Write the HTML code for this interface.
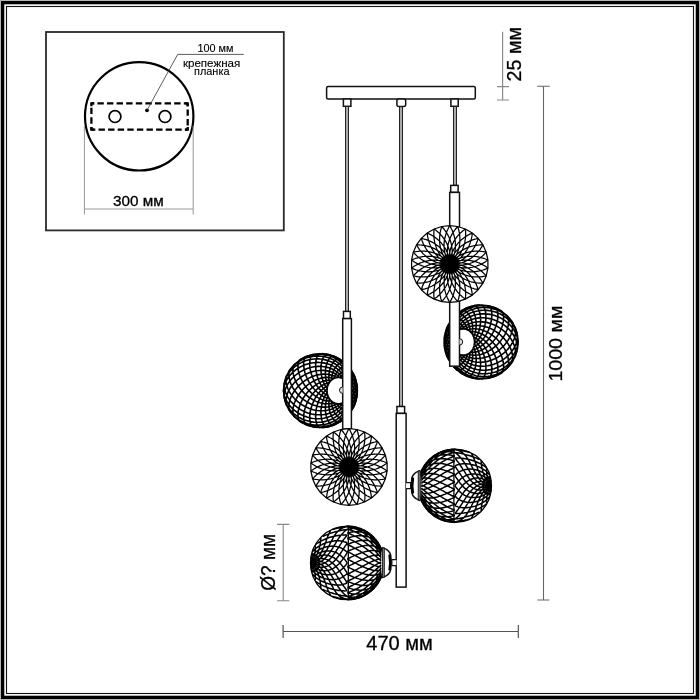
<!DOCTYPE html><html><head><meta charset="utf-8"><title>chandelier</title><style>html,body{margin:0;padding:0;background:#fff;width:700px;height:700px;overflow:hidden}svg{display:block;filter:grayscale(1)}</style></head><body><svg width="700" height="700" viewBox="0 0 700 700"><rect x="0" y="0" width="700" height="700" fill="#b4b4b4"/><rect x="1" y="1" width="698" height="698" fill="#000"/><rect x="4.3" y="4.3" width="691.4" height="691.4" fill="#fff"/><rect x="6.5" y="6.5" width="687" height="687" fill="none" stroke="#111" stroke-width="1.1"/><rect x="46" y="32" width="237.8" height="198.4" fill="none" stroke="#2a2a2a" stroke-width="1.8"/><circle cx="139.2" cy="116.3" r="54.2" fill="none" stroke="#000" stroke-width="2.2"/><path d="M84.4 126V214.5M193.2 126V214.5M84.4 209H193.2" fill="none" stroke="#999" stroke-width="1"/><path d="M91.4 103.4H187.7M187.7 103.4V129.7M187.7 129.7H91.4M91.4 129.7V103.4" fill="none" stroke="#000" stroke-width="2.3" stroke-dasharray="6.4 3.2" stroke-dashoffset="3.6" stroke-linecap="butt"/><path d="M90.4 103.4H94.2M91.4 102.4V106.2M188.7 103.4H184.9M187.7 102.4V106.2M188.7 129.7H184.9M187.7 130.7V126.9M90.4 129.7H94.2M91.4 130.7V126.9" fill="none" stroke="#000" stroke-width="2.3"/><circle cx="115" cy="116.6" r="5.9" fill="none" stroke="#000" stroke-width="1.7"/><circle cx="165" cy="116.6" r="5.9" fill="none" stroke="#000" stroke-width="1.7"/><circle cx="147" cy="110.3" r="1.9" fill="#000"/><path d="M147 110.3L177.7 54.4H243.7" fill="none" stroke="#333" stroke-width="0.8"/><text x="197.4" y="51.8" font-size="10" font-family="Liberation Sans, sans-serif" fill="#000" stroke="#000" stroke-width="0.12" textLength="36" lengthAdjust="spacingAndGlyphs">100 мм</text><text x="182.9" y="66.7" font-size="11" font-family="Liberation Sans, sans-serif" fill="#000" stroke="#000" stroke-width="0.12" textLength="57.4" lengthAdjust="spacingAndGlyphs">крепежная</text><text x="194" y="74.8" font-size="11" font-family="Liberation Sans, sans-serif" fill="#000" stroke="#000" stroke-width="0.12" textLength="35.5" lengthAdjust="spacingAndGlyphs">планка</text><text x="113.1" y="206.2" font-size="14.5" font-family="Liberation Sans, sans-serif" fill="#000" stroke="#000" stroke-width="0.3" textLength="50.7" lengthAdjust="spacingAndGlyphs">300 мм</text><path d="M502.6 31.7V100M497 86.7H509M497 100H509" fill="none" stroke="#8a8a8a" stroke-width="1.2"/><path d="M543.5 86.3V600M537.2 86.3H549.8M537.4 600H549.3" fill="none" stroke="#666" stroke-width="1.1"/><path d="M283.1 631.5H518.3M283.1 625V638M518.3 625V638" fill="none" stroke="#555" stroke-width="1.2"/><path d="M283.2 524.4V600.7M277.1 524.4H289.3M277.1 600.7H289.3" fill="none" stroke="#888" stroke-width="1.1"/><text x="366.3" y="650.1" font-size="20" font-family="Liberation Sans, sans-serif" fill="#000" stroke="#000" stroke-width="0.3" textLength="66.5" lengthAdjust="spacingAndGlyphs">470 мм</text><text transform="translate(521.1 81.4) rotate(-90)" font-size="20" font-family="Liberation Sans, sans-serif" fill="#000" stroke="#000" stroke-width="0.3" textLength="54.3" lengthAdjust="spacingAndGlyphs">25 мм</text><text transform="translate(562 381.6) rotate(-90)" font-size="19" font-family="Liberation Sans, sans-serif" fill="#000" stroke="#000" stroke-width="0.3" textLength="76" lengthAdjust="spacingAndGlyphs">1000 мм</text><text transform="translate(275.3 590.8) rotate(-90)" font-size="20" font-family="Liberation Sans, sans-serif" fill="#000" stroke="#000" stroke-width="0.3" textLength="57" lengthAdjust="spacingAndGlyphs">Ø? мм</text><rect x="326.6" y="86.6" width="148.7" height="12.3" rx="1.5" fill="#fff" stroke="#111" stroke-width="1.5"/><rect x="343.4" y="99" width="7.5" height="7.3" fill="#fff" stroke="#111" stroke-width="1.5"/><rect x="396.9" y="99" width="8.8" height="7.6" rx="2" fill="#fff" stroke="#111" stroke-width="1.5"/><rect x="450.9" y="99" width="7.3" height="7.3" fill="#fff" stroke="#111" stroke-width="1.5"/><rect x="345.5" y="106.5" width="3" height="204.7" fill="#aaa" stroke="#222" stroke-width="1"/><rect x="399.5" y="106.8" width="3" height="299.5" fill="#aaa" stroke="#222" stroke-width="1"/><rect x="453.5" y="106.5" width="3" height="78.7" fill="#aaa" stroke="#222" stroke-width="1"/><circle cx="481.1" cy="342" r="37" fill="#fff"/><path d="M447.8 325.8L448.3 325L448.9 324.2L449.6 323.5L450.4 322.9L451.2 322.4L452.1 322.1L453.1 321.9L454.1 321.8L455.1 321.8L456.2 322L457.3 322.3L458.5 322.8L459.6 323.4L460.7 324.2L461.8 325.2L462.8 326.3L463.8 327.6L464.7 329.1M447.8 358.2L448.3 359L448.9 359.8L449.6 360.5L450.4 361.1L451.2 361.6L452.1 361.9L453.1 362.1L454.1 362.2L455.1 362.2L456.2 362L457.3 361.7L458.5 361.2L459.6 360.6L460.7 359.8L461.8 358.8L462.8 357.7L463.8 356.4L464.7 354.9M451.6 319.7L452.2 319.1L452.9 318.6L453.6 318.2L454.4 318L455.2 317.8L456.1 317.8L457.1 317.9L458 318.1L459 318.5L460 319L461 319.6L462 320.4L463 321.4L463.9 322.4L464.8 323.7L465.6 325L466.4 326.6L467 328.2L467.5 330M445.3 351.5L445.7 352.6L446.2 353.7L446.8 354.7L447.5 355.6L448.2 356.4L449.1 357L450 357.6L451 358L452.1 358.3L453.2 358.5L454.4 358.5L455.6 358.4L456.9 358L458.1 357.5L459.4 356.9L460.6 356L461.8 354.9M456 314.8L456.6 314.4L457.2 314.1L457.9 313.9L458.7 313.8L459.5 313.9L460.3 314.1L461.1 314.3L461.9 314.8L462.8 315.3L463.7 316L464.5 316.8L465.3 317.8L466.1 318.8L466.9 320L467.6 321.4L468.3 322.8L468.8 324.4L469.3 326.1L469.7 327.9L469.9 329.7L470 331.7M444.2 344.8L444.4 346.1L444.7 347.4L445.2 348.7L445.7 349.8L446.4 350.9L447.1 351.9L448 352.8L449 353.5L450 354.2L451.1 354.7L452.3 355L453.6 355.2L454.9 355.2L456.2 355L457.6 354.7L459 354.1M461.4 310.7L462 310.4L462.6 310.3L463.3 310.3L463.9 310.4L464.6 310.6L465.4 311L466.1 311.5L466.8 312.1L467.5 312.8L468.2 313.6L468.9 314.6L469.6 315.7L470.2 316.9L470.8 318.2L471.3 319.6L471.7 321.1L472.1 322.8L472.4 324.5L472.6 326.3L472.7 328.2L472.6 330.1L472.4 332.1L472.1 334.1M444.7 335.1L444.5 336.7L444.4 338.2L444.4 339.8L444.5 341.3L444.8 342.8L445.1 344.2L445.6 345.5L446.3 346.8L447 347.9L447.8 349L448.8 350L449.9 350.8L451 351.5L452.3 352L453.6 352.3L455 352.4L456.4 352.4M467.7 307.5L468.3 307.5L468.8 307.5L469.4 307.7L470 307.9L470.6 308.3L471.2 308.9L471.8 309.5L472.4 310.3L473 311.1L473.5 312.1L474.1 313.2L474.5 314.4L475 315.7L475.3 317.1L475.7 318.6L475.9 320.2L476.1 321.9L476.2 323.7L476.2 325.5L476 327.4L475.8 329.3L475.5 331.2L475 333.2L474.3 335.1L473.5 337M447.9 325.7L447.1 327.3L446.5 328.9L446.1 330.6L445.7 332.3L445.5 334L445.4 335.6L445.4 337.3L445.6 338.9L445.9 340.4L446.3 341.9L446.9 343.4L447.6 344.7L448.4 345.9L449.4 347.1L450.5 348.1L451.7 348.9L453 349.5L454.4 350M474.1 305.7L474.6 305.6L475.1 305.7L475.7 305.9L476.2 306.3L476.7 306.7L477.2 307.2L477.7 307.9L478.2 308.7L478.6 309.6L479.1 310.6L479.4 311.7L479.8 312.9L480.1 314.2L480.3 315.6L480.5 317.1L480.6 318.6L480.6 320.3L480.6 322L480.4 323.8L480.2 325.6L479.9 327.4L479.4 329.3L478.9 331.2L478.2 333.1L477.5 335L476.5 336.9L475.5 338.6L474.3 340.3M457.6 313.4L456.1 314.7L454.8 316L453.5 317.4L452.3 318.9L451.2 320.5L450.3 322.1L449.4 323.8L448.7 325.5L448.1 327.2L447.6 328.9L447.2 330.7L447 332.5L447 334.2L447 335.9L447.2 337.6L447.6 339.3L448.1 340.8L448.8 342.3L449.6 343.7L450.6 345L451.7 346.1L452.9 347M481.3 305L481.8 305.1L482.3 305.4L482.8 305.7L483.3 306.2L483.7 306.8L484.1 307.5L484.5 308.3L484.9 309.2L485.2 310.2L485.4 311.3L485.6 312.5L485.8 313.8L485.9 315.2L485.9 316.6L485.9 318.2L485.8 319.8L485.6 321.4L485.3 323.1L485 324.9L484.5 326.7L484 328.5L483.4 330.4L482.6 332.2L481.8 334L480.8 335.8L479.7 337.6L478.6 339.3L477.3 340.9L475.8 342.4L474.3 343.7M479.9 305L477.9 305.1L475.9 305.4L473.9 305.7L471.9 306.2L470 306.8L468.2 307.5L466.3 308.3L464.5 309.2L462.8 310.2L461.2 311.3L459.6 312.5L458.1 313.8L456.7 315.2L455.4 316.6L454.2 318.2L453.1 319.8L452.1 321.4L451.2 323.1L450.4 324.9L449.8 326.7L449.4 328.5L449 330.4L448.8 332.2L448.8 334L448.9 335.8L449.2 337.6L449.7 339.3L450.4 340.9L451.2 342.4L452.1 343.7M488.1 305.7L488.6 305.8L489.1 306.1L489.5 306.5L489.9 307L490.3 307.6L490.7 308.3L491 309.1L491.3 310.1L491.5 311.1L491.7 312.2L491.8 313.4L491.8 314.7L491.8 316L491.7 317.4L491.6 318.9L491.3 320.5L491 322.1L490.6 323.8L490.2 325.5L489.6 327.2L488.9 328.9L488.2 330.7L487.3 332.5L486.4 334.2L485.4 335.9L484.2 337.6L483 339.3L481.6 340.8L480.2 342.3L478.7 343.7L477 345L475.3 346.1L473.5 347M502.7 312L501.1 310.9L499.4 309.9L497.6 309L495.8 308.2L493.9 307.5L492 306.9L490.1 306.4L488.1 306.1L486.1 305.8L484.1 305.7L482.1 305.6L480.1 305.7L478.1 305.9L476.1 306.3L474.1 306.7L472.2 307.2L470.3 307.9L468.4 308.7L466.6 309.6L464.8 310.6L463.1 311.7L461.5 312.9L460 314.2L458.5 315.6L457.2 317.1L456 318.6L454.8 320.3L453.8 322L452.9 323.8L452.2 325.6L451.6 327.4L451.1 329.3L450.9 331.2L450.7 333.1L450.8 335L451.1 336.9L451.5 338.6L452.1 340.3M495 307.7L495.5 308.1L496 308.5L496.4 309L496.8 309.7L497.1 310.4L497.4 311.2L497.6 312.2L497.8 313.2L497.9 314.3L497.9 315.5L497.8 316.8L497.7 318.1L497.6 319.5L497.3 321L497 322.5L496.5 324.1L496 325.7L495.4 327.3L494.8 328.9L494 330.6L493.1 332.3L492.2 334L491.1 335.6L490 337.3L488.8 338.9L487.5 340.4L486.1 341.9L484.6 343.4L483 344.7L481.3 345.9L479.6 347.1L477.8 348.1L475.9 348.9L474 349.5L472.1 350M513.3 323.8L512.3 322.2L511.2 320.7L510.1 319.3L508.8 317.9L507.4 316.5L506 315.3L504.5 314.1L502.9 313L501.2 312L499.5 311.1L497.7 310.3L495.8 309.5L493.9 308.9L492 308.4L490 308L488 307.7L486 307.5L484 307.5L482 307.5L480 307.7L477.9 307.9L476 308.3L474 308.9L472 309.5L470.1 310.3L468.3 311.1L466.5 312.1L464.8 313.2L463.1 314.4L461.6 315.7L460.1 317.1L458.7 318.6L457.4 320.2L456.3 321.9L455.3 323.7L454.4 325.5L453.7 327.4L453.2 329.3L452.8 331.2L452.6 333.2L452.7 335.1L452.9 337M501.3 311.1L501.8 311.6L502.2 312.1L502.6 312.8L503 313.6L503.2 314.5L503.4 315.4L503.5 316.5L503.6 317.6L503.6 318.8L503.5 320L503.3 321.4L503 322.7L502.7 324.2L502.3 325.7L501.8 327.2L501.2 328.7L500.5 330.3L499.7 331.9L498.8 333.5L497.9 335.1L496.8 336.7L495.7 338.2L494.5 339.8L493.2 341.3L491.8 342.8L490.3 344.2L488.7 345.5L487.1 346.8L485.4 347.9L483.6 349L481.8 350L479.9 350.8L478 351.5L476 352L474 352.3L472 352.4L470 352.4M517 333.2L516.5 331.6L515.9 330L515.2 328.5L514.3 326.9L513.4 325.4L512.3 323.9L511.2 322.5L510 321.1L508.6 319.8L507.2 318.6L505.7 317.4L504.2 316.3L502.5 315.2L500.8 314.3L499 313.4L497.2 312.7L495.3 312L493.4 311.5L491.4 311L489.4 310.7L487.4 310.4L485.4 310.3L483.3 310.3L481.3 310.4L479.2 310.6L477.2 311L475.2 311.5L473.3 312.1L471.3 312.8L469.4 313.6L467.6 314.6L465.9 315.7L464.2 316.9L462.6 318.2L461.1 319.6L459.7 321.1L458.5 322.8L457.4 324.5L456.4 326.3L455.6 328.2L455 330.1L454.5 332.1L454.3 334.1M506.8 315.4L507.2 316.1L507.7 316.8L508 317.6L508.3 318.5L508.5 319.5L508.6 320.6L508.6 321.8L508.6 323L508.4 324.3L508.2 325.6L507.9 327L507.5 328.4L507 329.8L506.4 331.3L505.8 332.8L505 334.3L504.1 335.9L503.2 337.4L502.1 338.9L501 340.4L499.8 341.9L498.5 343.3L497.1 344.8L495.7 346.1L494.1 347.4L492.5 348.7L490.8 349.8L489 350.9L487.2 351.9L485.3 352.8L483.4 353.5L481.5 354.2L479.5 354.7L477.4 355L475.4 355.2L473.4 355.2L471.4 355L469.4 354.7L467.5 354.1M518 343.1L518 341.6L517.9 340.2L517.6 338.6L517.2 337.1L516.7 335.6L516.2 334.1L515.4 332.6L514.6 331.1L513.7 329.6L512.7 328.1L511.6 326.7L510.4 325.4L509.1 324L507.7 322.8L506.2 321.6L504.7 320.4L503 319.4L501.3 318.4L499.6 317.5L497.8 316.7L495.9 316L494 315.3L492 314.8L490 314.4L488 314.1L486 313.9L483.9 313.8L481.8 313.9L479.8 314.1L477.7 314.3L475.7 314.8L473.7 315.3L471.8 316L469.9 316.8L468 317.8L466.2 318.8L464.6 320L463 321.4L461.5 322.8L460.1 324.4L458.9 326.1L457.9 327.9L457 329.7L456.4 331.7M511.2 320.5L511.6 321.3L512 322.2L512.3 323.2L512.5 324.3L512.6 325.4L512.7 326.6L512.6 327.8L512.4 329.1L512.2 330.5L511.9 331.8L511.4 333.3L510.9 334.7L510.3 336.2L509.5 337.6L508.7 339.1L507.8 340.6L506.8 342.1L505.7 343.5L504.5 345L503.2 346.4L501.8 347.7L500.4 349L498.9 350.3L497.3 351.5L495.6 352.6L493.9 353.7L492.1 354.7L490.2 355.6L488.3 356.4L486.3 357L484.3 357.6L482.3 358L480.3 358.3L478.2 358.5L476.2 358.5L474.1 358.4L472.1 358L470.1 357.5L468.2 356.9L466.4 356L464.6 354.9M517.1 350.1L517.3 348.8L517.4 347.5L517.3 346.1L517.2 344.7L516.9 343.3L516.5 341.8L516.1 340.3L515.5 338.9L514.8 337.4L514 335.9L513.1 334.5L512.1 333L511 331.6L509.9 330.2L508.6 328.9L507.2 327.6L505.8 326.4L504.2 325.2L502.6 324.1L501 323L499.2 322.1L497.4 321.2L495.6 320.4L493.7 319.7L491.7 319.1L489.7 318.6L487.7 318.2L485.7 318L483.6 317.8L481.5 317.8L479.5 317.9L477.4 318.1L475.4 318.5L473.4 319L471.4 319.6L469.5 320.4L467.6 321.4L465.9 322.4L464.2 323.7L462.7 325L461.2 326.6L460 328.2L458.9 330M514.8 327L515.2 328L515.4 329.2L515.5 330.4L515.6 331.6L515.5 332.9L515.4 334.2L515.1 335.6L514.8 337L514.3 338.5L513.7 339.9L513.1 341.4L512.3 342.9L511.4 344.3L510.5 345.8L509.4 347.2L508.3 348.6L507 350L505.7 351.3L504.3 352.6L502.8 353.8L501.3 355L499.6 356.1L497.9 357.2L496.1 358.2L494.3 359L492.4 359.8L490.5 360.5L488.5 361.1L486.5 361.6L484.4 361.9L482.4 362.1L480.3 362.2L478.2 362.2L476.2 362L474.1 361.7L472.1 361.2L470.2 360.6L468.3 359.8L466.5 358.8L464.8 357.7L463.2 356.4L461.7 354.9M514.8 357L515.2 356L515.4 354.8L515.5 353.6L515.6 352.4L515.5 351.1L515.4 349.8L515.1 348.4L514.8 347L514.3 345.5L513.7 344.1L513.1 342.6L512.3 341.1L511.4 339.7L510.5 338.2L509.4 336.8L508.3 335.4L507 334L505.7 332.7L504.3 331.4L502.8 330.2L501.3 329L499.6 327.9L497.9 326.8L496.1 325.8L494.3 325L492.4 324.2L490.5 323.5L488.5 322.9L486.5 322.4L484.4 322.1L482.4 321.9L480.3 321.8L478.2 321.8L476.2 322L474.1 322.3L472.1 322.8L470.2 323.4L468.3 324.2L466.5 325.2L464.8 326.3L463.2 327.6L461.7 329.1M517.1 333.9L517.3 335.2L517.4 336.5L517.3 337.9L517.2 339.3L516.9 340.7L516.5 342.2L516.1 343.7L515.5 345.1L514.8 346.6L514 348.1L513.1 349.5L512.1 351L511 352.4L509.9 353.8L508.6 355.1L507.2 356.4L505.8 357.6L504.2 358.8L502.6 359.9L501 361L499.2 361.9L497.4 362.8L495.6 363.6L493.7 364.3L491.7 364.9L489.7 365.4L487.7 365.8L485.7 366L483.6 366.2L481.5 366.2L479.5 366.1L477.4 365.9L475.4 365.5L473.4 365L471.4 364.4L469.5 363.6L467.6 362.6L465.9 361.6L464.2 360.3L462.7 359L461.2 357.4L460 355.8L458.9 354M511.2 363.5L511.6 362.7L512 361.8L512.3 360.8L512.5 359.7L512.6 358.6L512.7 357.4L512.6 356.2L512.4 354.9L512.2 353.5L511.9 352.2L511.4 350.7L510.9 349.3L510.3 347.8L509.5 346.4L508.7 344.9L507.8 343.4L506.8 341.9L505.7 340.5L504.5 339L503.2 337.6L501.8 336.3L500.4 335L498.9 333.7L497.3 332.5L495.6 331.4L493.9 330.3L492.1 329.3L490.2 328.4L488.3 327.6L486.3 327L484.3 326.4L482.3 326L480.3 325.7L478.2 325.5L476.2 325.5L474.1 325.6L472.1 326L470.1 326.5L468.2 327.1L466.4 328L464.6 329.1M518 340.9L518 342.4L517.9 343.8L517.6 345.4L517.2 346.9L516.7 348.4L516.2 349.9L515.4 351.4L514.6 352.9L513.7 354.4L512.7 355.9L511.6 357.3L510.4 358.6L509.1 360L507.7 361.2L506.2 362.4L504.7 363.6L503 364.6L501.3 365.6L499.6 366.5L497.8 367.3L495.9 368L494 368.7L492 369.2L490 369.6L488 369.9L486 370.1L483.9 370.2L481.8 370.1L479.8 369.9L477.7 369.7L475.7 369.2L473.7 368.7L471.8 368L469.9 367.2L468 366.2L466.2 365.2L464.6 364L463 362.6L461.5 361.2L460.1 359.6L458.9 357.9L457.9 356.1L457 354.3L456.4 352.3M506.8 368.6L507.2 367.9L507.7 367.2L508 366.4L508.3 365.5L508.5 364.5L508.6 363.4L508.6 362.2L508.6 361L508.4 359.7L508.2 358.4L507.9 357L507.5 355.6L507 354.2L506.4 352.7L505.8 351.2L505 349.7L504.1 348.1L503.2 346.6L502.1 345.1L501 343.6L499.8 342.1L498.5 340.7L497.1 339.2L495.7 337.9L494.1 336.6L492.5 335.3L490.8 334.2L489 333.1L487.2 332.1L485.3 331.2L483.4 330.5L481.5 329.8L479.5 329.3L477.4 329L475.4 328.8L473.4 328.8L471.4 329L469.4 329.3L467.5 329.9M517 350.8L516.5 352.4L515.9 354L515.2 355.5L514.3 357.1L513.4 358.6L512.3 360.1L511.2 361.5L510 362.9L508.6 364.2L507.2 365.4L505.7 366.6L504.2 367.7L502.5 368.8L500.8 369.7L499 370.6L497.2 371.3L495.3 372L493.4 372.5L491.4 373L489.4 373.3L487.4 373.6L485.4 373.7L483.3 373.7L481.3 373.6L479.2 373.4L477.2 373L475.2 372.5L473.3 371.9L471.3 371.2L469.4 370.4L467.6 369.4L465.9 368.3L464.2 367.1L462.6 365.8L461.1 364.4L459.7 362.9L458.5 361.2L457.4 359.5L456.4 357.7L455.6 355.8L455 353.9L454.5 351.9L454.3 349.9M501.3 372.9L501.8 372.4L502.2 371.9L502.6 371.2L503 370.4L503.2 369.5L503.4 368.6L503.5 367.5L503.6 366.4L503.6 365.2L503.5 364L503.3 362.6L503 361.3L502.7 359.8L502.3 358.3L501.8 356.8L501.2 355.3L500.5 353.7L499.7 352.1L498.8 350.5L497.9 348.9L496.8 347.3L495.7 345.8L494.5 344.2L493.2 342.7L491.8 341.2L490.3 339.8L488.7 338.5L487.1 337.2L485.4 336.1L483.6 335L481.8 334L479.9 333.2L478 332.5L476 332L474 331.7L472 331.6L470 331.6M513.3 360.2L512.3 361.8L511.2 363.3L510.1 364.7L508.8 366.1L507.4 367.5L506 368.7L504.5 369.9L502.9 371L501.2 372L499.5 372.9L497.7 373.7L495.8 374.5L493.9 375.1L492 375.6L490 376L488 376.3L486 376.5L484 376.5L482 376.5L480 376.3L477.9 376.1L476 375.7L474 375.1L472 374.5L470.1 373.7L468.3 372.9L466.5 371.9L464.8 370.8L463.1 369.6L461.6 368.3L460.1 366.9L458.7 365.4L457.4 363.8L456.3 362.1L455.3 360.3L454.4 358.5L453.7 356.6L453.2 354.7L452.8 352.8L452.6 350.8L452.7 348.9L452.9 347M495 376.3L495.5 375.9L496 375.5L496.4 375L496.8 374.3L497.1 373.6L497.4 372.8L497.6 371.8L497.8 370.8L497.9 369.7L497.9 368.5L497.8 367.2L497.7 365.9L497.6 364.5L497.3 363L497 361.5L496.5 359.9L496 358.3L495.4 356.7L494.8 355.1L494 353.4L493.1 351.7L492.2 350L491.1 348.4L490 346.7L488.8 345.1L487.5 343.6L486.1 342.1L484.6 340.6L483 339.3L481.3 338.1L479.6 336.9L477.8 335.9L475.9 335.1L474 334.5L472.1 334M502.7 372L501.1 373.1L499.4 374.1L497.6 375L495.8 375.8L493.9 376.5L492 377.1L490.1 377.6L488.1 377.9L486.1 378.2L484.1 378.3L482.1 378.4L480.1 378.3L478.1 378.1L476.1 377.7L474.1 377.3L472.2 376.8L470.3 376.1L468.4 375.3L466.6 374.4L464.8 373.4L463.1 372.3L461.5 371.1L460 369.8L458.5 368.4L457.2 366.9L456 365.4L454.8 363.7L453.8 362L452.9 360.2L452.2 358.4L451.6 356.6L451.1 354.7L450.9 352.8L450.7 350.9L450.8 349L451.1 347.1L451.5 345.4L452.1 343.7M488.1 378.3L488.6 378.2L489.1 377.9L489.5 377.5L489.9 377L490.3 376.4L490.7 375.7L491 374.9L491.3 373.9L491.5 372.9L491.7 371.8L491.8 370.6L491.8 369.3L491.8 368L491.7 366.6L491.6 365.1L491.3 363.5L491 361.9L490.6 360.2L490.2 358.5L489.6 356.8L488.9 355.1L488.2 353.3L487.3 351.5L486.4 349.8L485.4 348.1L484.2 346.4L483 344.7L481.6 343.2L480.2 341.7L478.7 340.3L477 339L475.3 337.9L473.5 337M479.9 379L477.9 378.9L475.9 378.6L473.9 378.3L471.9 377.8L470 377.2L468.2 376.5L466.3 375.7L464.5 374.8L462.8 373.8L461.2 372.7L459.6 371.5L458.1 370.2L456.7 368.8L455.4 367.4L454.2 365.8L453.1 364.2L452.1 362.6L451.2 360.9L450.4 359.1L449.8 357.3L449.4 355.5L449 353.6L448.8 351.8L448.8 350L448.9 348.2L449.2 346.4L449.7 344.7L450.4 343.1L451.2 341.6L452.1 340.3M481.3 379L481.8 378.9L482.3 378.6L482.8 378.3L483.3 377.8L483.7 377.2L484.1 376.5L484.5 375.7L484.9 374.8L485.2 373.8L485.4 372.7L485.6 371.5L485.8 370.2L485.9 368.8L485.9 367.4L485.9 365.8L485.8 364.2L485.6 362.6L485.3 360.9L485 359.1L484.5 357.3L484 355.5L483.4 353.6L482.6 351.8L481.8 350L480.8 348.2L479.7 346.4L478.6 344.7L477.3 343.1L475.8 341.6L474.3 340.3M457.6 370.6L456.1 369.3L454.8 368L453.5 366.6L452.3 365.1L451.2 363.5L450.3 361.9L449.4 360.2L448.7 358.5L448.1 356.8L447.6 355.1L447.2 353.3L447 351.5L447 349.8L447 348.1L447.2 346.4L447.6 344.7L448.1 343.2L448.8 341.7L449.6 340.3L450.6 339L451.7 337.9L452.9 337M474.1 378.3L474.6 378.4L475.1 378.3L475.7 378.1L476.2 377.7L476.7 377.3L477.2 376.8L477.7 376.1L478.2 375.3L478.6 374.4L479.1 373.4L479.4 372.3L479.8 371.1L480.1 369.8L480.3 368.4L480.5 366.9L480.6 365.4L480.6 363.7L480.6 362L480.4 360.2L480.2 358.4L479.9 356.6L479.4 354.7L478.9 352.8L478.2 350.9L477.5 349L476.5 347.1L475.5 345.4L474.3 343.7M447.9 358.3L447.1 356.7L446.5 355.1L446.1 353.4L445.7 351.7L445.5 350L445.4 348.4L445.4 346.7L445.6 345.1L445.9 343.6L446.3 342.1L446.9 340.6L447.6 339.3L448.4 338.1L449.4 336.9L450.5 335.9L451.7 335.1L453 334.5L454.4 334M467.7 376.5L468.3 376.5L468.8 376.5L469.4 376.3L470 376.1L470.6 375.7L471.2 375.1L471.8 374.5L472.4 373.7L473 372.9L473.5 371.9L474.1 370.8L474.5 369.6L475 368.3L475.3 366.9L475.7 365.4L475.9 363.8L476.1 362.1L476.2 360.3L476.2 358.5L476 356.6L475.8 354.7L475.5 352.8L475 350.8L474.3 348.9L473.5 347M444.7 348.9L444.5 347.3L444.4 345.8L444.4 344.2L444.5 342.7L444.8 341.2L445.1 339.8L445.6 338.5L446.3 337.2L447 336.1L447.8 335L448.8 334L449.9 333.2L451 332.5L452.3 332L453.6 331.7L455 331.6L456.4 331.6M461.4 373.3L462 373.6L462.6 373.7L463.3 373.7L463.9 373.6L464.6 373.4L465.4 373L466.1 372.5L466.8 371.9L467.5 371.2L468.2 370.4L468.9 369.4L469.6 368.3L470.2 367.1L470.8 365.8L471.3 364.4L471.7 362.9L472.1 361.2L472.4 359.5L472.6 357.7L472.7 355.8L472.6 353.9L472.4 351.9L472.1 349.9M444.2 339.2L444.4 337.9L444.7 336.6L445.2 335.3L445.7 334.2L446.4 333.1L447.1 332.1L448 331.2L449 330.5L450 329.8L451.1 329.3L452.3 329L453.6 328.8L454.9 328.8L456.2 329L457.6 329.3L459 329.9M456 369.2L456.6 369.6L457.2 369.9L457.9 370.1L458.7 370.2L459.5 370.1L460.3 369.9L461.1 369.7L461.9 369.2L462.8 368.7L463.7 368L464.5 367.2L465.3 366.2L466.1 365.2L466.9 364L467.6 362.6L468.3 361.2L468.8 359.6L469.3 357.9L469.7 356.1L469.9 354.3L470 352.3M445.3 332.5L445.7 331.4L446.2 330.3L446.8 329.3L447.5 328.4L448.2 327.6L449.1 327L450 326.4L451 326L452.1 325.7L453.2 325.5L454.4 325.5L455.6 325.6L456.9 326L458.1 326.5L459.4 327.1L460.6 328L461.8 329.1M451.6 364.3L452.2 364.9L452.9 365.4L453.6 365.8L454.4 366L455.2 366.2L456.1 366.2L457.1 366.1L458 365.9L459 365.5L460 365L461 364.4L462 363.6L463 362.6L463.9 361.6L464.8 360.3L465.6 359L466.4 357.4L467 355.8L467.5 354" fill="none" stroke="#000" stroke-width="1.6" stroke-linejoin="round"/><path d="M452 342L452.1 340.9L452.2 339.7L452.4 338.6L452.7 337.5L453.1 336.5L453.5 335.5L454.1 334.5L454.7 333.6L455.3 332.8L456 332L456.8 331.3L457.6 330.7L458.5 330.2L459.4 329.8L460.3 329.4L461.3 329.2L462.2 329L463.2 329L464.2 329L465.2 329.2L466.1 329.4L467 329.8L467.9 330.2L468.8 330.7L469.6 331.3L470.4 332L471.1 332.8L471.8 333.6L472.4 334.5L472.9 335.5L473.3 336.5L473.7 337.5L474 338.6L474.2 339.7L474.3 340.9L474.4 342L474.3 343.1L474.2 344.3L474 345.4L473.7 346.5L473.3 347.5L472.9 348.5L472.4 349.5L471.8 350.4L471.1 351.2L470.4 352L469.6 352.7L468.8 353.3L467.9 353.8L467 354.2L466.1 354.6L465.2 354.8L464.2 355L463.2 355L462.2 355L461.3 354.8L460.3 354.6L459.4 354.2L458.5 353.8L457.6 353.3L456.8 352.7L456 352L455.3 351.2L454.7 350.4L454.1 349.5L453.5 348.5L453.1 347.5L452.7 346.5L452.4 345.4L452.2 344.3L452.1 343.1L452 342" fill="none" stroke="#000" stroke-width="1.3"/><circle cx="481.1" cy="342" r="37" fill="none" stroke="#000" stroke-width="1.4"/><rect x="450.7" y="185.4" width="7.4" height="7.0" fill="#fff" stroke="#111" stroke-width="1.5"/><rect x="449.7" y="192.4" width="9.8" height="173.8" fill="#fff" stroke="#111" stroke-width="1.5"/><path d="M459.5 338.7A3.2 3.2 0 0 1 459.5 345.1" fill="#ddd" stroke="#111" stroke-width="1"/><circle cx="449.8" cy="264.1" r="38.4" fill="#fff"/><path d="M449.8 225.7L450.4 226.8L451 228L451.6 229.2L452.2 230.3L452.7 231.5L453.1 232.7L453.5 233.9L453.9 235.1L454.2 236.3L454.5 237.5L454.8 238.7L455 239.9L455.2 241.1L455.3 242.3L455.4 243.5L455.4 244.7L455.4 245.9L455.4 247.1L455.3 248.3L455.2 249.4L455 250.6L454.8 251.7L454.6 252.9L454.3 254L454 255.1L453.7 256.2L453.3 257.3L452.9 258.3L452.4 259.4M449.8 225.7L449.1 226.8L448.5 228L447.9 229.2L447.3 230.3L446.8 231.5L446.4 232.7L446 233.9L445.6 235.1L445.3 236.3L445 237.5L444.7 238.7L444.5 239.9L444.3 241.1L444.2 242.3L444.1 243.5L444.1 244.7L444.1 245.9L444.1 247.1L444.2 248.3L444.3 249.4L444.5 250.6L444.7 251.7L444.9 252.9L445.2 254L445.5 255.1L445.8 256.2L446.2 257.3L446.6 258.3L447.1 259.4M457.7 226.5L458.1 227.8L458.5 229.1L458.8 230.3L459.1 231.6L459.4 232.8L459.6 234.1L459.7 235.3L459.8 236.6L459.9 237.8L459.9 239.1L459.9 240.3L459.9 241.5L459.8 242.7L459.7 243.9L459.5 245.1L459.3 246.3L459.1 247.5L458.8 248.6L458.5 249.8L458.1 250.9L457.7 252L457.3 253.1L456.8 254.1L456.3 255.2L455.8 256.2L455.2 257.2L454.6 258.2L454 259.1L453.3 260M457.7 226.5L456.8 227.5L456 228.5L455.2 229.5L454.4 230.6L453.7 231.6L453 232.7L452.3 233.8L451.7 234.9L451.1 236L450.6 237.1L450.1 238.2L449.6 239.3L449.2 240.5L448.9 241.6L448.5 242.8L448.2 244L448 245.1L447.8 246.3L447.6 247.4L447.5 248.6L447.4 249.8L447.3 250.9L447.3 252.1L447.4 253.3L447.4 254.4L447.6 255.5L447.7 256.7L447.9 257.8L448.1 258.9M465.3 229L465.5 230.3L465.6 231.6L465.6 232.9L465.7 234.2L465.6 235.5L465.6 236.8L465.5 238L465.3 239.3L465.1 240.5L464.9 241.7L464.7 242.9L464.4 244.1L464 245.3L463.6 246.4L463.2 247.6L462.8 248.7L462.3 249.8L461.8 250.8L461.2 251.9L460.7 252.9L460.1 253.9L459.4 254.9L458.7 255.8L458 256.7L457.3 257.6L456.5 258.5L455.7 259.3L454.9 260.1L454.1 260.9M465.3 229L464.3 229.8L463.2 230.6L462.2 231.4L461.3 232.3L460.3 233.1L459.4 234L458.6 235L457.7 235.9L456.9 236.9L456.2 237.9L455.5 238.9L454.8 239.9L454.1 240.9L453.5 241.9L453 243L452.4 244.1L452 245.2L451.5 246.3L451.1 247.4L450.7 248.5L450.4 249.6L450.1 250.7L449.9 251.9L449.7 253L449.5 254.1L449.4 255.3L449.3 256.4L449.2 257.6L449.2 258.7M472.3 233L472.2 234.3L472 235.6L471.8 236.9L471.5 238.2L471.2 239.4L470.9 240.7L470.5 241.9L470.1 243.1L469.7 244.2L469.2 245.4L468.7 246.5L468.2 247.6L467.6 248.7L467 249.7L466.4 250.7L465.7 251.7L465 252.7L464.3 253.6L463.5 254.5L462.7 255.4L461.9 256.3L461.1 257.1L460.2 257.9L459.4 258.6L458.5 259.3L457.5 260L456.6 260.6L455.6 261.3L454.6 261.8M472.3 233L471.1 233.6L469.9 234.1L468.7 234.7L467.6 235.4L466.5 236L465.5 236.7L464.4 237.4L463.4 238.2L462.4 239L461.5 239.8L460.6 240.6L459.7 241.4L458.9 242.3L458.1 243.2L457.3 244.1L456.5 245.1L455.8 246L455.2 247L454.5 248L453.9 249L453.4 250L452.9 251.1L452.4 252.1L452 253.2L451.6 254.3L451.2 255.4L450.9 256.5L450.6 257.6L450.4 258.7M478.2 238.4L477.8 239.6L477.4 240.9L476.9 242.1L476.4 243.3L475.9 244.4L475.3 245.6L474.7 246.7L474 247.8L473.4 248.8L472.7 249.8L471.9 250.8L471.2 251.8L470.4 252.7L469.6 253.6L468.8 254.5L467.9 255.3L467 256.1L466.1 256.9L465.2 257.6L464.3 258.3L463.3 259L462.3 259.6L461.3 260.2L460.3 260.7L459.3 261.2L458.2 261.7L457.2 262.1L456.1 262.5L455 262.9M478.2 238.4L477 238.7L475.7 239L474.4 239.3L473.2 239.7L472 240.1L470.8 240.6L469.6 241.1L468.5 241.6L467.4 242.1L466.3 242.7L465.2 243.4L464.2 244L463.2 244.7L462.2 245.4L461.3 246.1L460.3 246.9L459.4 247.7L458.6 248.5L457.8 249.4L457 250.2L456.2 251.1L455.5 252L454.8 253L454.2 253.9L453.5 254.9L453 255.9L452.4 256.9L451.9 257.9L451.4 259M483 244.9L482.3 246L481.6 247.1L480.9 248.2L480.2 249.3L479.4 250.3L478.6 251.3L477.8 252.2L476.9 253.2L476 254.1L475.1 254.9L474.2 255.7L473.3 256.5L472.3 257.3L471.3 258L470.3 258.6L469.3 259.3L468.3 259.9L467.3 260.4L466.2 261L465.1 261.4L464.1 261.9L463 262.3L461.9 262.7L460.8 263L459.6 263.3L458.5 263.5L457.4 263.7L456.3 263.9L455.1 264M483 244.9L481.6 244.9L480.3 244.9L479 245L477.7 245.1L476.5 245.3L475.2 245.5L474 245.7L472.8 246L471.5 246.3L470.4 246.6L469.2 247L468 247.4L466.9 247.9L465.8 248.4L464.7 248.9L463.7 249.5L462.6 250.1L461.6 250.7L460.7 251.3L459.7 252L458.8 252.7L457.9 253.5L457 254.3L456.2 255.1L455.4 255.9L454.6 256.7L453.9 257.6L453.1 258.5L452.5 259.4M486.2 252.2L485.3 253.2L484.4 254.1L483.5 255L482.6 255.9L481.6 256.8L480.6 257.6L479.6 258.3L478.6 259L477.5 259.7L476.5 260.4L475.4 261L474.3 261.6L473.2 262.1L472.1 262.6L471 263L469.9 263.5L468.8 263.8L467.6 264.2L466.5 264.5L465.3 264.7L464.2 264.9L463 265.1L461.9 265.2L460.7 265.3L459.6 265.3L458.4 265.3L457.3 265.3L456.1 265.2L455 265.1M486.2 252.2L484.9 251.9L483.6 251.7L482.4 251.5L481.1 251.3L479.8 251.2L478.5 251.2L477.3 251.1L476 251.2L474.8 251.2L473.5 251.3L472.3 251.4L471.1 251.6L469.9 251.8L468.7 252.1L467.5 252.4L466.4 252.7L465.3 253.1L464.1 253.5L463.1 253.9L462 254.4L460.9 254.9L459.9 255.4L458.9 256L457.9 256.6L456.9 257.2L456 257.9L455.1 258.6L454.2 259.3L453.4 260.1M487.9 260L486.8 260.8L485.7 261.6L484.6 262.3L483.5 262.9L482.4 263.5L481.3 264.1L480.1 264.7L479 265.2L477.8 265.6L476.7 266L475.5 266.4L474.3 266.7L473.1 267L471.9 267.3L470.8 267.5L469.6 267.7L468.4 267.8L467.2 267.9L466 267.9L464.9 267.9L463.7 267.9L462.5 267.8L461.4 267.7L460.2 267.6L459.1 267.4L458 267.1L456.9 266.9L455.8 266.5L454.7 266.2M487.9 260L486.7 259.5L485.5 259L484.3 258.5L483 258.1L481.8 257.8L480.6 257.4L479.3 257.1L478.1 256.9L476.9 256.7L475.7 256.5L474.4 256.4L473.2 256.3L472 256.3L470.8 256.3L469.6 256.3L468.4 256.4L467.2 256.5L466 256.7L464.9 256.9L463.7 257.1L462.6 257.4L461.5 257.7L460.4 258.1L459.3 258.4L458.2 258.9L457.2 259.3L456.1 259.8L455.1 260.4L454.1 260.9M487.9 268.1L486.7 268.6L485.5 269.1L484.3 269.6L483 270L481.8 270.3L480.6 270.7L479.3 271L478.1 271.2L476.9 271.4L475.7 271.6L474.4 271.7L473.2 271.8L472 271.8L470.8 271.8L469.6 271.8L468.4 271.7L467.2 271.6L466 271.4L464.9 271.2L463.7 271L462.6 270.7L461.5 270.4L460.4 270L459.3 269.7L458.2 269.2L457.2 268.8L456.1 268.3L455.1 267.7L454.1 267.2M487.9 268.1L486.8 267.3L485.7 266.5L484.6 265.8L483.5 265.2L482.4 264.6L481.3 264L480.1 263.4L479 262.9L477.8 262.5L476.7 262.1L475.5 261.7L474.3 261.4L473.1 261.1L471.9 260.8L470.8 260.6L469.6 260.4L468.4 260.3L467.2 260.2L466 260.2L464.9 260.2L463.7 260.2L462.5 260.3L461.4 260.4L460.2 260.5L459.1 260.7L458 261L456.9 261.2L455.8 261.6L454.7 261.9M486.2 275.9L484.9 276.2L483.6 276.4L482.4 276.6L481.1 276.8L479.8 276.9L478.5 276.9L477.3 277L476 276.9L474.8 276.9L473.5 276.8L472.3 276.7L471.1 276.5L469.9 276.3L468.7 276L467.5 275.7L466.4 275.4L465.3 275L464.1 274.6L463.1 274.2L462 273.7L460.9 273.2L459.9 272.7L458.9 272.1L457.9 271.5L456.9 270.9L456 270.2L455.1 269.5L454.2 268.8L453.4 268M486.2 275.9L485.3 274.9L484.4 274L483.5 273.1L482.6 272.2L481.6 271.3L480.6 270.5L479.6 269.8L478.6 269.1L477.5 268.4L476.5 267.7L475.4 267.1L474.3 266.5L473.2 266L472.1 265.5L471 265.1L469.9 264.6L468.8 264.3L467.6 263.9L466.5 263.6L465.3 263.4L464.2 263.2L463 263L461.9 262.9L460.7 262.8L459.6 262.8L458.4 262.8L457.3 262.8L456.1 262.9L455 263M483 283.2L481.6 283.2L480.3 283.2L479 283.1L477.7 283L476.5 282.8L475.2 282.6L474 282.4L472.8 282.1L471.5 281.8L470.4 281.5L469.2 281.1L468 280.7L466.9 280.2L465.8 279.7L464.7 279.2L463.7 278.6L462.6 278L461.6 277.4L460.7 276.8L459.7 276.1L458.8 275.4L457.9 274.6L457 273.8L456.2 273L455.4 272.2L454.6 271.4L453.9 270.5L453.1 269.6L452.5 268.7M483 283.2L482.3 282.1L481.6 281L480.9 279.9L480.2 278.8L479.4 277.8L478.6 276.8L477.8 275.9L476.9 274.9L476 274L475.1 273.2L474.2 272.4L473.3 271.6L472.3 270.8L471.3 270.1L470.3 269.5L469.3 268.8L468.3 268.2L467.3 267.7L466.2 267.1L465.1 266.7L464.1 266.2L463 265.8L461.9 265.4L460.8 265.1L459.6 264.8L458.5 264.6L457.4 264.4L456.3 264.2L455.1 264.1M478.2 289.7L477 289.4L475.7 289.1L474.4 288.8L473.2 288.4L472 288L470.8 287.5L469.6 287L468.5 286.5L467.4 286L466.3 285.4L465.2 284.7L464.2 284.1L463.2 283.4L462.2 282.7L461.3 282L460.3 281.2L459.4 280.4L458.6 279.6L457.8 278.7L457 277.9L456.2 277L455.5 276.1L454.8 275.1L454.2 274.2L453.5 273.2L453 272.2L452.4 271.2L451.9 270.2L451.4 269.1M478.2 289.7L477.8 288.5L477.4 287.2L476.9 286L476.4 284.8L475.9 283.7L475.3 282.5L474.7 281.4L474 280.3L473.4 279.3L472.7 278.3L471.9 277.3L471.2 276.3L470.4 275.4L469.6 274.5L468.8 273.6L467.9 272.8L467 272L466.1 271.2L465.2 270.5L464.3 269.8L463.3 269.1L462.3 268.5L461.3 267.9L460.3 267.4L459.3 266.9L458.2 266.4L457.2 266L456.1 265.6L455 265.2M472.3 295.1L471.1 294.5L469.9 294L468.7 293.4L467.6 292.7L466.5 292.1L465.5 291.4L464.4 290.7L463.4 289.9L462.4 289.1L461.5 288.3L460.6 287.5L459.7 286.7L458.9 285.8L458.1 284.9L457.3 284L456.5 283L455.8 282.1L455.2 281.1L454.5 280.1L453.9 279.1L453.4 278.1L452.9 277L452.4 276L452 274.9L451.6 273.8L451.2 272.7L450.9 271.6L450.6 270.5L450.4 269.4M472.3 295.1L472.2 293.8L472 292.5L471.8 291.2L471.5 289.9L471.2 288.7L470.9 287.4L470.5 286.2L470.1 285L469.7 283.9L469.2 282.7L468.7 281.6L468.2 280.5L467.6 279.4L467 278.4L466.4 277.4L465.7 276.4L465 275.4L464.3 274.5L463.5 273.6L462.7 272.7L461.9 271.8L461.1 271L460.2 270.2L459.4 269.5L458.5 268.8L457.5 268.1L456.6 267.5L455.6 266.8L454.6 266.3M465.3 299.1L464.3 298.3L463.2 297.5L462.2 296.7L461.3 295.8L460.3 295L459.4 294.1L458.6 293.1L457.7 292.2L456.9 291.2L456.2 290.2L455.5 289.2L454.8 288.2L454.1 287.2L453.5 286.2L453 285.1L452.4 284L452 282.9L451.5 281.8L451.1 280.7L450.7 279.6L450.4 278.5L450.1 277.4L449.9 276.2L449.7 275.1L449.5 274L449.4 272.8L449.3 271.7L449.2 270.5L449.2 269.4M465.3 299.1L465.5 297.8L465.6 296.5L465.6 295.2L465.7 293.9L465.6 292.6L465.6 291.3L465.5 290.1L465.3 288.8L465.1 287.6L464.9 286.4L464.7 285.2L464.4 284L464 282.8L463.6 281.7L463.2 280.5L462.8 279.4L462.3 278.3L461.8 277.3L461.2 276.2L460.7 275.2L460.1 274.2L459.4 273.2L458.7 272.3L458 271.4L457.3 270.5L456.5 269.6L455.7 268.8L454.9 268L454.1 267.2M457.7 301.6L456.8 300.6L456 299.6L455.2 298.6L454.4 297.5L453.7 296.5L453 295.4L452.3 294.3L451.7 293.2L451.1 292.1L450.6 291L450.1 289.9L449.6 288.8L449.2 287.6L448.9 286.5L448.5 285.3L448.2 284.1L448 283L447.8 281.8L447.6 280.7L447.5 279.5L447.4 278.3L447.3 277.2L447.3 276L447.4 274.8L447.4 273.7L447.6 272.6L447.7 271.4L447.9 270.3L448.1 269.2M457.7 301.6L458.1 300.3L458.5 299L458.8 297.8L459.1 296.5L459.4 295.3L459.6 294L459.7 292.8L459.8 291.5L459.9 290.3L459.9 289L459.9 287.8L459.9 286.6L459.8 285.4L459.7 284.2L459.5 283L459.3 281.8L459.1 280.6L458.8 279.5L458.5 278.3L458.1 277.2L457.7 276.1L457.3 275L456.8 274L456.3 272.9L455.8 271.9L455.2 270.9L454.6 269.9L454 269L453.3 268.1M449.8 302.4L449.1 301.3L448.5 300.1L447.9 298.9L447.3 297.8L446.8 296.6L446.4 295.4L446 294.2L445.6 293L445.3 291.8L445 290.6L444.7 289.4L444.5 288.2L444.3 287L444.2 285.8L444.1 284.6L444.1 283.4L444.1 282.2L444.1 281L444.2 279.8L444.3 278.7L444.5 277.5L444.7 276.4L444.9 275.2L445.2 274.1L445.5 273L445.8 271.9L446.2 270.8L446.6 269.8L447.1 268.7M449.8 302.4L450.4 301.3L451 300.1L451.6 298.9L452.2 297.8L452.7 296.6L453.1 295.4L453.5 294.2L453.9 293L454.2 291.8L454.5 290.6L454.8 289.4L455 288.2L455.2 287L455.3 285.8L455.4 284.6L455.4 283.4L455.4 282.2L455.4 281L455.3 279.8L455.2 278.7L455 277.5L454.8 276.4L454.6 275.2L454.3 274.1L454 273L453.7 271.9L453.3 270.8L452.9 269.8L452.4 268.7M441.8 301.6L441.4 300.3L441 299L440.7 297.8L440.4 296.5L440.1 295.3L439.9 294L439.8 292.8L439.7 291.5L439.6 290.3L439.6 289L439.6 287.8L439.6 286.6L439.7 285.4L439.8 284.2L440 283L440.2 281.8L440.4 280.6L440.7 279.5L441 278.3L441.4 277.2L441.8 276.1L442.2 275L442.7 274L443.2 272.9L443.7 271.9L444.3 270.9L444.9 269.9L445.5 269L446.2 268.1M441.8 301.6L442.7 300.6L443.5 299.6L444.3 298.6L445.1 297.5L445.8 296.5L446.5 295.4L447.2 294.3L447.8 293.2L448.4 292.1L448.9 291L449.4 289.9L449.9 288.8L450.3 287.6L450.6 286.5L451 285.3L451.3 284.1L451.5 283L451.7 281.8L451.9 280.7L452 279.5L452.1 278.3L452.2 277.2L452.2 276L452.1 274.8L452.1 273.7L451.9 272.6L451.8 271.4L451.6 270.3L451.4 269.2M434.2 299.1L434 297.8L433.9 296.5L433.9 295.2L433.8 293.9L433.9 292.6L433.9 291.3L434 290.1L434.2 288.8L434.4 287.6L434.6 286.4L434.8 285.2L435.1 284L435.5 282.8L435.9 281.7L436.3 280.5L436.7 279.4L437.2 278.3L437.7 277.3L438.3 276.2L438.8 275.2L439.4 274.2L440.1 273.2L440.8 272.3L441.5 271.4L442.2 270.5L443 269.6L443.8 268.8L444.6 268L445.4 267.2M434.2 299.1L435.2 298.3L436.3 297.5L437.3 296.7L438.2 295.8L439.2 295L440.1 294.1L440.9 293.1L441.8 292.2L442.6 291.2L443.3 290.2L444 289.2L444.7 288.2L445.4 287.2L446 286.2L446.5 285.1L447.1 284L447.5 282.9L448 281.8L448.4 280.7L448.8 279.6L449.1 278.5L449.4 277.4L449.6 276.2L449.8 275.1L450 274L450.1 272.8L450.2 271.7L450.3 270.5L450.3 269.4M427.2 295.1L427.3 293.8L427.5 292.5L427.7 291.2L428 289.9L428.3 288.7L428.6 287.4L429 286.2L429.4 285L429.8 283.9L430.3 282.7L430.8 281.6L431.3 280.5L431.9 279.4L432.5 278.4L433.1 277.4L433.8 276.4L434.5 275.4L435.2 274.5L436 273.6L436.8 272.7L437.6 271.8L438.4 271L439.3 270.2L440.1 269.5L441 268.8L442 268.1L442.9 267.5L443.9 266.8L444.9 266.3M427.2 295.1L428.4 294.5L429.6 294L430.8 293.4L431.9 292.7L433 292.1L434 291.4L435.1 290.7L436.1 289.9L437.1 289.1L438 288.3L438.9 287.5L439.8 286.7L440.6 285.8L441.4 284.9L442.2 284L443 283L443.7 282.1L444.3 281.1L445 280.1L445.6 279.1L446.1 278.1L446.6 277L447.1 276L447.5 274.9L447.9 273.8L448.3 272.7L448.6 271.6L448.9 270.5L449.1 269.4M421.3 289.7L421.7 288.5L422.1 287.2L422.6 286L423.1 284.8L423.6 283.7L424.2 282.5L424.8 281.4L425.5 280.3L426.1 279.3L426.8 278.3L427.6 277.3L428.3 276.3L429.1 275.4L429.9 274.5L430.7 273.6L431.6 272.8L432.5 272L433.4 271.2L434.3 270.5L435.2 269.8L436.2 269.1L437.2 268.5L438.2 267.9L439.2 267.4L440.2 266.9L441.3 266.4L442.3 266L443.4 265.6L444.5 265.2M421.3 289.7L422.5 289.4L423.8 289.1L425.1 288.8L426.3 288.4L427.5 288L428.7 287.5L429.9 287L431 286.5L432.1 286L433.2 285.4L434.3 284.7L435.3 284.1L436.3 283.4L437.3 282.7L438.2 282L439.2 281.2L440.1 280.4L440.9 279.6L441.7 278.7L442.5 277.9L443.3 277L444 276.1L444.7 275.1L445.3 274.2L446 273.2L446.5 272.2L447.1 271.2L447.6 270.2L448.1 269.1M416.5 283.2L417.2 282.1L417.9 281L418.6 279.9L419.3 278.8L420.1 277.8L420.9 276.8L421.7 275.9L422.6 274.9L423.5 274L424.4 273.2L425.3 272.4L426.2 271.6L427.2 270.8L428.2 270.1L429.2 269.5L430.2 268.8L431.2 268.2L432.2 267.7L433.3 267.1L434.4 266.7L435.4 266.2L436.5 265.8L437.6 265.4L438.7 265.1L439.9 264.8L441 264.6L442.1 264.4L443.2 264.2L444.4 264.1M416.5 283.2L417.9 283.2L419.2 283.2L420.5 283.1L421.8 283L423 282.8L424.3 282.6L425.5 282.4L426.7 282.1L428 281.8L429.1 281.5L430.3 281.1L431.5 280.7L432.6 280.2L433.7 279.7L434.8 279.2L435.8 278.6L436.9 278L437.9 277.4L438.8 276.8L439.8 276.1L440.7 275.4L441.6 274.6L442.5 273.8L443.3 273L444.1 272.2L444.9 271.4L445.6 270.5L446.4 269.6L447 268.7M413.3 275.9L414.2 274.9L415.1 274L416 273.1L416.9 272.2L417.9 271.3L418.9 270.5L419.9 269.8L420.9 269.1L422 268.4L423 267.7L424.1 267.1L425.2 266.5L426.3 266L427.4 265.5L428.5 265.1L429.6 264.6L430.7 264.3L431.9 263.9L433 263.6L434.2 263.4L435.3 263.2L436.5 263L437.6 262.9L438.8 262.8L439.9 262.8L441.1 262.8L442.2 262.8L443.4 262.9L444.5 263M413.3 275.9L414.6 276.2L415.9 276.4L417.1 276.6L418.4 276.8L419.7 276.9L421 276.9L422.2 277L423.5 276.9L424.7 276.9L426 276.8L427.2 276.7L428.4 276.5L429.6 276.3L430.8 276L432 275.7L433.1 275.4L434.2 275L435.4 274.6L436.4 274.2L437.5 273.7L438.6 273.2L439.6 272.7L440.6 272.1L441.6 271.5L442.6 270.9L443.5 270.2L444.4 269.5L445.3 268.8L446.1 268M411.6 268.1L412.7 267.3L413.8 266.5L414.9 265.8L416 265.2L417.1 264.6L418.2 264L419.4 263.4L420.5 262.9L421.7 262.5L422.8 262.1L424 261.7L425.2 261.4L426.4 261.1L427.6 260.8L428.7 260.6L429.9 260.4L431.1 260.3L432.3 260.2L433.5 260.2L434.6 260.2L435.8 260.2L437 260.3L438.1 260.4L439.3 260.5L440.4 260.7L441.5 261L442.6 261.2L443.7 261.6L444.8 261.9M411.6 268.1L412.8 268.6L414 269.1L415.2 269.6L416.5 270L417.7 270.3L418.9 270.7L420.2 271L421.4 271.2L422.6 271.4L423.8 271.6L425.1 271.7L426.3 271.8L427.5 271.8L428.7 271.8L429.9 271.8L431.1 271.7L432.3 271.6L433.5 271.4L434.6 271.2L435.8 271L436.9 270.7L438 270.4L439.1 270L440.2 269.7L441.3 269.2L442.3 268.8L443.4 268.3L444.4 267.7L445.4 267.2M411.6 260L412.8 259.5L414 259L415.2 258.5L416.5 258.1L417.7 257.8L418.9 257.4L420.2 257.1L421.4 256.9L422.6 256.7L423.8 256.5L425.1 256.4L426.3 256.3L427.5 256.3L428.7 256.3L429.9 256.3L431.1 256.4L432.3 256.5L433.5 256.7L434.6 256.9L435.8 257.1L436.9 257.4L438 257.7L439.1 258.1L440.2 258.4L441.3 258.9L442.3 259.3L443.4 259.8L444.4 260.4L445.4 260.9M411.6 260L412.7 260.8L413.8 261.6L414.9 262.3L416 262.9L417.1 263.5L418.2 264.1L419.4 264.7L420.5 265.2L421.7 265.6L422.8 266L424 266.4L425.2 266.7L426.4 267L427.6 267.3L428.7 267.5L429.9 267.7L431.1 267.8L432.3 267.9L433.5 267.9L434.6 267.9L435.8 267.9L437 267.8L438.1 267.7L439.3 267.6L440.4 267.4L441.5 267.1L442.6 266.9L443.7 266.5L444.8 266.2M413.3 252.2L414.6 251.9L415.9 251.7L417.1 251.5L418.4 251.3L419.7 251.2L421 251.2L422.2 251.1L423.5 251.2L424.7 251.2L426 251.3L427.2 251.4L428.4 251.6L429.6 251.8L430.8 252.1L432 252.4L433.1 252.7L434.2 253.1L435.4 253.5L436.4 253.9L437.5 254.4L438.6 254.9L439.6 255.4L440.6 256L441.6 256.6L442.6 257.2L443.5 257.9L444.4 258.6L445.3 259.3L446.1 260.1M413.3 252.2L414.2 253.2L415.1 254.1L416 255L416.9 255.9L417.9 256.8L418.9 257.6L419.9 258.3L420.9 259L422 259.7L423 260.4L424.1 261L425.2 261.6L426.3 262.1L427.4 262.6L428.5 263L429.6 263.5L430.7 263.8L431.9 264.2L433 264.5L434.2 264.7L435.3 264.9L436.5 265.1L437.6 265.2L438.8 265.3L439.9 265.3L441.1 265.3L442.2 265.3L443.4 265.2L444.5 265.1M416.5 244.9L417.9 244.9L419.2 244.9L420.5 245L421.8 245.1L423 245.3L424.3 245.5L425.5 245.7L426.7 246L428 246.3L429.1 246.6L430.3 247L431.5 247.4L432.6 247.9L433.7 248.4L434.8 248.9L435.8 249.5L436.9 250.1L437.9 250.7L438.8 251.3L439.8 252L440.7 252.7L441.6 253.5L442.5 254.3L443.3 255.1L444.1 255.9L444.9 256.7L445.6 257.6L446.4 258.5L447 259.4M416.5 244.9L417.2 246L417.9 247.1L418.6 248.2L419.3 249.3L420.1 250.3L420.9 251.3L421.7 252.2L422.6 253.2L423.5 254.1L424.4 254.9L425.3 255.7L426.2 256.5L427.2 257.3L428.2 258L429.2 258.6L430.2 259.3L431.2 259.9L432.2 260.4L433.3 261L434.4 261.4L435.4 261.9L436.5 262.3L437.6 262.7L438.7 263L439.9 263.3L441 263.5L442.1 263.7L443.2 263.9L444.4 264M421.3 238.4L422.5 238.7L423.8 239L425.1 239.3L426.3 239.7L427.5 240.1L428.7 240.6L429.9 241.1L431 241.6L432.1 242.1L433.2 242.7L434.3 243.4L435.3 244L436.3 244.7L437.3 245.4L438.2 246.1L439.2 246.9L440.1 247.7L440.9 248.5L441.7 249.4L442.5 250.2L443.3 251.1L444 252L444.7 253L445.3 253.9L446 254.9L446.5 255.9L447.1 256.9L447.6 257.9L448.1 259M421.3 238.4L421.7 239.6L422.1 240.9L422.6 242.1L423.1 243.3L423.6 244.4L424.2 245.6L424.8 246.7L425.5 247.8L426.1 248.8L426.8 249.8L427.6 250.8L428.3 251.8L429.1 252.7L429.9 253.6L430.7 254.5L431.6 255.3L432.5 256.1L433.4 256.9L434.3 257.6L435.2 258.3L436.2 259L437.2 259.6L438.2 260.2L439.2 260.7L440.2 261.2L441.3 261.7L442.3 262.1L443.4 262.5L444.5 262.9M427.2 233L428.4 233.6L429.6 234.1L430.8 234.7L431.9 235.4L433 236L434 236.7L435.1 237.4L436.1 238.2L437.1 239L438 239.8L438.9 240.6L439.8 241.4L440.6 242.3L441.4 243.2L442.2 244.1L443 245.1L443.7 246L444.3 247L445 248L445.6 249L446.1 250L446.6 251.1L447.1 252.1L447.5 253.2L447.9 254.3L448.3 255.4L448.6 256.5L448.9 257.6L449.1 258.7M427.2 233L427.3 234.3L427.5 235.6L427.7 236.9L428 238.2L428.3 239.4L428.6 240.7L429 241.9L429.4 243.1L429.8 244.2L430.3 245.4L430.8 246.5L431.3 247.6L431.9 248.7L432.5 249.7L433.1 250.7L433.8 251.7L434.5 252.7L435.2 253.6L436 254.5L436.8 255.4L437.6 256.3L438.4 257.1L439.3 257.9L440.1 258.6L441 259.3L442 260L442.9 260.6L443.9 261.3L444.9 261.8M434.2 229L435.2 229.8L436.3 230.6L437.3 231.4L438.2 232.3L439.2 233.1L440.1 234L440.9 235L441.8 235.9L442.6 236.9L443.3 237.9L444 238.9L444.7 239.9L445.4 240.9L446 241.9L446.5 243L447.1 244.1L447.5 245.2L448 246.3L448.4 247.4L448.8 248.5L449.1 249.6L449.4 250.7L449.6 251.9L449.8 253L450 254.1L450.1 255.3L450.2 256.4L450.3 257.6L450.3 258.7M434.2 229L434 230.3L433.9 231.6L433.9 232.9L433.8 234.2L433.9 235.5L433.9 236.8L434 238L434.2 239.3L434.4 240.5L434.6 241.7L434.8 242.9L435.1 244.1L435.5 245.3L435.9 246.4L436.3 247.6L436.7 248.7L437.2 249.8L437.7 250.8L438.3 251.9L438.8 252.9L439.4 253.9L440.1 254.9L440.8 255.8L441.5 256.7L442.2 257.6L443 258.5L443.8 259.3L444.6 260.1L445.4 260.9M441.8 226.5L442.7 227.5L443.5 228.5L444.3 229.5L445.1 230.6L445.8 231.6L446.5 232.7L447.2 233.8L447.8 234.9L448.4 236L448.9 237.1L449.4 238.2L449.9 239.3L450.3 240.5L450.6 241.6L451 242.8L451.3 244L451.5 245.1L451.7 246.3L451.9 247.4L452 248.6L452.1 249.8L452.2 250.9L452.2 252.1L452.1 253.3L452.1 254.4L451.9 255.5L451.8 256.7L451.6 257.8L451.4 258.9M441.8 226.5L441.4 227.8L441 229.1L440.7 230.3L440.4 231.6L440.1 232.8L439.9 234.1L439.8 235.3L439.7 236.6L439.6 237.8L439.6 239.1L439.6 240.3L439.6 241.5L439.7 242.7L439.8 243.9L440 245.1L440.2 246.3L440.4 247.5L440.7 248.6L441 249.8L441.4 250.9L441.8 252L442.2 253.1L442.7 254.1L443.2 255.2L443.7 256.2L444.3 257.2L444.9 258.2L445.5 259.1L446.2 260" fill="none" stroke="#000" stroke-width="1.25" stroke-linejoin="round"/><path d="M449.8 225.7L457.7 226.5L465.3 229L472.3 233L478.2 238.4L483 244.9L486.2 252.2L487.9 260L487.9 268.1L486.2 275.9L483 283.2L478.2 289.7L472.3 295.1L465.3 299.1L457.7 301.6L449.8 302.4L441.8 301.6L434.2 299.1L427.2 295.1L421.3 289.7L416.5 283.2L413.3 275.9L411.6 268.1L411.6 260L413.3 252.2L416.5 244.9L421.3 238.4L427.2 233L434.2 229L441.8 226.5Z" fill="none" stroke="#000" stroke-width="1.25" stroke-linejoin="round"/><circle cx="449.8" cy="264.1" r="8.5" fill="#000"/><circle cx="320.5" cy="390.6" r="37" fill="#fff"/><path d="M286.7 405.6L286.4 404.6L286.1 403.4L286 402.2L286 401L286 399.7L286.2 398.4L286.4 397L286.8 395.6L287.3 394.1L287.8 392.7L288.5 391.2L289.2 389.7L290.1 388.3L291.1 386.8L292.1 385.4L293.3 384L294.5 382.6L295.8 381.3L297.2 380L298.7 378.8L300.3 377.6L301.9 376.5L303.7 375.4L305.4 374.4L307.3 373.6L309.2 372.8L311.1 372.1L313.1 371.5L315.1 371L317.1 370.7L319.2 370.5L321.3 370.4L323.3 370.4L325.4 370.6L327.4 370.9L329.4 371.4L331.4 372L333.3 372.8L335.1 373.8L336.8 374.9L338.4 376.2L339.8 377.7M286.7 375.6L286.4 376.6L286.1 377.8L286 379L286 380.2L286 381.5L286.2 382.8L286.4 384.2L286.8 385.6L287.3 387.1L287.8 388.5L288.5 390L289.2 391.5L290.1 392.9L291.1 394.4L292.1 395.8L293.3 397.2L294.5 398.6L295.8 399.9L297.2 401.2L298.7 402.4L300.3 403.6L301.9 404.7L303.7 405.8L305.4 406.8L307.3 407.6L309.2 408.4L311.1 409.1L313.1 409.7L315.1 410.2L317.1 410.5L319.2 410.7L321.3 410.8L323.3 410.8L325.4 410.6L327.4 410.3L329.4 409.8L331.4 409.2L333.3 408.4L335.1 407.4L336.8 406.3L338.4 405L339.8 403.5M284.4 398.7L284.3 397.4L284.2 396.1L284.2 394.7L284.4 393.3L284.6 391.9L285 390.4L285.5 388.9L286.1 387.5L286.8 386L287.5 384.5L288.4 383.1L289.4 381.6L290.5 380.2L291.7 378.8L293 377.5L294.3 376.2L295.8 375L297.3 373.8L298.9 372.7L300.6 371.6L302.3 370.7L304.1 369.8L306 369L307.9 368.3L309.8 367.7L311.8 367.2L313.9 366.8L315.9 366.6L318 366.4L320 366.4L322.1 366.5L324.2 366.7L326.2 367.1L328.2 367.6L330.2 368.2L332.1 369L333.9 370L335.7 371L337.3 372.3L338.9 373.6L340.3 375.2L341.6 376.8L342.6 378.6M290.4 369.1L289.9 369.9L289.6 370.8L289.3 371.8L289 372.9L288.9 374L288.9 375.2L289 376.4L289.1 377.7L289.4 379.1L289.7 380.4L290.1 381.9L290.7 383.3L291.3 384.8L292 386.2L292.8 387.7L293.8 389.2L294.8 390.7L295.9 392.1L297.1 393.6L298.3 395L299.7 396.3L301.1 397.6L302.7 398.9L304.3 400.1L305.9 401.2L307.7 402.3L309.5 403.3L311.3 404.2L313.3 405L315.2 405.6L317.2 406.2L319.2 406.6L321.3 406.9L323.3 407.1L325.4 407.1L327.4 407L329.4 406.6L331.4 406.1L333.3 405.5L335.2 404.6L336.9 403.5M283.5 391.7L283.5 390.2L283.7 388.8L283.9 387.2L284.3 385.7L284.8 384.2L285.4 382.7L286.1 381.2L286.9 379.7L287.8 378.2L288.8 376.7L290 375.3L291.2 374L292.5 372.6L293.9 371.4L295.3 370.2L296.9 369L298.5 368L300.2 367L302 366.1L303.8 365.3L305.7 364.6L307.6 363.9L309.5 363.4L311.5 363L313.6 362.7L315.6 362.5L317.6 362.4L319.7 362.5L321.8 362.7L323.8 362.9L325.8 363.4L327.8 363.9L329.8 364.6L331.7 365.4L333.5 366.4L335.3 367.4L337 368.6L338.6 370L340.1 371.4L341.4 373L342.6 374.7L343.6 376.5L344.5 378.3L345.2 380.3M294.8 364L294.3 364.7L293.9 365.4L293.6 366.2L293.3 367.1L293.1 368.1L293 369.2L292.9 370.4L293 371.6L293.1 372.9L293.3 374.2L293.7 375.6L294.1 377L294.5 378.4L295.1 379.9L295.8 381.4L296.6 382.9L297.4 384.5L298.4 386L299.4 387.5L300.5 389L301.7 390.5L303 391.9L304.4 393.4L305.9 394.7L307.4 396L309.1 397.3L310.8 398.4L312.5 399.5L314.3 400.5L316.2 401.4L318.1 402.1L320.1 402.8L322.1 403.3L324.1 403.6L326.1 403.8L328.2 403.8L330.2 403.6L332.2 403.3L334.1 402.7M284.6 381.8L285.1 380.2L285.7 378.6L286.4 377.1L287.2 375.5L288.2 374L289.2 372.5L290.3 371.1L291.6 369.7L292.9 368.4L294.3 367.2L295.8 366L297.4 364.9L299 363.8L300.8 362.9L302.5 362L304.4 361.3L306.3 360.6L308.2 360.1L310.1 359.6L312.1 359.3L314.1 359L316.2 358.9L318.2 358.9L320.3 359L322.3 359.2L324.3 359.6L326.3 360.1L328.3 360.7L330.2 361.4L332.1 362.2L333.9 363.2L335.7 364.3L337.4 365.5L339 366.8L340.4 368.2L341.8 369.7L343.1 371.4L344.2 373.1L345.2 374.9L346 376.8L346.6 378.7L347 380.7L347.2 382.7M300.2 359.7L299.7 360.2L299.3 360.7L298.9 361.4L298.6 362.2L298.3 363.1L298.1 364L298 365.1L298 366.2L298 367.4L298.1 368.6L298.2 370L298.5 371.3L298.8 372.8L299.3 374.3L299.8 375.8L300.4 377.3L301.1 378.9L301.9 380.5L302.7 382.1L303.7 383.7L304.7 385.3L305.9 386.8L307.1 388.4L308.4 389.9L309.8 391.4L311.3 392.8L312.8 394.1L314.5 395.4L316.2 396.5L317.9 397.6L319.8 398.6L321.7 399.4L323.6 400.1L325.6 400.6L327.6 400.9L329.6 401L331.6 401M288.3 372.4L289.3 370.8L290.3 369.3L291.5 367.9L292.8 366.5L294.1 365.1L295.6 363.9L297.1 362.7L298.7 361.6L300.4 360.6L302.1 359.7L303.9 358.9L305.7 358.1L307.6 357.5L309.6 357L311.5 356.6L313.5 356.3L315.5 356.1L317.5 356.1L319.6 356.1L321.6 356.3L323.6 356.5L325.6 356.9L327.6 357.5L329.5 358.1L331.4 358.9L333.3 359.7L335.1 360.7L336.8 361.8L338.4 363L340 364.3L341.5 365.7L342.8 367.2L344.1 368.8L345.2 370.5L346.2 372.3L347.1 374.1L347.8 376L348.4 377.9L348.7 379.8L348.9 381.8L348.9 383.7L348.7 385.6M306.5 356.3L306 356.7L305.6 357.1L305.2 357.6L304.8 358.3L304.5 359L304.2 359.8L304 360.8L303.8 361.8L303.7 362.9L303.7 364.1L303.7 365.4L303.8 366.7L304 368.1L304.3 369.6L304.6 371.1L305 372.7L305.5 374.3L306.1 375.9L306.8 377.5L307.6 379.2L308.4 380.9L309.4 382.6L310.4 384.2L311.6 385.9L312.8 387.5L314.1 389L315.5 390.5L317 392L318.6 393.3L320.2 394.5L322 395.7L323.8 396.7L325.6 397.5L327.5 398.1L329.5 398.6M298.9 360.6L300.5 359.5L302.2 358.5L304 357.6L305.8 356.8L307.6 356.1L309.5 355.5L311.5 355L313.4 354.7L315.4 354.4L317.4 354.3L319.5 354.2L321.5 354.3L323.5 354.5L325.5 354.9L327.4 355.3L329.4 355.8L331.3 356.5L333.2 357.3L335 358.2L336.7 359.2L338.4 360.3L340 361.5L341.6 362.8L343 364.2L344.4 365.7L345.6 367.2L346.7 368.9L347.7 370.6L348.6 372.4L349.4 374.2L350 376L350.4 377.9L350.7 379.8L350.8 381.7L350.7 383.6L350.5 385.5L350.1 387.2L349.4 388.9M313.5 354.3L313 354.4L312.5 354.7L312 355.1L311.6 355.6L311.2 356.2L310.8 356.9L310.5 357.7L310.3 358.7L310 359.7L309.9 360.8L309.8 362L309.7 363.3L309.7 364.6L309.8 366L310 367.5L310.2 369.1L310.5 370.7L310.9 372.4L311.4 374.1L312 375.8L312.6 377.5L313.4 379.3L314.2 381.1L315.1 382.8L316.2 384.5L317.3 386.2L318.6 387.9L319.9 389.4L321.3 390.9L322.9 392.3L324.5 393.6L326.2 394.7L328 395.6M321.7 353.6L323.7 353.7L325.7 354L327.7 354.3L329.6 354.8L331.5 355.4L333.4 356.1L335.2 356.9L337 357.8L338.7 358.8L340.4 359.9L342 361.1L343.5 362.4L344.9 363.8L346.2 365.2L347.4 366.8L348.5 368.4L349.5 370L350.4 371.7L351.1 373.5L351.7 375.3L352.2 377.1L352.5 379L352.7 380.8L352.7 382.6L352.6 384.4L352.3 386.2L351.8 387.9L351.2 389.5L350.4 391L349.4 392.3M320.2 353.6L319.7 353.7L319.2 354L318.7 354.3L318.3 354.8L317.8 355.4L317.4 356.1L317 356.9L316.7 357.8L316.4 358.8L316.1 359.9L315.9 361.1L315.8 362.4L315.7 363.8L315.6 365.2L315.7 366.8L315.8 368.4L315.9 370L316.2 371.7L316.6 373.5L317 375.3L317.5 377.1L318.2 379L318.9 380.8L319.8 382.6L320.7 384.4L321.8 386.2L323 387.9L324.3 389.5L325.7 391L327.3 392.3M343.9 362L345.4 363.3L346.8 364.6L348.1 366L349.2 367.5L350.3 369.1L351.3 370.7L352.1 372.4L352.9 374.1L353.5 375.8L354 377.5L354.3 379.3L354.5 381.1L354.6 382.8L354.5 384.5L354.3 386.2L353.9 387.9L353.4 389.4L352.8 390.9L351.9 392.3L351 393.6L349.9 394.7L348.6 395.6M327.5 354.3L326.9 354.2L326.4 354.3L325.9 354.5L325.4 354.9L324.8 355.3L324.3 355.8L323.8 356.5L323.4 357.3L322.9 358.2L322.5 359.2L322.1 360.3L321.8 361.5L321.5 362.8L321.3 364.2L321.1 365.7L321 367.2L320.9 368.9L321 370.6L321.1 372.4L321.4 374.2L321.7 376L322.1 377.9L322.6 379.8L323.3 381.7L324.1 383.6L325 385.5L326.1 387.2L327.3 388.9M353.7 374.3L354.4 375.9L355 377.5L355.5 379.2L355.8 380.9L356.1 382.6L356.2 384.2L356.1 385.9L356 387.5L355.7 389L355.2 390.5L354.6 392L353.9 393.3L353.1 394.5L352.2 395.7L351.1 396.7L349.9 397.5L348.6 398.1L347.2 398.6M333.8 356.1L333.3 356.1L332.7 356.1L332.1 356.3L331.5 356.5L330.9 356.9L330.3 357.5L329.7 358.1L329.1 358.9L328.5 359.7L328 360.7L327.5 361.8L327 363L326.6 364.3L326.2 365.7L325.9 367.2L325.6 368.8L325.5 370.5L325.4 372.3L325.4 374.1L325.5 376L325.7 377.9L326.1 379.8L326.6 381.8L327.2 383.7L328 385.6M356.8 383.7L357.1 385.3L357.2 386.8L357.2 388.4L357 389.9L356.8 391.4L356.4 392.8L355.9 394.1L355.3 395.4L354.6 396.5L353.7 397.6L352.7 398.6L351.7 399.4L350.5 400.1L349.3 400.6L347.9 400.9L346.5 401L345.1 401M340.1 359.3L339.6 359L338.9 358.9L338.3 358.9L337.6 359L336.9 359.2L336.2 359.6L335.5 360.1L334.8 360.7L334 361.4L333.3 362.2L332.6 363.2L332 364.3L331.4 365.5L330.8 366.8L330.3 368.2L329.8 369.7L329.4 371.4L329.1 373.1L328.9 374.9L328.9 376.8L328.9 378.7L329.1 380.7L329.5 382.7M357.4 393.4L357.2 394.7L356.8 396L356.4 397.3L355.8 398.4L355.2 399.5L354.4 400.5L353.5 401.4L352.6 402.1L351.5 402.8L350.4 403.3L349.2 403.6L348 403.8L346.6 403.8L345.3 403.6L343.9 403.3L342.6 402.7M345.6 363.4L345 363L344.3 362.7L343.6 362.5L342.9 362.4L342.1 362.5L341.3 362.7L340.5 362.9L339.6 363.4L338.8 363.9L337.9 364.6L337 365.4L336.2 366.4L335.4 367.4L334.6 368.6L333.9 370L333.3 371.4L332.7 373L332.2 374.7L331.9 376.5L331.6 378.3L331.5 380.3M356.3 400.1L355.9 401.2L355.4 402.3L354.8 403.3L354.1 404.2L353.3 405L352.5 405.6L351.5 406.2L350.5 406.6L349.4 406.9L348.3 407.1L347.1 407.1L345.9 407L344.7 406.6L343.4 406.1L342.2 405.5L340.9 404.6L339.8 403.5M350 368.3L349.4 367.7L348.7 367.2L348 366.8L347.2 366.6L346.3 366.4L345.4 366.4L344.5 366.5L343.5 366.7L342.5 367.1L341.5 367.6L340.6 368.2L339.6 369L338.6 370L337.7 371L336.8 372.3L335.9 373.6L335.2 375.2L334.6 376.8L334 378.6M353.8 406.8L353.3 407.6L352.6 408.4L352 409.1L351.2 409.7L350.4 410.2L349.5 410.5L348.5 410.7L347.5 410.8L346.4 410.8L345.3 410.6L344.2 410.3L343.1 409.8L342 409.2L340.8 408.4L339.7 407.4L338.7 406.3L337.7 405L336.9 403.5M353.8 374.4L353.3 373.6L352.6 372.8L352 372.1L351.2 371.5L350.4 371L349.5 370.7L348.5 370.5L347.5 370.4L346.4 370.4L345.3 370.6L344.2 370.9L343.1 371.4L342 372L340.8 372.8L339.7 373.8L338.7 374.9L337.7 376.2L336.9 377.7M350 412.9L349.4 413.5L348.7 414L348 414.4L347.2 414.6L346.3 414.8L345.4 414.8L344.5 414.7L343.5 414.5L342.5 414.1L341.5 413.6L340.6 413L339.6 412.2L338.6 411.2L337.7 410.2L336.8 408.9L335.9 407.6L335.2 406L334.6 404.4L334 402.6M356.3 381.1L355.9 380L355.4 378.9L354.8 377.9L354.1 377L353.3 376.2L352.5 375.6L351.5 375L350.5 374.6L349.4 374.3L348.3 374.1L347.1 374.1L345.9 374.2L344.7 374.6L343.4 375.1L342.2 375.7L340.9 376.6L339.8 377.7M345.6 417.8L345 418.2L344.3 418.5L343.6 418.7L342.9 418.8L342.1 418.7L341.3 418.5L340.5 418.3L339.6 417.8L338.8 417.3L337.9 416.6L337 415.8L336.2 414.8L335.4 413.8L334.6 412.6L333.9 411.2L333.3 409.8L332.7 408.2L332.2 406.5L331.9 404.7L331.6 402.9L331.5 400.9M357.4 387.8L357.2 386.5L356.8 385.2L356.4 383.9L355.8 382.8L355.2 381.7L354.4 380.7L353.5 379.8L352.6 379.1L351.5 378.4L350.4 377.9L349.2 377.6L348 377.4L346.6 377.4L345.3 377.6L343.9 377.9L342.6 378.5M340.1 421.9L339.6 422.2L338.9 422.3L338.3 422.3L337.6 422.2L336.9 422L336.2 421.6L335.5 421.1L334.8 420.5L334 419.8L333.3 419L332.6 418L332 416.9L331.4 415.7L330.8 414.4L330.3 413L329.8 411.5L329.4 409.8L329.1 408.1L328.9 406.3L328.9 404.4L328.9 402.5L329.1 400.5L329.5 398.5M356.8 397.5L357.1 395.9L357.2 394.4L357.2 392.8L357 391.3L356.8 389.8L356.4 388.4L355.9 387.1L355.3 385.8L354.6 384.7L353.7 383.6L352.7 382.6L351.7 381.8L350.5 381.1L349.3 380.6L347.9 380.3L346.5 380.2L345.1 380.2M333.8 425.1L333.3 425.1L332.7 425.1L332.1 424.9L331.5 424.7L330.9 424.3L330.3 423.7L329.7 423.1L329.1 422.3L328.5 421.5L328 420.5L327.5 419.4L327 418.2L326.6 416.9L326.2 415.5L325.9 414L325.6 412.4L325.5 410.7L325.4 408.9L325.4 407.1L325.5 405.2L325.7 403.3L326.1 401.4L326.6 399.4L327.2 397.5L328 395.6M353.7 406.9L354.4 405.3L355 403.7L355.5 402L355.8 400.3L356.1 398.6L356.2 397L356.1 395.3L356 393.7L355.7 392.2L355.2 390.7L354.6 389.2L353.9 387.9L353.1 386.7L352.2 385.5L351.1 384.5L349.9 383.7L348.6 383.1L347.2 382.6M327.5 426.9L326.9 427L326.4 426.9L325.9 426.7L325.4 426.3L324.8 425.9L324.3 425.4L323.8 424.7L323.4 423.9L322.9 423L322.5 422L322.1 420.9L321.8 419.7L321.5 418.4L321.3 417L321.1 415.5L321 414L320.9 412.3L321 410.6L321.1 408.8L321.4 407L321.7 405.2L322.1 403.3L322.6 401.4L323.3 399.5L324.1 397.6L325 395.7L326.1 394L327.3 392.3M343.9 419.2L345.4 417.9L346.8 416.6L348.1 415.2L349.2 413.7L350.3 412.1L351.3 410.5L352.1 408.8L352.9 407.1L353.5 405.4L354 403.7L354.3 401.9L354.5 400.1L354.6 398.4L354.5 396.7L354.3 395L353.9 393.3L353.4 391.8L352.8 390.3L351.9 388.9L351 387.6L349.9 386.5L348.6 385.6M320.2 427.6L319.7 427.5L319.2 427.2L318.7 426.9L318.3 426.4L317.8 425.8L317.4 425.1L317 424.3L316.7 423.4L316.4 422.4L316.1 421.3L315.9 420.1L315.8 418.8L315.7 417.4L315.6 416L315.7 414.4L315.8 412.8L315.9 411.2L316.2 409.5L316.6 407.7L317 405.9L317.5 404.1L318.2 402.2L318.9 400.4L319.8 398.6L320.7 396.8L321.8 395L323 393.3L324.3 391.7L325.7 390.2L327.3 388.9M321.7 427.6L323.7 427.5L325.7 427.2L327.7 426.9L329.6 426.4L331.5 425.8L333.4 425.1L335.2 424.3L337 423.4L338.7 422.4L340.4 421.3L342 420.1L343.5 418.8L344.9 417.4L346.2 416L347.4 414.4L348.5 412.8L349.5 411.2L350.4 409.5L351.1 407.7L351.7 405.9L352.2 404.1L352.5 402.2L352.7 400.4L352.7 398.6L352.6 396.8L352.3 395L351.8 393.3L351.2 391.7L350.4 390.2L349.4 388.9M313.5 426.9L313 426.8L312.5 426.5L312 426.1L311.6 425.6L311.2 425L310.8 424.3L310.5 423.5L310.3 422.5L310 421.5L309.9 420.4L309.8 419.2L309.7 417.9L309.7 416.6L309.8 415.2L310 413.7L310.2 412.1L310.5 410.5L310.9 408.8L311.4 407.1L312 405.4L312.6 403.7L313.4 401.9L314.2 400.1L315.1 398.4L316.2 396.7L317.3 395L318.6 393.3L319.9 391.8L321.3 390.3L322.9 388.9L324.5 387.6L326.2 386.5L328 385.6M298.9 420.6L300.5 421.7L302.2 422.7L304 423.6L305.8 424.4L307.6 425.1L309.5 425.7L311.5 426.2L313.4 426.5L315.4 426.8L317.4 426.9L319.5 427L321.5 426.9L323.5 426.7L325.5 426.3L327.4 425.9L329.4 425.4L331.3 424.7L333.2 423.9L335 423L336.7 422L338.4 420.9L340 419.7L341.6 418.4L343 417L344.4 415.5L345.6 414L346.7 412.3L347.7 410.6L348.6 408.8L349.4 407L350 405.2L350.4 403.3L350.7 401.4L350.8 399.5L350.7 397.6L350.5 395.7L350.1 394L349.4 392.3M306.5 424.9L306 424.5L305.6 424.1L305.2 423.6L304.8 422.9L304.5 422.2L304.2 421.4L304 420.4L303.8 419.4L303.7 418.3L303.7 417.1L303.7 415.8L303.8 414.5L304 413.1L304.3 411.6L304.6 410.1L305 408.5L305.5 406.9L306.1 405.3L306.8 403.7L307.6 402L308.4 400.3L309.4 398.6L310.4 397L311.6 395.3L312.8 393.7L314.1 392.2L315.5 390.7L317 389.2L318.6 387.9L320.2 386.7L322 385.5L323.8 384.5L325.6 383.7L327.5 383.1L329.5 382.6M288.3 408.8L289.3 410.4L290.3 411.9L291.5 413.3L292.8 414.7L294.1 416.1L295.6 417.3L297.1 418.5L298.7 419.6L300.4 420.6L302.1 421.5L303.9 422.3L305.7 423.1L307.6 423.7L309.6 424.2L311.5 424.6L313.5 424.9L315.5 425.1L317.5 425.1L319.6 425.1L321.6 424.9L323.6 424.7L325.6 424.3L327.6 423.7L329.5 423.1L331.4 422.3L333.3 421.5L335.1 420.5L336.8 419.4L338.4 418.2L340 416.9L341.5 415.5L342.8 414L344.1 412.4L345.2 410.7L346.2 408.9L347.1 407.1L347.8 405.2L348.4 403.3L348.7 401.4L348.9 399.4L348.9 397.5L348.7 395.6M300.2 421.5L299.7 421L299.3 420.5L298.9 419.8L298.6 419L298.3 418.1L298.1 417.2L298 416.1L298 415L298 413.8L298.1 412.6L298.2 411.2L298.5 409.9L298.8 408.4L299.3 406.9L299.8 405.4L300.4 403.9L301.1 402.3L301.9 400.7L302.7 399.1L303.7 397.5L304.7 395.9L305.9 394.4L307.1 392.8L308.4 391.3L309.8 389.8L311.3 388.4L312.8 387.1L314.5 385.8L316.2 384.7L317.9 383.6L319.8 382.6L321.7 381.8L323.6 381.1L325.6 380.6L327.6 380.3L329.6 380.2L331.6 380.2M284.6 399.4L285.1 401L285.7 402.6L286.4 404.1L287.2 405.7L288.2 407.2L289.2 408.7L290.3 410.1L291.6 411.5L292.9 412.8L294.3 414L295.8 415.2L297.4 416.3L299 417.4L300.8 418.3L302.5 419.2L304.4 419.9L306.3 420.6L308.2 421.1L310.1 421.6L312.1 421.9L314.1 422.2L316.2 422.3L318.2 422.3L320.3 422.2L322.3 422L324.3 421.6L326.3 421.1L328.3 420.5L330.2 419.8L332.1 419L333.9 418L335.7 416.9L337.4 415.7L339 414.4L340.4 413L341.8 411.5L343.1 409.8L344.2 408.1L345.2 406.3L346 404.4L346.6 402.5L347 400.5L347.2 398.5M294.8 417.2L294.3 416.5L293.9 415.8L293.6 415L293.3 414.1L293.1 413.1L293 412L292.9 410.8L293 409.6L293.1 408.3L293.3 407L293.7 405.6L294.1 404.2L294.5 402.8L295.1 401.3L295.8 399.8L296.6 398.3L297.4 396.7L298.4 395.2L299.4 393.7L300.5 392.2L301.7 390.7L303 389.3L304.4 387.8L305.9 386.5L307.4 385.2L309.1 383.9L310.8 382.8L312.5 381.7L314.3 380.7L316.2 379.8L318.1 379.1L320.1 378.4L322.1 377.9L324.1 377.6L326.1 377.4L328.2 377.4L330.2 377.6L332.2 377.9L334.1 378.5M283.5 389.5L283.5 391L283.7 392.4L283.9 394L284.3 395.5L284.8 397L285.4 398.5L286.1 400L286.9 401.5L287.8 403L288.8 404.5L290 405.9L291.2 407.2L292.5 408.6L293.9 409.8L295.3 411L296.9 412.2L298.5 413.2L300.2 414.2L302 415.1L303.8 415.9L305.7 416.6L307.6 417.3L309.5 417.8L311.5 418.2L313.6 418.5L315.6 418.7L317.6 418.8L319.7 418.7L321.8 418.5L323.8 418.3L325.8 417.8L327.8 417.3L329.8 416.6L331.7 415.8L333.5 414.8L335.3 413.8L337 412.6L338.6 411.2L340.1 409.8L341.4 408.2L342.6 406.5L343.6 404.7L344.5 402.9L345.2 400.9M290.4 412.1L289.9 411.3L289.6 410.4L289.3 409.4L289 408.3L288.9 407.2L288.9 406L289 404.8L289.1 403.5L289.4 402.1L289.7 400.8L290.1 399.3L290.7 397.9L291.3 396.4L292 395L292.8 393.5L293.8 392L294.8 390.5L295.9 389.1L297.1 387.6L298.3 386.2L299.7 384.9L301.1 383.6L302.7 382.3L304.3 381.1L305.9 380L307.7 378.9L309.5 377.9L311.3 377L313.3 376.2L315.2 375.6L317.2 375L319.2 374.6L321.3 374.3L323.3 374.1L325.4 374.1L327.4 374.2L329.4 374.6L331.4 375.1L333.3 375.7L335.2 376.6L336.9 377.7M284.4 382.5L284.3 383.8L284.2 385.1L284.2 386.5L284.4 387.9L284.6 389.3L285 390.8L285.5 392.3L286.1 393.7L286.8 395.2L287.5 396.7L288.4 398.1L289.4 399.6L290.5 401L291.7 402.4L293 403.7L294.3 405L295.8 406.2L297.3 407.4L298.9 408.5L300.6 409.6L302.3 410.5L304.1 411.4L306 412.2L307.9 412.9L309.8 413.5L311.8 414L313.9 414.4L315.9 414.6L318 414.8L320 414.8L322.1 414.7L324.2 414.5L326.2 414.1L328.2 413.6L330.2 413L332.1 412.2L333.9 411.2L335.7 410.2L337.3 408.9L338.9 407.6L340.3 406L341.6 404.4L342.6 402.6" fill="none" stroke="#000" stroke-width="1.6" stroke-linejoin="round"/><path d="M327.2 390.6L327.2 389.5L327.3 388.3L327.5 387.2L327.8 386.1L328.2 385.1L328.7 384.1L329.2 383.1L329.8 382.2L330.4 381.4L331.2 380.6L331.9 379.9L332.7 379.3L333.6 378.8L334.5 378.4L335.4 378L336.4 377.8L337.4 377.6L338.3 377.6L339.3 377.6L340.3 377.8L341.2 378L342.2 378.4L343.1 378.8L343.9 379.3L344.7 379.9L345.5 380.6L346.2 381.4L346.9 382.2L347.5 383.1L348 384.1L348.5 385.1L348.8 386.1L349.1 387.2L349.3 388.3L349.5 389.5L349.5 390.6L349.5 391.7L349.3 392.9L349.1 394L348.8 395.1L348.5 396.1L348 397.1L347.5 398.1L346.9 399L346.2 399.8L345.5 400.6L344.7 401.3L343.9 401.9L343.1 402.4L342.2 402.8L341.2 403.2L340.3 403.4L339.3 403.6L338.3 403.6L337.4 403.6L336.4 403.4L335.4 403.2L334.5 402.8L333.6 402.4L332.7 401.9L331.9 401.3L331.2 400.6L330.4 399.8L329.8 399L329.2 398.1L328.7 397.1L328.2 396.1L327.8 395.1L327.5 394L327.3 392.9L327.2 391.7L327.2 390.6" fill="none" stroke="#000" stroke-width="1.3"/><circle cx="320.5" cy="390.6" r="37" fill="none" stroke="#000" stroke-width="1.4"/><rect x="343.5" y="311.4" width="6.8" height="7.2" fill="#fff" stroke="#111" stroke-width="1.5"/><rect x="342.7" y="318.6" width="8.7" height="110.4" fill="#fff" stroke="#111" stroke-width="1.5"/><path d="M342.7 387A3.2 3.2 0 0 0 342.7 393.4" fill="#ddd" stroke="#111" stroke-width="1"/><circle cx="349" cy="467" r="38.3" fill="#fff"/><path d="M349 428.7L349.7 429.8L350.3 431L350.9 432.2L351.4 433.3L351.9 434.5L352.4 435.7L352.8 436.9L353.1 438.1L353.5 439.3L353.8 440.5L354 441.7L354.2 442.9L354.4 444.1L354.5 445.3L354.6 446.5L354.7 447.7L354.7 448.9L354.6 450.1L354.5 451.2L354.4 452.4L354.3 453.5L354.1 454.7L353.8 455.8L353.6 457L353.3 458.1L352.9 459.2L352.5 460.2L352.1 461.3L351.6 462.3M349 428.7L348.3 429.8L347.7 431L347.1 432.2L346.6 433.3L346.1 434.5L345.6 435.7L345.2 436.9L344.9 438.1L344.5 439.3L344.2 440.5L344 441.7L343.8 442.9L343.6 444.1L343.5 445.3L343.4 446.5L343.3 447.7L343.3 448.9L343.4 450.1L343.5 451.2L343.6 452.4L343.7 453.5L343.9 454.7L344.2 455.8L344.4 457L344.7 458.1L345.1 459.2L345.5 460.2L345.9 461.3L346.4 462.3M357 429.5L357.4 430.8L357.7 432L358.1 433.3L358.3 434.6L358.6 435.8L358.8 437.1L358.9 438.3L359.1 439.6L359.1 440.8L359.2 442.1L359.2 443.3L359.1 444.5L359 445.7L358.9 446.9L358.7 448.1L358.5 449.3L358.3 450.4L358 451.6L357.7 452.7L357.3 453.8L357 454.9L356.5 456L356.1 457.1L355.6 458.1L355 459.1L354.5 460.1L353.9 461.1L353.2 462.1L352.6 463M357 429.5L356.1 430.5L355.2 431.5L354.4 432.5L353.7 433.6L352.9 434.6L352.2 435.7L351.6 436.8L351 437.9L350.4 439L349.8 440.1L349.4 441.2L348.9 442.3L348.5 443.5L348.1 444.6L347.8 445.8L347.5 446.9L347.2 448.1L347 449.3L346.9 450.4L346.7 451.6L346.6 452.7L346.6 453.9L346.6 455.1L346.6 456.2L346.7 457.4L346.8 458.5L347 459.6L347.1 460.8L347.4 461.9M364.6 432L364.7 433.3L364.8 434.6L364.9 435.9L364.9 437.2L364.9 438.5L364.8 439.8L364.7 441L364.5 442.3L364.4 443.5L364.1 444.7L363.9 445.9L363.6 447.1L363.2 448.3L362.9 449.4L362.5 450.5L362 451.7L361.5 452.7L361 453.8L360.5 454.8L359.9 455.9L359.3 456.9L358.6 457.8L358 458.8L357.3 459.7L356.5 460.6L355.8 461.4L355 462.3L354.2 463L353.3 463.8M364.6 432L363.5 432.8L362.5 433.6L361.5 434.4L360.5 435.3L359.6 436.1L358.7 437L357.8 438L357 438.9L356.2 439.9L355.4 440.8L354.7 441.8L354 442.8L353.4 443.9L352.8 444.9L352.2 446L351.7 447.1L351.2 448.1L350.8 449.2L350.3 450.3L350 451.4L349.7 452.6L349.4 453.7L349.1 454.8L348.9 456L348.7 457.1L348.6 458.2L348.5 459.4L348.5 460.5L348.5 461.7M371.5 436L371.4 437.3L371.2 438.6L371 439.9L370.7 441.2L370.4 442.4L370.1 443.6L369.8 444.9L369.4 446L368.9 447.2L368.4 448.4L367.9 449.5L367.4 450.6L366.8 451.6L366.2 452.7L365.6 453.7L364.9 454.7L364.2 455.7L363.5 456.6L362.8 457.5L362 458.4L361.2 459.2L360.3 460L359.5 460.8L358.6 461.6L357.7 462.3L356.8 463L355.8 463.6L354.9 464.2L353.9 464.8M371.5 436L370.3 436.5L369.1 437.1L368 437.7L366.8 438.3L365.8 439L364.7 439.7L363.7 440.4L362.6 441.2L361.7 441.9L360.7 442.7L359.8 443.6L358.9 444.4L358.1 445.3L357.3 446.2L356.5 447.1L355.8 448L355.1 449L354.4 450L353.8 451L353.2 452L352.6 453L352.1 454.1L351.6 455.1L351.2 456.2L350.8 457.3L350.4 458.4L350.1 459.4L349.8 460.6L349.6 461.7M377.5 441.4L377.1 442.6L376.6 443.9L376.1 445.1L375.6 446.3L375.1 447.4L374.5 448.5L373.9 449.7L373.3 450.7L372.6 451.8L371.9 452.8L371.2 453.8L370.4 454.8L369.6 455.7L368.8 456.6L368 457.4L367.1 458.3L366.3 459.1L365.4 459.8L364.4 460.6L363.5 461.3L362.5 461.9L361.5 462.5L360.5 463.1L359.5 463.7L358.5 464.2L357.5 464.7L356.4 465.1L355.3 465.5L354.2 465.8M377.5 441.4L376.2 441.6L374.9 442L373.6 442.3L372.4 442.7L371.2 443.1L370 443.6L368.9 444L367.7 444.6L366.6 445.1L365.5 445.7L364.5 446.3L363.4 447L362.4 447.7L361.4 448.4L360.5 449.1L359.6 449.9L358.7 450.7L357.8 451.5L357 452.3L356.2 453.2L355.5 454.1L354.7 455L354.1 455.9L353.4 456.9L352.8 457.8L352.2 458.8L351.7 459.8L351.2 460.9L350.7 461.9M382.2 447.9L381.5 449L380.8 450.1L380.1 451.2L379.4 452.2L378.6 453.3L377.8 454.3L377 455.2L376.1 456.1L375.2 457L374.3 457.9L373.4 458.7L372.5 459.5L371.5 460.2L370.6 460.9L369.6 461.6L368.6 462.2L367.5 462.8L366.5 463.4L365.4 463.9L364.4 464.4L363.3 464.8L362.2 465.2L361.1 465.6L360 465.9L358.9 466.2L357.8 466.5L356.6 466.7L355.5 466.8L354.4 467M382.2 447.9L380.8 447.8L379.5 447.9L378.2 448L377 448.1L375.7 448.2L374.4 448.4L373.2 448.7L372 449L370.8 449.3L369.6 449.6L368.4 450L367.3 450.4L366.1 450.9L365 451.4L364 451.9L362.9 452.4L361.9 453L360.9 453.7L359.9 454.3L358.9 455L358 455.7L357.1 456.4L356.3 457.2L355.4 458L354.6 458.8L353.8 459.7L353.1 460.6L352.4 461.5L351.7 462.4M385.4 455.2L384.5 456.1L383.6 457.1L382.7 458L381.8 458.9L380.8 459.7L379.8 460.5L378.8 461.3L377.8 462L376.7 462.7L375.7 463.3L374.6 464L373.5 464.5L372.5 465.1L371.4 465.5L370.2 466L369.1 466.4L368 466.8L366.9 467.1L365.7 467.4L364.6 467.6L363.4 467.9L362.3 468L361.1 468.2L360 468.2L358.8 468.3L357.7 468.3L356.5 468.3L355.4 468.2L354.3 468.1M385.4 455.2L384.1 454.9L382.8 454.7L381.6 454.5L380.3 454.3L379 454.2L377.7 454.1L376.5 454.1L375.2 454.1L374 454.2L372.7 454.3L371.5 454.4L370.3 454.6L369.1 454.8L367.9 455L366.8 455.3L365.6 455.7L364.5 456L363.4 456.4L362.3 456.9L361.2 457.3L360.2 457.8L359.1 458.4L358.1 458.9L357.1 459.5L356.2 460.2L355.3 460.9L354.3 461.6L353.5 462.3L352.6 463M387.1 463L386 463.8L384.9 464.5L383.8 465.2L382.7 465.9L381.6 466.5L380.5 467.1L379.3 467.6L378.2 468.1L377 468.6L375.9 469L374.7 469.3L373.5 469.7L372.3 470L371.2 470.2L370 470.4L368.8 470.6L367.6 470.7L366.4 470.8L365.3 470.9L364.1 470.9L362.9 470.8L361.8 470.8L360.6 470.7L359.5 470.5L358.3 470.3L357.2 470.1L356.1 469.8L355 469.5L353.9 469.1M387.1 463L385.9 462.5L384.7 462L383.5 461.5L382.2 461.1L381 460.7L379.8 460.4L378.6 460.1L377.3 459.9L376.1 459.7L374.9 459.5L373.7 459.4L372.4 459.3L371.2 459.2L370 459.2L368.8 459.3L367.6 459.4L366.4 459.5L365.3 459.6L364.1 459.8L363 460.1L361.8 460.3L360.7 460.7L359.6 461L358.5 461.4L357.4 461.8L356.4 462.3L355.4 462.8L354.4 463.3L353.4 463.9M387.1 471L385.9 471.5L384.7 472L383.5 472.5L382.2 472.9L381 473.3L379.8 473.6L378.6 473.9L377.3 474.1L376.1 474.3L374.9 474.5L373.7 474.6L372.4 474.7L371.2 474.8L370 474.8L368.8 474.7L367.6 474.6L366.4 474.5L365.3 474.4L364.1 474.2L363 473.9L361.8 473.7L360.7 473.3L359.6 473L358.5 472.6L357.4 472.2L356.4 471.7L355.4 471.2L354.4 470.7L353.4 470.1M387.1 471L386 470.2L384.9 469.5L383.8 468.8L382.7 468.1L381.6 467.5L380.5 466.9L379.3 466.4L378.2 465.9L377 465.4L375.9 465L374.7 464.7L373.5 464.3L372.3 464L371.2 463.8L370 463.6L368.8 463.4L367.6 463.3L366.4 463.2L365.3 463.1L364.1 463.1L362.9 463.2L361.8 463.2L360.6 463.3L359.5 463.5L358.3 463.7L357.2 463.9L356.1 464.2L355 464.5L353.9 464.9M385.4 478.8L384.1 479.1L382.8 479.3L381.6 479.5L380.3 479.7L379 479.8L377.7 479.9L376.5 479.9L375.2 479.9L374 479.8L372.7 479.7L371.5 479.6L370.3 479.4L369.1 479.2L367.9 479L366.8 478.7L365.6 478.3L364.5 478L363.4 477.6L362.3 477.1L361.2 476.7L360.2 476.2L359.1 475.6L358.1 475.1L357.1 474.5L356.2 473.8L355.3 473.1L354.3 472.4L353.5 471.7L352.6 471M385.4 478.8L384.5 477.9L383.6 476.9L382.7 476L381.8 475.1L380.8 474.3L379.8 473.5L378.8 472.7L377.8 472L376.7 471.3L375.7 470.7L374.6 470L373.5 469.5L372.5 468.9L371.4 468.5L370.2 468L369.1 467.6L368 467.2L366.9 466.9L365.7 466.6L364.6 466.4L363.4 466.1L362.3 466L361.1 465.8L360 465.8L358.8 465.7L357.7 465.7L356.5 465.7L355.4 465.8L354.3 465.9M382.2 486.1L380.8 486.2L379.5 486.1L378.2 486L377 485.9L375.7 485.8L374.4 485.6L373.2 485.3L372 485L370.8 484.7L369.6 484.4L368.4 484L367.3 483.6L366.1 483.1L365 482.6L364 482.1L362.9 481.6L361.9 481L360.9 480.3L359.9 479.7L358.9 479L358 478.3L357.1 477.6L356.3 476.8L355.4 476L354.6 475.2L353.8 474.3L353.1 473.4L352.4 472.5L351.7 471.6M382.2 486.1L381.5 485L380.8 483.9L380.1 482.8L379.4 481.8L378.6 480.7L377.8 479.7L377 478.8L376.1 477.9L375.2 477L374.3 476.1L373.4 475.3L372.5 474.5L371.5 473.8L370.6 473.1L369.6 472.4L368.6 471.8L367.5 471.2L366.5 470.6L365.4 470.1L364.4 469.6L363.3 469.2L362.2 468.8L361.1 468.4L360 468.1L358.9 467.8L357.8 467.5L356.6 467.3L355.5 467.2L354.4 467M377.5 492.6L376.2 492.4L374.9 492L373.6 491.7L372.4 491.3L371.2 490.9L370 490.4L368.9 490L367.7 489.4L366.6 488.9L365.5 488.3L364.5 487.7L363.4 487L362.4 486.3L361.4 485.6L360.5 484.9L359.6 484.1L358.7 483.3L357.8 482.5L357 481.7L356.2 480.8L355.5 479.9L354.7 479L354.1 478.1L353.4 477.1L352.8 476.2L352.2 475.2L351.7 474.2L351.2 473.1L350.7 472.1M377.5 492.6L377.1 491.4L376.6 490.1L376.1 488.9L375.6 487.7L375.1 486.6L374.5 485.5L373.9 484.3L373.3 483.3L372.6 482.2L371.9 481.2L371.2 480.2L370.4 479.2L369.6 478.3L368.8 477.4L368 476.6L367.1 475.7L366.3 474.9L365.4 474.2L364.4 473.4L363.5 472.7L362.5 472.1L361.5 471.5L360.5 470.9L359.5 470.3L358.5 469.8L357.5 469.3L356.4 468.9L355.3 468.5L354.2 468.2M371.5 498L370.3 497.5L369.1 496.9L368 496.3L366.8 495.7L365.8 495L364.7 494.3L363.7 493.6L362.6 492.8L361.7 492.1L360.7 491.3L359.8 490.4L358.9 489.6L358.1 488.7L357.3 487.8L356.5 486.9L355.8 486L355.1 485L354.4 484L353.8 483L353.2 482L352.6 481L352.1 479.9L351.6 478.9L351.2 477.8L350.8 476.7L350.4 475.6L350.1 474.6L349.8 473.4L349.6 472.3M371.5 498L371.4 496.7L371.2 495.4L371 494.1L370.7 492.8L370.4 491.6L370.1 490.4L369.8 489.1L369.4 488L368.9 486.8L368.4 485.6L367.9 484.5L367.4 483.4L366.8 482.4L366.2 481.3L365.6 480.3L364.9 479.3L364.2 478.3L363.5 477.4L362.8 476.5L362 475.6L361.2 474.8L360.3 474L359.5 473.2L358.6 472.4L357.7 471.7L356.8 471L355.8 470.4L354.9 469.8L353.9 469.2M364.6 502L363.5 501.2L362.5 500.4L361.5 499.6L360.5 498.7L359.6 497.9L358.7 497L357.8 496L357 495.1L356.2 494.1L355.4 493.2L354.7 492.2L354 491.2L353.4 490.1L352.8 489.1L352.2 488L351.7 486.9L351.2 485.9L350.8 484.8L350.3 483.7L350 482.6L349.7 481.4L349.4 480.3L349.1 479.2L348.9 478L348.7 476.9L348.6 475.8L348.5 474.6L348.5 473.5L348.5 472.3M364.6 502L364.7 500.7L364.8 499.4L364.9 498.1L364.9 496.8L364.9 495.5L364.8 494.2L364.7 493L364.5 491.7L364.4 490.5L364.1 489.3L363.9 488.1L363.6 486.9L363.2 485.7L362.9 484.6L362.5 483.5L362 482.3L361.5 481.3L361 480.2L360.5 479.2L359.9 478.1L359.3 477.1L358.6 476.2L358 475.2L357.3 474.3L356.5 473.4L355.8 472.6L355 471.7L354.2 471L353.3 470.2M357 504.5L356.1 503.5L355.2 502.5L354.4 501.5L353.7 500.4L352.9 499.4L352.2 498.3L351.6 497.2L351 496.1L350.4 495L349.8 493.9L349.4 492.8L348.9 491.7L348.5 490.5L348.1 489.4L347.8 488.2L347.5 487.1L347.2 485.9L347 484.7L346.9 483.6L346.7 482.4L346.6 481.3L346.6 480.1L346.6 478.9L346.6 477.8L346.7 476.6L346.8 475.5L347 474.4L347.1 473.2L347.4 472.1M357 504.5L357.4 503.2L357.7 502L358.1 500.7L358.3 499.4L358.6 498.2L358.8 496.9L358.9 495.7L359.1 494.4L359.1 493.2L359.2 491.9L359.2 490.7L359.1 489.5L359 488.3L358.9 487.1L358.7 485.9L358.5 484.7L358.3 483.6L358 482.4L357.7 481.3L357.3 480.2L357 479.1L356.5 478L356.1 476.9L355.6 475.9L355 474.9L354.5 473.9L353.9 472.9L353.2 471.9L352.6 471M349 505.3L348.3 504.2L347.7 503L347.1 501.8L346.6 500.7L346.1 499.5L345.6 498.3L345.2 497.1L344.9 495.9L344.5 494.7L344.2 493.5L344 492.3L343.8 491.1L343.6 489.9L343.5 488.7L343.4 487.5L343.3 486.3L343.3 485.1L343.4 483.9L343.5 482.8L343.6 481.6L343.7 480.5L343.9 479.3L344.2 478.2L344.4 477L344.7 475.9L345.1 474.8L345.5 473.8L345.9 472.7L346.4 471.7M349 505.3L349.7 504.2L350.3 503L350.9 501.8L351.4 500.7L351.9 499.5L352.4 498.3L352.8 497.1L353.1 495.9L353.5 494.7L353.8 493.5L354 492.3L354.2 491.1L354.4 489.9L354.5 488.7L354.6 487.5L354.7 486.3L354.7 485.1L354.6 483.9L354.5 482.8L354.4 481.6L354.3 480.5L354.1 479.3L353.8 478.2L353.6 477L353.3 475.9L352.9 474.8L352.5 473.8L352.1 472.7L351.6 471.7M341 504.5L340.6 503.2L340.3 502L339.9 500.7L339.7 499.4L339.4 498.2L339.2 496.9L339.1 495.7L338.9 494.4L338.9 493.2L338.8 491.9L338.8 490.7L338.9 489.5L339 488.3L339.1 487.1L339.3 485.9L339.5 484.7L339.7 483.6L340 482.4L340.3 481.3L340.7 480.2L341 479.1L341.5 478L341.9 476.9L342.4 475.9L343 474.9L343.5 473.9L344.1 472.9L344.8 471.9L345.4 471M341 504.5L341.9 503.5L342.8 502.5L343.6 501.5L344.3 500.4L345.1 499.4L345.8 498.3L346.4 497.2L347 496.1L347.6 495L348.2 493.9L348.6 492.8L349.1 491.7L349.5 490.5L349.9 489.4L350.2 488.2L350.5 487.1L350.8 485.9L351 484.7L351.1 483.6L351.3 482.4L351.4 481.3L351.4 480.1L351.4 478.9L351.4 477.8L351.3 476.6L351.2 475.5L351 474.4L350.9 473.2L350.6 472.1M333.4 502L333.3 500.7L333.2 499.4L333.1 498.1L333.1 496.8L333.1 495.5L333.2 494.2L333.3 493L333.5 491.7L333.6 490.5L333.9 489.3L334.1 488.1L334.4 486.9L334.8 485.7L335.1 484.6L335.5 483.5L336 482.3L336.5 481.3L337 480.2L337.5 479.2L338.1 478.1L338.7 477.1L339.4 476.2L340 475.2L340.7 474.3L341.5 473.4L342.2 472.6L343 471.7L343.8 471L344.7 470.2M333.4 502L334.5 501.2L335.5 500.4L336.5 499.6L337.5 498.7L338.4 497.9L339.3 497L340.2 496L341 495.1L341.8 494.1L342.6 493.2L343.3 492.2L344 491.2L344.6 490.1L345.2 489.1L345.8 488L346.3 486.9L346.8 485.9L347.2 484.8L347.7 483.7L348 482.6L348.3 481.4L348.6 480.3L348.9 479.2L349.1 478L349.3 476.9L349.4 475.8L349.5 474.6L349.5 473.5L349.5 472.3M326.5 498L326.6 496.7L326.8 495.4L327 494.1L327.3 492.8L327.6 491.6L327.9 490.4L328.2 489.1L328.6 488L329.1 486.8L329.6 485.6L330.1 484.5L330.6 483.4L331.2 482.4L331.8 481.3L332.4 480.3L333.1 479.3L333.8 478.3L334.5 477.4L335.2 476.5L336 475.6L336.8 474.8L337.7 474L338.5 473.2L339.4 472.4L340.3 471.7L341.2 471L342.2 470.4L343.1 469.8L344.1 469.2M326.5 498L327.7 497.5L328.9 496.9L330 496.3L331.2 495.7L332.2 495L333.3 494.3L334.3 493.6L335.4 492.8L336.3 492.1L337.3 491.3L338.2 490.4L339.1 489.6L339.9 488.7L340.7 487.8L341.5 486.9L342.2 486L342.9 485L343.6 484L344.2 483L344.8 482L345.4 481L345.9 479.9L346.4 478.9L346.8 477.8L347.2 476.7L347.6 475.6L347.9 474.6L348.2 473.4L348.4 472.3M320.5 492.6L320.9 491.4L321.4 490.1L321.9 488.9L322.4 487.7L322.9 486.6L323.5 485.5L324.1 484.3L324.7 483.3L325.4 482.2L326.1 481.2L326.8 480.2L327.6 479.2L328.4 478.3L329.2 477.4L330 476.6L330.9 475.7L331.7 474.9L332.6 474.2L333.6 473.4L334.5 472.7L335.5 472.1L336.5 471.5L337.5 470.9L338.5 470.3L339.5 469.8L340.5 469.3L341.6 468.9L342.7 468.5L343.8 468.2M320.5 492.6L321.8 492.4L323.1 492L324.4 491.7L325.6 491.3L326.8 490.9L328 490.4L329.1 490L330.3 489.4L331.4 488.9L332.5 488.3L333.5 487.7L334.6 487L335.6 486.3L336.6 485.6L337.5 484.9L338.4 484.1L339.3 483.3L340.2 482.5L341 481.7L341.8 480.8L342.5 479.9L343.3 479L343.9 478.1L344.6 477.1L345.2 476.2L345.8 475.2L346.3 474.2L346.8 473.1L347.3 472.1M315.8 486.2L316.5 485L317.2 483.9L317.9 482.8L318.6 481.8L319.4 480.7L320.2 479.7L321 478.8L321.9 477.9L322.8 477L323.7 476.1L324.6 475.3L325.5 474.5L326.5 473.8L327.4 473.1L328.4 472.4L329.4 471.8L330.5 471.2L331.5 470.6L332.6 470.1L333.6 469.6L334.7 469.2L335.8 468.8L336.9 468.4L338 468.1L339.1 467.8L340.2 467.5L341.4 467.3L342.5 467.2L343.6 467M315.8 486.2L317.2 486.2L318.5 486.1L319.8 486L321 485.9L322.3 485.8L323.6 485.6L324.8 485.3L326 485L327.2 484.7L328.4 484.4L329.6 484L330.7 483.6L331.9 483.1L333 482.6L334 482.1L335.1 481.6L336.1 481L337.1 480.3L338.1 479.7L339.1 479L340 478.3L340.9 477.6L341.7 476.8L342.6 476L343.4 475.2L344.2 474.3L344.9 473.4L345.6 472.5L346.3 471.6M312.6 478.8L313.5 477.9L314.4 476.9L315.3 476L316.2 475.1L317.2 474.3L318.2 473.5L319.2 472.7L320.2 472L321.3 471.3L322.3 470.7L323.4 470L324.5 469.5L325.5 468.9L326.6 468.5L327.8 468L328.9 467.6L330 467.2L331.1 466.9L332.3 466.6L333.4 466.4L334.6 466.1L335.7 466L336.9 465.8L338 465.8L339.2 465.7L340.3 465.7L341.5 465.7L342.6 465.8L343.7 465.9M312.6 478.8L313.9 479.1L315.2 479.3L316.4 479.5L317.7 479.7L319 479.8L320.3 479.9L321.5 479.9L322.8 479.9L324 479.8L325.3 479.7L326.5 479.6L327.7 479.4L328.9 479.2L330.1 479L331.2 478.7L332.4 478.3L333.5 478L334.6 477.6L335.7 477.1L336.8 476.7L337.8 476.2L338.9 475.6L339.9 475.1L340.9 474.5L341.8 473.8L342.7 473.1L343.7 472.4L344.5 471.7L345.4 471M310.9 471L312 470.2L313.1 469.5L314.2 468.8L315.3 468.1L316.4 467.5L317.5 466.9L318.7 466.4L319.8 465.9L321 465.4L322.1 465L323.3 464.7L324.5 464.3L325.7 464L326.8 463.8L328 463.6L329.2 463.4L330.4 463.3L331.6 463.2L332.7 463.1L333.9 463.1L335.1 463.2L336.2 463.2L337.4 463.3L338.5 463.5L339.7 463.7L340.8 463.9L341.9 464.2L343 464.5L344.1 464.9M310.9 471L312.1 471.5L313.3 472L314.5 472.5L315.8 472.9L317 473.3L318.2 473.6L319.4 473.9L320.7 474.1L321.9 474.3L323.1 474.5L324.3 474.6L325.6 474.7L326.8 474.8L328 474.8L329.2 474.7L330.4 474.6L331.6 474.5L332.7 474.4L333.9 474.2L335 473.9L336.2 473.7L337.3 473.3L338.4 473L339.5 472.6L340.6 472.2L341.6 471.7L342.6 471.2L343.6 470.7L344.6 470.1M310.9 463L312.1 462.5L313.3 462L314.5 461.5L315.8 461.1L317 460.7L318.2 460.4L319.4 460.1L320.7 459.9L321.9 459.7L323.1 459.5L324.3 459.4L325.6 459.3L326.8 459.2L328 459.2L329.2 459.3L330.4 459.4L331.6 459.5L332.7 459.6L333.9 459.8L335 460.1L336.2 460.3L337.3 460.7L338.4 461L339.5 461.4L340.6 461.8L341.6 462.3L342.6 462.8L343.6 463.3L344.6 463.9M310.9 463L312 463.8L313.1 464.5L314.2 465.2L315.3 465.9L316.4 466.5L317.5 467.1L318.7 467.6L319.8 468.1L321 468.6L322.1 469L323.3 469.3L324.5 469.7L325.7 470L326.8 470.2L328 470.4L329.2 470.6L330.4 470.7L331.6 470.8L332.7 470.9L333.9 470.9L335.1 470.8L336.2 470.8L337.4 470.7L338.5 470.5L339.7 470.3L340.8 470.1L341.9 469.8L343 469.5L344.1 469.1M312.6 455.2L313.9 454.9L315.2 454.7L316.4 454.5L317.7 454.3L319 454.2L320.3 454.1L321.5 454.1L322.8 454.1L324 454.2L325.3 454.3L326.5 454.4L327.7 454.6L328.9 454.8L330.1 455L331.2 455.3L332.4 455.7L333.5 456L334.6 456.4L335.7 456.9L336.8 457.3L337.8 457.8L338.9 458.4L339.9 458.9L340.9 459.5L341.8 460.2L342.7 460.9L343.7 461.6L344.5 462.3L345.4 463M312.6 455.2L313.5 456.1L314.4 457.1L315.3 458L316.2 458.9L317.2 459.7L318.2 460.5L319.2 461.3L320.2 462L321.3 462.7L322.3 463.3L323.4 464L324.5 464.5L325.5 465.1L326.6 465.5L327.8 466L328.9 466.4L330 466.8L331.1 467.1L332.3 467.4L333.4 467.6L334.6 467.9L335.7 468L336.9 468.2L338 468.2L339.2 468.3L340.3 468.3L341.5 468.3L342.6 468.2L343.7 468.1M315.8 447.9L317.2 447.8L318.5 447.9L319.8 448L321 448.1L322.3 448.2L323.6 448.4L324.8 448.7L326 449L327.2 449.3L328.4 449.6L329.6 450L330.7 450.4L331.9 450.9L333 451.4L334 451.9L335.1 452.4L336.1 453L337.1 453.7L338.1 454.3L339.1 455L340 455.7L340.9 456.4L341.7 457.2L342.6 458L343.4 458.8L344.2 459.7L344.9 460.6L345.6 461.5L346.3 462.4M315.8 447.9L316.5 449L317.2 450.1L317.9 451.2L318.6 452.2L319.4 453.3L320.2 454.3L321 455.2L321.9 456.1L322.8 457L323.7 457.9L324.6 458.7L325.5 459.5L326.5 460.2L327.4 460.9L328.4 461.6L329.4 462.2L330.5 462.8L331.5 463.4L332.6 463.9L333.6 464.4L334.7 464.8L335.8 465.2L336.9 465.6L338 465.9L339.1 466.2L340.2 466.5L341.4 466.7L342.5 466.8L343.6 467M320.5 441.4L321.8 441.6L323.1 442L324.4 442.3L325.6 442.7L326.8 443.1L328 443.6L329.1 444L330.3 444.6L331.4 445.1L332.5 445.7L333.5 446.3L334.6 447L335.6 447.7L336.6 448.4L337.5 449.1L338.4 449.9L339.3 450.7L340.2 451.5L341 452.3L341.8 453.2L342.5 454.1L343.3 455L343.9 455.9L344.6 456.9L345.2 457.8L345.8 458.8L346.3 459.8L346.8 460.9L347.3 461.9M320.5 441.4L320.9 442.6L321.4 443.9L321.9 445.1L322.4 446.3L322.9 447.4L323.5 448.5L324.1 449.7L324.7 450.7L325.4 451.8L326.1 452.8L326.8 453.8L327.6 454.8L328.4 455.7L329.2 456.6L330 457.4L330.9 458.3L331.7 459.1L332.6 459.8L333.6 460.6L334.5 461.3L335.5 461.9L336.5 462.5L337.5 463.1L338.5 463.7L339.5 464.2L340.5 464.7L341.6 465.1L342.7 465.5L343.8 465.8M326.5 436L327.7 436.5L328.9 437.1L330 437.7L331.2 438.3L332.2 439L333.3 439.7L334.3 440.4L335.4 441.2L336.3 441.9L337.3 442.7L338.2 443.6L339.1 444.4L339.9 445.3L340.7 446.2L341.5 447.1L342.2 448L342.9 449L343.6 450L344.2 451L344.8 452L345.4 453L345.9 454.1L346.4 455.1L346.8 456.2L347.2 457.3L347.6 458.4L347.9 459.4L348.2 460.6L348.4 461.7M326.5 436L326.6 437.3L326.8 438.6L327 439.9L327.3 441.2L327.6 442.4L327.9 443.6L328.2 444.9L328.6 446L329.1 447.2L329.6 448.4L330.1 449.5L330.6 450.6L331.2 451.6L331.8 452.7L332.4 453.7L333.1 454.7L333.8 455.7L334.5 456.6L335.2 457.5L336 458.4L336.8 459.2L337.7 460L338.5 460.8L339.4 461.6L340.3 462.3L341.2 463L342.2 463.6L343.1 464.2L344.1 464.8M333.4 432L334.5 432.8L335.5 433.6L336.5 434.4L337.5 435.3L338.4 436.1L339.3 437L340.2 438L341 438.9L341.8 439.9L342.6 440.8L343.3 441.8L344 442.8L344.6 443.9L345.2 444.9L345.8 446L346.3 447.1L346.8 448.1L347.2 449.2L347.7 450.3L348 451.4L348.3 452.6L348.6 453.7L348.9 454.8L349.1 456L349.3 457.1L349.4 458.2L349.5 459.4L349.5 460.5L349.5 461.7M333.4 432L333.3 433.3L333.2 434.6L333.1 435.9L333.1 437.2L333.1 438.5L333.2 439.8L333.3 441L333.5 442.3L333.6 443.5L333.9 444.7L334.1 445.9L334.4 447.1L334.8 448.3L335.1 449.4L335.5 450.5L336 451.7L336.5 452.7L337 453.8L337.5 454.8L338.1 455.9L338.7 456.9L339.4 457.8L340 458.8L340.7 459.7L341.5 460.6L342.2 461.4L343 462.3L343.8 463L344.7 463.8M341 429.5L341.9 430.5L342.8 431.5L343.6 432.5L344.3 433.6L345.1 434.6L345.8 435.7L346.4 436.8L347 437.9L347.6 439L348.2 440.1L348.6 441.2L349.1 442.3L349.5 443.5L349.9 444.6L350.2 445.8L350.5 446.9L350.8 448.1L351 449.3L351.1 450.4L351.3 451.6L351.4 452.7L351.4 453.9L351.4 455.1L351.4 456.2L351.3 457.4L351.2 458.5L351 459.6L350.9 460.8L350.6 461.9M341 429.5L340.6 430.8L340.3 432L339.9 433.3L339.7 434.6L339.4 435.8L339.2 437.1L339.1 438.3L338.9 439.6L338.9 440.8L338.8 442.1L338.8 443.3L338.9 444.5L339 445.7L339.1 446.9L339.3 448.1L339.5 449.3L339.7 450.4L340 451.6L340.3 452.7L340.7 453.8L341 454.9L341.5 456L341.9 457.1L342.4 458.1L343 459.1L343.5 460.1L344.1 461.1L344.8 462.1L345.4 463" fill="none" stroke="#000" stroke-width="1.25" stroke-linejoin="round"/><path d="M349 428.7L357 429.5L364.6 432L371.5 436L377.5 441.4L382.2 447.9L385.4 455.2L387.1 463L387.1 471L385.4 478.8L382.2 486.1L377.5 492.6L371.5 498L364.6 502L357 504.5L349 505.3L341 504.5L333.4 502L326.5 498L320.5 492.6L315.8 486.2L312.6 478.8L310.9 471L310.9 463L312.6 455.2L315.8 447.9L320.5 441.4L326.5 436L333.4 432L341 429.5Z" fill="none" stroke="#000" stroke-width="1.25" stroke-linejoin="round"/><circle cx="349" cy="467" r="8.5" fill="#000"/><rect x="396.9" y="406.5" width="7.7" height="6.9" fill="#fff" stroke="#111" stroke-width="1.5"/><rect x="396.2" y="413.4" width="9.9" height="173.7" fill="#fff" stroke="#111" stroke-width="1.5"/><circle cx="454.9" cy="485.8" r="36.6" fill="#fff"/><path d="M421.3 498L421.7 498.9L422.2 499.9L422.7 500.8L423.3 501.8L423.8 502.7L424.4 503.7L425 504.6L425.7 505.5L426.3 506.5L427 507.4L427.8 508.3L428.5 509.1L429.3 510L430.1 510.8L430.9 511.7L431.7 512.5L432.6 513.2L433.4 514L434.3 514.7L435.2 515.4L436.2 516.1L437.1 516.7L438.1 517.4L439 517.9L440 518.5L441 519L442.1 519.5L443.1 519.9L444.1 520.4L445.2 520.7L446.2 521.1L447.3 521.4L448.3 521.6L449.4 521.8L450.5 522L451.6 522.2L452.7 522.3L453.8 522.3L454.9 522.4M421.3 496L421.7 496.9L422.2 497.8L422.7 498.6L423.3 499.5L423.8 500.4L424.4 501.3L425 502.2L425.7 503.1L426.3 503.9L427 504.8L427.8 505.7L428.5 506.6L429.3 507.4L430.1 508.3L430.9 509.1L431.7 509.9L432.6 510.7L433.4 511.5L434.3 512.2L435.2 513L436.2 513.7L437.1 514.4L438.1 515.1L439 515.7L440 516.3L441 516.9L442.1 517.5L443.1 518L444.1 518.5L445.2 519L446.2 519.4L447.3 519.8L448.3 520.2L449.4 520.5L450.5 520.8L451.6 521L452.7 521.2L453.8 521.4L454.9 521.6M440 519.2L441 519.6L442.1 520L443.1 520.4L444.1 520.7L445.2 520.9L446.2 521.2L447.3 521.4L448.3 521.5L449.4 521.6L450.5 521.7L451.6 521.7L452.7 521.7L453.8 521.6L454.9 521.6M421.3 493.6L421.7 494.4L422.2 495.1L422.7 495.9L423.3 496.6L423.8 497.4L424.4 498.2L425 499L425.7 499.8L426.3 500.6L427 501.4L427.8 502.3L428.5 503.1L429.3 503.9L430.1 504.7L430.9 505.5L431.7 506.3L432.6 507.1L433.4 507.8L434.3 508.6L435.2 509.4L436.2 510.1L437.1 510.8L438.1 511.5L439 512.2L440 512.8L441 513.5L442.1 514.1L443.1 514.7L444.1 515.3L445.2 515.8L446.2 516.3L447.3 516.8L448.3 517.2L449.4 517.6L450.5 518L451.6 518.4L452.7 518.7L453.8 518.9L454.9 519.2M427.8 510.4L428.5 511.2L429.3 511.9L430.1 512.6L430.9 513.3L431.7 514L432.6 514.7L433.4 515.3L434.3 515.8L435.2 516.4L436.2 516.9L437.1 517.3L438.1 517.7L439 518.1L440 518.5L441 518.8L442.1 519.1L443.1 519.3L444.1 519.5L445.2 519.6L446.2 519.7L447.3 519.8L448.3 519.8L449.4 519.8L450.5 519.8L451.6 519.7L452.7 519.6L453.8 519.4L454.9 519.2M421.3 490.9L421.7 491.5L422.2 492.1L422.7 492.7L423.3 493.3L423.8 494L424.4 494.6L425 495.3L425.7 496L426.3 496.7L427 497.4L427.8 498.1L428.5 498.8L429.3 499.6L430.1 500.3L430.9 501L431.7 501.8L432.6 502.5L433.4 503.2L434.3 504L435.2 504.7L436.2 505.4L437.1 506.1L438.1 506.8L439 507.5L440 508.2L441 508.8L442.1 509.5L443.1 510.1L444.1 510.7L445.2 511.3L446.2 511.8L447.3 512.4L448.3 512.9L449.4 513.4L450.5 513.8L451.6 514.3L452.7 514.7L453.8 515L454.9 515.4M421.3 500.3L421.7 501.3L422.2 502.3L422.7 503.2L423.3 504.1L423.8 505L424.4 505.9L425 506.7L425.7 507.5L426.3 508.3L427 509.1L427.8 509.8L428.5 510.5L429.3 511.2L430.1 511.8L430.9 512.4L431.7 513L432.6 513.5L433.4 514L434.3 514.4L435.2 514.8L436.2 515.2L437.1 515.5L438.1 515.8L439 516.1L440 516.3L441 516.5L442.1 516.6L443.1 516.7L444.1 516.8L445.2 516.8L446.2 516.8L447.3 516.8L448.3 516.7L449.4 516.5L450.5 516.4L451.6 516.2L452.7 515.9L453.8 515.7L454.9 515.4M421.3 488L421.7 488.3L422.2 488.8L422.7 489.2L423.3 489.6L423.8 490.1L424.4 490.6L425 491.1L425.7 491.7L426.3 492.2L427 492.8L427.8 493.4L428.5 494L429.3 494.6L430.1 495.3L430.9 495.9L431.7 496.5L432.6 497.2L433.4 497.9L434.3 498.5L435.2 499.2L436.2 499.9L437.1 500.5L438.1 501.2L439 501.9L440 502.5L441 503.2L442.1 503.8L443.1 504.4L444.1 505L445.2 505.7L446.2 506.2L447.3 506.8L448.3 507.4L449.4 507.9L450.5 508.4L451.6 508.9L452.7 509.4L453.8 509.8L454.9 510.2M421.3 499.9L421.7 500.8L422.2 501.6L422.7 502.5L423.3 503.3L423.8 504.1L424.4 504.9L425 505.6L425.7 506.3L426.3 507L427 507.6L427.8 508.2L428.5 508.8L429.3 509.3L430.1 509.8L430.9 510.3L431.7 510.7L432.6 511.1L433.4 511.4L434.3 511.7L435.2 512L436.2 512.2L437.1 512.4L438.1 512.6L439 512.7L440 512.8L441 512.8L442.1 512.9L443.1 512.8L444.1 512.8L445.2 512.7L446.2 512.5L447.3 512.3L448.3 512.1L449.4 511.9L450.5 511.6L451.6 511.3L452.7 511L453.8 510.6L454.9 510.2M421.3 484.9L421.7 485.1L422.2 485.3L422.7 485.5L423.3 485.8L423.8 486.1L424.4 486.4L425 486.8L425.7 487.1L426.3 487.5L427 487.9L427.8 488.4L428.5 488.8L429.3 489.3L430.1 489.8L430.9 490.3L431.7 490.9L432.6 491.4L433.4 492L434.3 492.5L435.2 493.1L436.2 493.7L437.1 494.3L438.1 494.9L439 495.5L440 496.1L441 496.7L442.1 497.3L443.1 498L444.1 498.6L445.2 499.2L446.2 499.7L447.3 500.3L448.3 500.9L449.4 501.5L450.5 502L451.6 502.5L452.7 503.1L453.8 503.6L454.9 504.1M421.3 498.8L421.7 499.6L422.2 500.3L422.7 501L423.3 501.7L423.8 502.4L424.4 503L425 503.6L425.7 504.2L426.3 504.7L427 505.2L427.8 505.6L428.5 506L429.3 506.4L430.1 506.8L430.9 507.1L431.7 507.3L432.6 507.6L433.4 507.8L434.3 507.9L435.2 508.1L436.2 508.1L437.1 508.2L438.1 508.2L439 508.2L440 508.1L441 508L442.1 507.9L443.1 507.7L444.1 507.5L445.2 507.3L446.2 507.1L447.3 506.8L448.3 506.5L449.4 506.1L450.5 505.8L451.6 505.4L452.7 505L453.8 504.5L454.9 504.1M421.3 481.9L421.7 481.9L422.2 481.9L422.7 481.9L423.3 482L423.8 482.1L424.4 482.2L425 482.3L425.7 482.5L426.3 482.7L427 483L427.8 483.2L428.5 483.5L429.3 483.8L430.1 484.2L430.9 484.6L431.7 485L432.6 485.4L433.4 485.8L434.3 486.3L435.2 486.7L436.2 487.2L437.1 487.7L438.1 488.2L439 488.7L440 489.3L441 489.8L442.1 490.4L443.1 490.9L444.1 491.5L445.2 492.1L446.2 492.6L447.3 493.2L448.3 493.8L449.4 494.3L450.5 494.9L451.6 495.5L452.7 496L453.8 496.5L454.9 497.1M421.3 497.1L421.7 497.8L422.2 498.4L422.7 498.9L423.3 499.4L423.8 499.9L424.4 500.4L425 500.8L425.7 501.2L426.3 501.6L427 501.9L427.8 502.2L428.5 502.4L429.3 502.6L430.1 502.8L430.9 503L431.7 503.1L432.6 503.1L433.4 503.2L434.3 503.2L435.2 503.1L436.2 503.1L437.1 502.9L438.1 502.8L439 502.6L440 502.5L441 502.2L442.1 502L443.1 501.7L444.1 501.4L445.2 501L446.2 500.7L447.3 500.3L448.3 499.9L449.4 499.5L450.5 499L451.6 498.6L452.7 498.1L453.8 497.6L454.9 497.1M421.3 479.1L421.7 478.8L422.2 478.6L422.7 478.4L423.3 478.3L423.8 478.2L424.4 478.1L425 478L425.7 478L426.3 478.1L427 478.1L427.8 478.2L428.5 478.3L429.3 478.5L430.1 478.6L430.9 478.8L431.7 479.1L432.6 479.3L433.4 479.6L434.3 479.9L435.2 480.3L436.2 480.6L437.1 481L438.1 481.4L439 481.8L440 482.3L441 482.7L442.1 483.2L443.1 483.7L444.1 484.2L445.2 484.7L446.2 485.2L447.3 485.8L448.3 486.3L449.4 486.8L450.5 487.4L451.6 487.9L452.7 488.5L453.8 489L454.9 489.6M421.3 495L421.7 495.4L422.2 495.8L422.7 496.2L423.3 496.6L423.8 496.9L424.4 497.2L425 497.4L425.7 497.6L426.3 497.8L427 497.9L427.8 498L428.5 498.1L429.3 498.1L430.1 498.1L430.9 498.1L431.7 498L432.6 497.9L433.4 497.8L434.3 497.6L435.2 497.4L436.2 497.2L437.1 497L438.1 496.7L439 496.4L440 496.1L441 495.7L442.1 495.3L443.1 494.9L444.1 494.5L445.2 494.1L446.2 493.6L447.3 493.2L448.3 492.7L449.4 492.2L450.5 491.7L451.6 491.2L452.7 490.6L453.8 490.1L454.9 489.6M421.3 476.5L421.7 476.1L422.2 475.7L422.7 475.3L423.3 474.9L423.8 474.6L424.4 474.3L425 474.1L425.7 473.9L426.3 473.7L427 473.6L427.8 473.5L428.5 473.4L429.3 473.4L430.1 473.4L430.9 473.4L431.7 473.5L432.6 473.6L433.4 473.7L434.3 473.9L435.2 474.1L436.2 474.3L437.1 474.5L438.1 474.8L439 475.1L440 475.4L441 475.8L442.1 476.2L443.1 476.6L444.1 477L445.2 477.4L446.2 477.9L447.3 478.3L448.3 478.8L449.4 479.3L450.5 479.8L451.6 480.3L452.7 480.9L453.8 481.4L454.9 481.9M421.3 492.4L421.7 492.7L422.2 492.9L422.7 493.1L423.3 493.2L423.8 493.3L424.4 493.4L425 493.5L425.7 493.5L426.3 493.4L427 493.4L427.8 493.3L428.5 493.2L429.3 493L430.1 492.9L430.9 492.7L431.7 492.4L432.6 492.2L433.4 491.9L434.3 491.6L435.2 491.2L436.2 490.9L437.1 490.5L438.1 490.1L439 489.7L440 489.2L441 488.8L442.1 488.3L443.1 487.8L444.1 487.3L445.2 486.8L446.2 486.3L447.3 485.7L448.3 485.2L449.4 484.7L450.5 484.1L451.6 483.6L452.7 483L453.8 482.5L454.9 481.9M421.3 474.4L421.7 473.7L422.2 473.1L422.7 472.6L423.3 472.1L423.8 471.6L424.4 471.1L425 470.7L425.7 470.3L426.3 469.9L427 469.6L427.8 469.3L428.5 469.1L429.3 468.9L430.1 468.7L430.9 468.5L431.7 468.4L432.6 468.4L433.4 468.3L434.3 468.3L435.2 468.4L436.2 468.4L437.1 468.6L438.1 468.7L439 468.9L440 469L441 469.3L442.1 469.5L443.1 469.8L444.1 470.1L445.2 470.5L446.2 470.8L447.3 471.2L448.3 471.6L449.4 472L450.5 472.5L451.6 472.9L452.7 473.4L453.8 473.9L454.9 474.4M421.3 489.6L421.7 489.6L422.2 489.6L422.7 489.6L423.3 489.5L423.8 489.4L424.4 489.3L425 489.2L425.7 489L426.3 488.8L427 488.5L427.8 488.3L428.5 488L429.3 487.7L430.1 487.3L430.9 486.9L431.7 486.5L432.6 486.1L433.4 485.7L434.3 485.2L435.2 484.8L436.2 484.3L437.1 483.8L438.1 483.3L439 482.8L440 482.2L441 481.7L442.1 481.1L443.1 480.6L444.1 480L445.2 479.4L446.2 478.9L447.3 478.3L448.3 477.7L449.4 477.2L450.5 476.6L451.6 476L452.7 475.5L453.8 475L454.9 474.4M421.3 472.7L421.7 471.9L422.2 471.2L422.7 470.5L423.3 469.8L423.8 469.1L424.4 468.5L425 467.9L425.7 467.3L426.3 466.8L427 466.3L427.8 465.9L428.5 465.5L429.3 465.1L430.1 464.7L430.9 464.4L431.7 464.2L432.6 463.9L433.4 463.7L434.3 463.6L435.2 463.4L436.2 463.4L437.1 463.3L438.1 463.3L439 463.3L440 463.4L441 463.5L442.1 463.6L443.1 463.8L444.1 464L445.2 464.2L446.2 464.4L447.3 464.7L448.3 465L449.4 465.4L450.5 465.7L451.6 466.1L452.7 466.5L453.8 467L454.9 467.4M421.3 486.6L421.7 486.4L422.2 486.2L422.7 486L423.3 485.7L423.8 485.4L424.4 485.1L425 484.7L425.7 484.4L426.3 484L427 483.6L427.8 483.1L428.5 482.7L429.3 482.2L430.1 481.7L430.9 481.2L431.7 480.6L432.6 480.1L433.4 479.5L434.3 479L435.2 478.4L436.2 477.8L437.1 477.2L438.1 476.6L439 476L440 475.4L441 474.8L442.1 474.2L443.1 473.5L444.1 472.9L445.2 472.3L446.2 471.8L447.3 471.2L448.3 470.6L449.4 470L450.5 469.5L451.6 469L452.7 468.4L453.8 467.9L454.9 467.4M421.3 471.6L421.7 470.7L422.2 469.9L422.7 469L423.3 468.2L423.8 467.4L424.4 466.6L425 465.9L425.7 465.2L426.3 464.5L427 463.9L427.8 463.3L428.5 462.7L429.3 462.2L430.1 461.7L430.9 461.2L431.7 460.8L432.6 460.4L433.4 460.1L434.3 459.8L435.2 459.5L436.2 459.3L437.1 459.1L438.1 458.9L439 458.8L440 458.7L441 458.7L442.1 458.6L443.1 458.7L444.1 458.7L445.2 458.8L446.2 459L447.3 459.2L448.3 459.4L449.4 459.6L450.5 459.9L451.6 460.2L452.7 460.5L453.8 460.9L454.9 461.3M421.3 483.5L421.7 483.2L422.2 482.7L422.7 482.3L423.3 481.9L423.8 481.4L424.4 480.9L425 480.4L425.7 479.8L426.3 479.3L427 478.7L427.8 478.1L428.5 477.5L429.3 476.9L430.1 476.2L430.9 475.6L431.7 475L432.6 474.3L433.4 473.6L434.3 473L435.2 472.3L436.2 471.6L437.1 471L438.1 470.3L439 469.6L440 469L441 468.3L442.1 467.7L443.1 467.1L444.1 466.5L445.2 465.8L446.2 465.3L447.3 464.7L448.3 464.1L449.4 463.6L450.5 463.1L451.6 462.6L452.7 462.1L453.8 461.7L454.9 461.3M421.3 471.2L421.7 470.2L422.2 469.2L422.7 468.3L423.3 467.4L423.8 466.5L424.4 465.6L425 464.8L425.7 464L426.3 463.2L427 462.4L427.8 461.7L428.5 461L429.3 460.3L430.1 459.7L430.9 459.1L431.7 458.5L432.6 458L433.4 457.5L434.3 457.1L435.2 456.7L436.2 456.3L437.1 456L438.1 455.7L439 455.4L440 455.2L441 455L442.1 454.9L443.1 454.8L444.1 454.7L445.2 454.7L446.2 454.7L447.3 454.7L448.3 454.8L449.4 455L450.5 455.1L451.6 455.3L452.7 455.6L453.8 455.8L454.9 456.1M421.3 480.6L421.7 480L422.2 479.4L422.7 478.8L423.3 478.2L423.8 477.5L424.4 476.9L425 476.2L425.7 475.5L426.3 474.8L427 474.1L427.8 473.4L428.5 472.7L429.3 471.9L430.1 471.2L430.9 470.5L431.7 469.7L432.6 469L433.4 468.3L434.3 467.5L435.2 466.8L436.2 466.1L437.1 465.4L438.1 464.7L439 464L440 463.3L441 462.7L442.1 462L443.1 461.4L444.1 460.8L445.2 460.2L446.2 459.7L447.3 459.1L448.3 458.6L449.4 458.1L450.5 457.7L451.6 457.2L452.7 456.8L453.8 456.5L454.9 456.1M427.8 461.1L428.5 460.3L429.3 459.6L430.1 458.9L430.9 458.2L431.7 457.5L432.6 456.8L433.4 456.2L434.3 455.7L435.2 455.1L436.2 454.6L437.1 454.2L438.1 453.8L439 453.4L440 453L441 452.7L442.1 452.4L443.1 452.2L444.1 452L445.2 451.9L446.2 451.8L447.3 451.7L448.3 451.7L449.4 451.7L450.5 451.7L451.6 451.8L452.7 451.9L453.8 452.1L454.9 452.3M421.3 477.9L421.7 477.1L422.2 476.4L422.7 475.6L423.3 474.9L423.8 474.1L424.4 473.3L425 472.5L425.7 471.7L426.3 470.9L427 470.1L427.8 469.2L428.5 468.4L429.3 467.6L430.1 466.8L430.9 466L431.7 465.2L432.6 464.4L433.4 463.7L434.3 462.9L435.2 462.1L436.2 461.4L437.1 460.7L438.1 460L439 459.3L440 458.7L441 458L442.1 457.4L443.1 456.8L444.1 456.2L445.2 455.7L446.2 455.2L447.3 454.7L448.3 454.3L449.4 453.9L450.5 453.5L451.6 453.1L452.7 452.8L453.8 452.6L454.9 452.3M440 452.3L441 451.9L442.1 451.5L443.1 451.1L444.1 450.8L445.2 450.6L446.2 450.3L447.3 450.1L448.3 450L449.4 449.9L450.5 449.8L451.6 449.8L452.7 449.8L453.8 449.9L454.9 449.9M421.3 475.5L421.7 474.6L422.2 473.7L422.7 472.9L423.3 472L423.8 471.1L424.4 470.2L425 469.3L425.7 468.4L426.3 467.6L427 466.7L427.8 465.8L428.5 464.9L429.3 464.1L430.1 463.2L430.9 462.4L431.7 461.6L432.6 460.8L433.4 460L434.3 459.3L435.2 458.5L436.2 457.8L437.1 457.1L438.1 456.4L439 455.8L440 455.2L441 454.6L442.1 454L443.1 453.5L444.1 453L445.2 452.5L446.2 452.1L447.3 451.7L448.3 451.3L449.4 451L450.5 450.7L451.6 450.5L452.7 450.3L453.8 450.1L454.9 449.9M421.3 473.5L421.7 472.6L422.2 471.6L422.7 470.7L423.3 469.7L423.8 468.8L424.4 467.8L425 466.9L425.7 466L426.3 465L427 464.1L427.8 463.2L428.5 462.4L429.3 461.5L430.1 460.7L430.9 459.8L431.7 459L432.6 458.3L433.4 457.5L434.3 456.8L435.2 456.1L436.2 455.4L437.1 454.8L438.1 454.1L439 453.6L440 453L441 452.5L442.1 452L443.1 451.6L444.1 451.1L445.2 450.8L446.2 450.4L447.3 450.1L448.3 449.9L449.4 449.7L450.5 449.5L451.6 449.3L452.7 449.2L453.8 449.2L454.9 449.1M421.3 472.2L421.7 471.1L422.2 470.1L422.7 469.2L423.3 468.2L423.8 467.2L424.4 466.2L425 465.3L425.7 464.4L426.3 463.4L427 462.5L427.8 461.7L428.5 460.8L429.3 460L430.1 459.2L430.9 458.4L431.7 457.6L432.6 456.9L433.4 456.2L434.3 455.6L435.2 454.9L436.2 454.3L437.1 453.8L438.1 453.2L439 452.7M421.3 471.4L421.7 470.3L422.2 469.3L422.7 468.3L423.3 467.4L423.8 466.4L424.4 465.5L425 464.6L425.7 463.7L426.3 462.8L427 462M421.3 500.1L421.7 501.2L422.2 502.2L422.7 503.2L423.3 504.1L423.8 505.1L424.4 506L425 506.9L425.7 507.8L426.3 508.7L427 509.5M421.3 499.3L421.7 500.4L422.2 501.4L422.7 502.3L423.3 503.3L423.8 504.3L424.4 505.3L425 506.2L425.7 507.1L426.3 508.1L427 509L427.8 509.8L428.5 510.7L429.3 511.5L430.1 512.3L430.9 513.1L431.7 513.9L432.6 514.6L433.4 515.3L434.3 515.9L435.2 516.6L436.2 517.2L437.1 517.7L438.1 518.3L439 518.8M489.9 495.6L489.8 494.7L489.8 493.8L489.8 492.9L489.9 492.1L490 491.2L490.1 490.3L490.3 489.4L490.5 488.6M486.7 503.4L486.6 502.5L486.6 501.6L486.6 500.7L486.6 499.8L486.7 498.8L486.8 497.9L486.9 497L487 496L487.2 495.1L487.4 494.2L487.7 493.3L488 492.4L488.3 491.5L488.6 490.7L489 489.8L489.4 489L489.8 488.2M481.2 511.1L481.2 510.2L481.2 509.3L481.3 508.4L481.4 507.5L481.5 506.5L481.6 505.5L481.8 504.6L482 503.6L482.2 502.6L482.4 501.6L482.7 500.6L482.9 499.6L483.2 498.6L483.5 497.6L483.9 496.7L484.2 495.7L484.6 494.8L485 493.9L485.4 493L485.9 492.1L486.4 491.3L486.9 490.5L487.4 489.7L488 489L488.6 488.3L489.2 487.7M471.4 518L472 517.1L472.5 516.2L473 515.2L473.4 514.2L473.8 513.2L474.2 512.2L474.6 511.2L475 510.1L475.4 509L475.8 507.9L476.2 506.9L476.6 505.8L477 504.7L477.4 503.6L477.8 502.5L478.2 501.5L478.7 500.4L479.1 499.4L479.6 498.4L480.1 497.4L480.6 496.4L481.1 495.5L481.6 494.6L482.2 493.7L482.7 492.8L483.3 492L483.9 491.2L484.6 490.5L485.2 489.8L485.9 489.1L486.6 488.5L487.3 487.9L488 487.4L488.8 487M454.9 522L458.7 520.9L460.9 519.9L462.5 518.8L463.8 517.7L464.9 516.5L465.9 515.4L466.7 514.2L467.5 513L468.2 511.8L468.9 510.6L469.6 509.5L470.2 508.3L470.8 507.1L471.5 505.9L472 504.7L472.6 503.6L473.2 502.5L473.8 501.3L474.4 500.2L475 499.2L475.6 498.1L476.2 497.1L476.8 496.1L477.4 495.2L478.1 494.3L478.7 493.4L479.4 492.5L480.1 491.7L480.8 491L481.5 490.3L482.2 489.6L482.9 489L483.7 488.4L484.5 487.9L485.3 487.5L486.1 487.1L486.9 486.7L487.7 486.4L488.5 486.2M454.9 522L459.8 521.3L463.6 520.5L467 519.7L470 518.9M454.9 519L456.7 517.7L458.2 516.4L459.5 515.1L460.7 513.8L461.8 512.5L462.7 511.2L463.6 509.9L464.5 508.6L465.3 507.3L466.1 506L466.8 504.8L467.6 503.6L468.3 502.3L469 501.2L469.7 500L470.4 498.9L471.1 497.8L471.8 496.7L472.5 495.7L473.2 494.7L473.9 493.8L474.6 492.9L475.4 492L476.1 491.2L476.9 490.4L477.6 489.7L478.4 489L479.2 488.4L480 487.9L480.8 487.4L481.7 486.9L482.5 486.5L483.4 486.2L484.2 485.9L485.1 485.7L485.9 485.5L486.8 485.4L487.7 485.3L488.6 485.3M454.9 519L457 518.7L459.1 518.4L461.3 517.9L463.5 517.5L465.6 516.9L467.8 516.3L469.9 515.7L471.9 515L473.9 514.3L475.9 513.6L477.7 512.8L479.5 512M454.9 513.4L456.1 512L457.2 510.5L458.3 509.1L459.3 507.7L460.2 506.3L461.1 505L462 503.6L462.8 502.3L463.7 501.1L464.5 499.8L465.3 498.6L466 497.4L466.8 496.3L467.6 495.2L468.4 494.1L469.1 493.1L469.9 492.1L470.7 491.2L471.5 490.3L472.3 489.5L473.1 488.8L473.9 488L474.8 487.4L475.6 486.8L476.4 486.2L477.3 485.7L478.2 485.3L479 484.9L479.9 484.6L480.8 484.3L481.7 484.1L482.6 484L483.5 483.9L484.4 483.8L485.3 483.9L486.2 484L487.1 484.1L487.9 484.3L488.8 484.5M454.9 513.4L456.2 513.5L457.6 513.6L459.1 513.5L460.6 513.4L462.1 513.3L463.7 513.1L465.3 512.8L466.9 512.5L468.6 512.1L470.2 511.7L471.8 511.2L473.5 510.7L475 510.1L476.6 509.5L478.1 508.8L479.6 508.1L481 507.4L482.4 506.7L483.7 505.9L484.9 505.1L486.1 504.2M454.9 505.5L455.9 504.1L456.8 502.6L457.7 501.2L458.6 499.8L459.5 498.5L460.4 497.2L461.2 495.9L462 494.7L462.9 493.5L463.7 492.4L464.5 491.3L465.3 490.3L466.2 489.3L467 488.4L467.8 487.5L468.7 486.7L469.5 486L470.4 485.3L471.3 484.6L472.2 484L473 483.5L474 483L474.9 482.6L475.8 482.3L476.7 482L477.7 481.7L478.6 481.6L479.5 481.4L480.5 481.4L481.4 481.4L482.4 481.4L483.3 481.6L484.2 481.7L485.1 482L486 482.2L486.8 482.6L487.6 482.9L488.4 483.4L489.2 483.8M454.9 505.5L455.9 506.1L457 506.5L458.1 506.9L459.2 507.2L460.4 507.4L461.6 507.6L462.9 507.7L464.2 507.8L465.5 507.8L466.8 507.7L468.1 507.5L469.5 507.4L470.9 507.1L472.2 506.8L473.6 506.5L475 506.1L476.3 505.6L477.6 505.1L478.9 504.6L480.2 504L481.4 503.4L482.5 502.7L483.7 502L484.7 501.3L485.7 500.5L486.7 499.8L487.6 499L488.4 498.1L489.1 497.3L489.8 496.4M454.9 496.1L455.7 494.7L456.6 493.3L457.5 492.1L458.3 490.8L459.2 489.6L460 488.5L460.9 487.4L461.8 486.4L462.6 485.4L463.5 484.5L464.4 483.6L465.3 482.9L466.2 482.1L467.1 481.4L468 480.8L468.9 480.3L469.9 479.8L470.8 479.3L471.8 479L472.8 478.7L473.8 478.4L474.7 478.2L475.7 478.1L476.7 478L477.7 478L478.7 478.1L479.7 478.2L480.7 478.3L481.7 478.6L482.6 478.8L483.6 479.1L484.5 479.5L485.4 479.9L486.2 480.4L487 480.9L487.8 481.4L488.5 482L489.2 482.6L489.8 483.3M454.9 496.1L455.8 496.9L456.7 497.8L457.6 498.5L458.6 499.2L459.6 499.8L460.6 500.4L461.6 500.8L462.7 501.3L463.8 501.6L464.9 501.9L466 502.1L467.1 502.3L468.3 502.4L469.5 502.4L470.6 502.4L471.8 502.3L473 502.2L474.2 502L475.4 501.7L476.6 501.4L477.8 501.1L478.9 500.7L480.1 500.2L481.2 499.7L482.2 499.2L483.3 498.6L484.2 498L485.2 497.4L486.1 496.7L486.9 496L487.7 495.3L488.4 494.5L489 493.7L489.6 492.9L490.1 492.1L490.5 491.2L490.9 490.4L491.1 489.5M454.9 485.8L455.7 484.6L456.6 483.4L457.5 482.4L458.3 481.4L459.2 480.4L460.1 479.6L461 478.7L462 478L462.9 477.3L463.9 476.7L464.8 476.1L465.8 475.6L466.8 475.2L467.8 474.8L468.9 474.5L469.9 474.3L471 474.1L472.1 474L473.1 473.9L474.2 473.9L475.3 473.9L476.4 474.1L477.4 474.2L478.5 474.4L479.6 474.7L480.6 475L481.6 475.4L482.6 475.8L483.6 476.3L484.5 476.8L485.4 477.3L486.2 477.9L487 478.6L487.7 479.2L488.4 479.9L489 480.6L489.6 481.4L490.1 482.1L490.5 482.9M454.9 485.8L455.7 486.9L456.6 488.1L457.5 489.1L458.3 490.1L459.2 491.1L460.1 491.9L461 492.8L462 493.5L462.9 494.2L463.9 494.8L464.8 495.4L465.8 495.9L466.8 496.3L467.8 496.7L468.9 497L469.9 497.2L471 497.4L472.1 497.5L473.1 497.6L474.2 497.6L475.3 497.6L476.4 497.4L477.4 497.3L478.5 497.1L479.6 496.8L480.6 496.5L481.6 496.1L482.6 495.7L483.6 495.2L484.5 494.7L485.4 494.2L486.2 493.6L487 492.9L487.7 492.3L488.4 491.6L489 490.9L489.6 490.1L490.1 489.4L490.5 488.6M454.9 475.4L455.8 474.6L456.7 473.7L457.6 473L458.6 472.3L459.6 471.7L460.6 471.1L461.6 470.7L462.7 470.2L463.8 469.9L464.9 469.6L466 469.4L467.1 469.2L468.3 469.1L469.5 469.1L470.6 469.1L471.8 469.2L473 469.3L474.2 469.5L475.4 469.8L476.6 470.1L477.8 470.4L478.9 470.8L480.1 471.3L481.2 471.8L482.2 472.3L483.3 472.9L484.2 473.5L485.2 474.1L486.1 474.8L486.9 475.5L487.7 476.2L488.4 477L489 477.8L489.6 478.6L490.1 479.4L490.5 480.3L490.9 481.1L491.1 482M454.9 475.4L455.7 476.8L456.6 478.2L457.5 479.4L458.3 480.7L459.2 481.9L460 483L460.9 484.1L461.8 485.1L462.6 486.1L463.5 487L464.4 487.9L465.3 488.6L466.2 489.4L467.1 490.1L468 490.7L468.9 491.2L469.9 491.7L470.8 492.2L471.8 492.5L472.8 492.8L473.8 493.1L474.7 493.3L475.7 493.4L476.7 493.5L477.7 493.5L478.7 493.4L479.7 493.3L480.7 493.2L481.7 492.9L482.6 492.7L483.6 492.4L484.5 492L485.4 491.6L486.2 491.1L487 490.6L487.8 490.1L488.5 489.5L489.2 488.9L489.8 488.2M454.9 466L455.9 465.4L457 465L458.1 464.6L459.2 464.3L460.4 464.1L461.6 463.9L462.9 463.8L464.2 463.7L465.5 463.7L466.8 463.8L468.1 464L469.5 464.1L470.9 464.4L472.2 464.7L473.6 465L475 465.4L476.3 465.9L477.6 466.4L478.9 466.9L480.2 467.5L481.4 468.1L482.5 468.8L483.7 469.5L484.7 470.2L485.7 471L486.7 471.7L487.6 472.5L488.4 473.4L489.1 474.2L489.8 475.1M454.9 466L455.9 467.4L456.8 468.9L457.7 470.3L458.6 471.7L459.5 473L460.4 474.3L461.2 475.6L462 476.8L462.9 478L463.7 479.1L464.5 480.2L465.3 481.2L466.2 482.2L467 483.1L467.8 484L468.7 484.8L469.5 485.5L470.4 486.2L471.3 486.9L472.2 487.5L473 488L474 488.5L474.9 488.9L475.8 489.2L476.7 489.5L477.7 489.8L478.6 489.9L479.5 490.1L480.5 490.1L481.4 490.1L482.4 490.1L483.3 489.9L484.2 489.8L485.1 489.5L486 489.3L486.8 488.9L487.6 488.6L488.4 488.1L489.2 487.7M454.9 458.1L456.2 458L457.6 457.9L459.1 458L460.6 458.1L462.1 458.2L463.7 458.4L465.3 458.7L466.9 459L468.6 459.4L470.2 459.8L471.8 460.3L473.5 460.8L475 461.4L476.6 462L478.1 462.7L479.6 463.4L481 464.1L482.4 464.8L483.7 465.6L484.9 466.4L486.1 467.3M454.9 458.1L456.1 459.5L457.2 461L458.3 462.4L459.3 463.8L460.2 465.2L461.1 466.5L462 467.9L462.8 469.2L463.7 470.4L464.5 471.7L465.3 472.9L466 474.1L466.8 475.2L467.6 476.3L468.4 477.4L469.1 478.4L469.9 479.4L470.7 480.3L471.5 481.2L472.3 482L473.1 482.7L473.9 483.5L474.8 484.1L475.6 484.7L476.4 485.3L477.3 485.8L478.2 486.2L479 486.6L479.9 486.9L480.8 487.2L481.7 487.4L482.6 487.5L483.5 487.6L484.4 487.7L485.3 487.6L486.2 487.5L487.1 487.4L487.9 487.2L488.8 487M454.9 452.5L457 452.8L459.1 453.1L461.3 453.6L463.5 454L465.6 454.6L467.8 455.2L469.9 455.8L471.9 456.5L473.9 457.2L475.9 457.9L477.7 458.7L479.5 459.5M454.9 452.5L456.7 453.8L458.2 455.1L459.5 456.4L460.7 457.7L461.8 459L462.7 460.3L463.6 461.6L464.5 462.9L465.3 464.2L466.1 465.5L466.8 466.7L467.6 467.9L468.3 469.2L469 470.3L469.7 471.5L470.4 472.6L471.1 473.7L471.8 474.8L472.5 475.8L473.2 476.8L473.9 477.7L474.6 478.6L475.4 479.5L476.1 480.3L476.9 481.1L477.6 481.8L478.4 482.5L479.2 483.1L480 483.6L480.8 484.1L481.7 484.6L482.5 485L483.4 485.3L484.2 485.6L485.1 485.8L485.9 486L486.8 486.1L487.7 486.2L488.6 486.2M454.9 449.5L459.8 450.2L463.6 451L467 451.8L470 452.6M454.9 449.5L458.7 450.6L460.9 451.6L462.5 452.7L463.8 453.8L464.9 455L465.9 456.1L466.7 457.3L467.5 458.5L468.2 459.7L468.9 460.9L469.6 462L470.2 463.2L470.8 464.4L471.5 465.6L472 466.8L472.6 467.9L473.2 469L473.8 470.2L474.4 471.3L475 472.3L475.6 473.4L476.2 474.4L476.8 475.4L477.4 476.3L478.1 477.2L478.7 478.1L479.4 479L480.1 479.8L480.8 480.5L481.5 481.2L482.2 481.9L482.9 482.5L483.7 483.1L484.5 483.6L485.3 484L486.1 484.4L486.9 484.8L487.7 485.1L488.5 485.3M471.4 453.5L472 454.4L472.5 455.3L473 456.3L473.4 457.3L473.8 458.3L474.2 459.3L474.6 460.3L475 461.4L475.4 462.5L475.8 463.6L476.2 464.6L476.6 465.7L477 466.8L477.4 467.9L477.8 469L478.2 470L478.7 471.1L479.1 472.1L479.6 473.1L480.1 474.1L480.6 475.1L481.1 476L481.6 476.9L482.2 477.8L482.7 478.7L483.3 479.5L483.9 480.3L484.6 481L485.2 481.7L485.9 482.4L486.6 483L487.3 483.6L488 484.1L488.8 484.5M481.2 460.4L481.2 461.3L481.2 462.2L481.3 463.1L481.4 464L481.5 465L481.6 466L481.8 466.9L482 467.9L482.2 468.9L482.4 469.9L482.7 470.9L482.9 471.9L483.2 472.9L483.5 473.9L483.9 474.8L484.2 475.8L484.6 476.7L485 477.6L485.4 478.5L485.9 479.4L486.4 480.2L486.9 481L487.4 481.8L488 482.5L488.6 483.2L489.2 483.8M486.7 468.1L486.6 469L486.6 469.9L486.6 470.8L486.6 471.7L486.7 472.7L486.8 473.6L486.9 474.5L487 475.5L487.2 476.4L487.4 477.3L487.7 478.2L488 479.1L488.3 480L488.6 480.8L489 481.7L489.4 482.5L489.8 483.3M489.9 475.9L489.8 476.8L489.8 477.7L489.8 478.6L489.9 479.4L490 480.3L490.1 481.2L490.3 482.1L490.5 482.9" fill="none" stroke="#000" stroke-width="1.5" stroke-linejoin="round"/><path d="M453.9 449.1V522.4" stroke="#000" stroke-width="1.3"/><ellipse cx="489.2" cy="485.8" rx="2.4" ry="4" fill="#000"/><circle cx="454.9" cy="485.8" r="36.6" fill="none" stroke="#000" stroke-width="1.3"/><path d="M406.1 482.6H410.7V488.6H406.1" fill="#fff" stroke="#111" stroke-width="1.3"/><path d="M419.6 470.9L416 472.3C413.2 474.2 411.6 477 411.6 480.5V490.5C411.6 494 413.2 496.8 416 498.7L419.6 500.3Z" fill="#fff" stroke="#111" stroke-width="1.5"/><path d="M413 477.5C412.4 481 412.4 490 413 493.5" fill="none" stroke="#000" stroke-width="2.4"/><rect x="418.2" y="470.9" width="2" height="29.4" fill="#888" stroke="#111" stroke-width="0.9"/><circle cx="347.3" cy="562.9" r="36.8" fill="#fff"/><path d="M381.1 575.2L380.6 576.1L380.1 577.1L379.6 578.1L379.1 579L378.5 580L377.9 580.9L377.3 581.9L376.6 582.8L376 583.7L375.3 584.6L374.5 585.5L373.8 586.4L373 587.3L372.2 588.1L371.4 588.9L370.6 589.8L369.7 590.5L368.8 591.3L367.9 592L367 592.7L366.1 593.4L365.1 594.1L364.2 594.7L363.2 595.3L362.2 595.8L361.2 596.3L360.2 596.8L359.1 597.3L358.1 597.7L357 598.1L356 598.4L354.9 598.7L353.8 599L352.8 599.2L351.7 599.4L350.6 599.5L349.5 599.6L348.4 599.7L347.3 599.7M381.1 573.2L380.6 574.1L380.1 575L379.6 575.8L379.1 576.7L378.5 577.6L377.9 578.5L377.3 579.4L376.6 580.3L376 581.2L375.3 582.1L374.5 582.9L373.8 583.8L373 584.7L372.2 585.5L371.4 586.4L370.6 587.2L369.7 588L368.8 588.8L367.9 589.5L367 590.3L366.1 591L365.1 591.7L364.2 592.4L363.2 593L362.2 593.7L361.2 594.3L360.2 594.8L359.1 595.3L358.1 595.8L357 596.3L356 596.7L354.9 597.1L353.8 597.5L352.8 597.8L351.7 598.1L350.6 598.4L349.5 598.6L348.4 598.8L347.3 598.9M362.2 596.6L361.2 597L360.2 597.4L359.1 597.7L358.1 598L357 598.3L356 598.5L354.9 598.7L353.8 598.9L352.8 599L351.7 599L350.6 599.1L349.5 599L348.4 599L347.3 598.9M381.1 570.8L380.6 571.6L380.1 572.3L379.6 573.1L379.1 573.9L378.5 574.6L377.9 575.4L377.3 576.2L376.6 577.1L376 577.9L375.3 578.7L374.5 579.5L373.8 580.3L373 581.1L372.2 581.9L371.4 582.7L370.6 583.5L369.7 584.3L368.8 585.1L367.9 585.9L367 586.6L366.1 587.4L365.1 588.1L364.2 588.8L363.2 589.5L362.2 590.1L361.2 590.8L360.2 591.4L359.1 592L358.1 592.6L357 593.1L356 593.6L354.9 594.1L353.8 594.5L352.8 595L351.7 595.3L350.6 595.7L349.5 596L348.4 596.3L347.3 596.5M374.5 587.6L373.8 588.4L373 589.2L372.2 589.9L371.4 590.7L370.6 591.3L369.7 592L368.8 592.6L367.9 593.1L367 593.7L366.1 594.2L365.1 594.6L364.2 595.1L363.2 595.5L362.2 595.8L361.2 596.1L360.2 596.4L359.1 596.6L358.1 596.8L357 597L356 597.1L354.9 597.1L353.8 597.2L352.8 597.2L351.7 597.1L350.6 597L349.5 596.9L348.4 596.7L347.3 596.5M381.1 568.1L380.6 568.7L380.1 569.3L379.6 569.9L379.1 570.5L378.5 571.1L377.9 571.8L377.3 572.5L376.6 573.2L376 573.9L375.3 574.6L374.5 575.3L373.8 576L373 576.8L372.2 577.5L371.4 578.3L370.6 579L369.7 579.7L368.8 580.5L367.9 581.2L367 581.9L366.1 582.7L365.1 583.4L364.2 584.1L363.2 584.8L362.2 585.4L361.2 586.1L360.2 586.7L359.1 587.4L358.1 588L357 588.6L356 589.1L354.9 589.7L353.8 590.2L352.8 590.7L351.7 591.1L350.6 591.6L349.5 592L348.4 592.3L347.3 592.7M381.1 577.6L380.6 578.5L380.1 579.5L379.6 580.4L379.1 581.4L378.5 582.3L377.9 583.1L377.3 584L376.6 584.8L376 585.6L375.3 586.4L374.5 587.1L373.8 587.8L373 588.5L372.2 589.1L371.4 589.7L370.6 590.3L369.7 590.8L368.8 591.3L367.9 591.7L367 592.1L366.1 592.5L365.1 592.8L364.2 593.1L363.2 593.4L362.2 593.6L361.2 593.8L360.2 593.9L359.1 594.1L358.1 594.1L357 594.1L356 594.1L354.9 594.1L353.8 594L352.8 593.9L351.7 593.7L350.6 593.5L349.5 593.2L348.4 593L347.3 592.7M381.1 565.1L380.6 565.5L380.1 565.9L379.6 566.4L379.1 566.8L378.5 567.3L377.9 567.8L377.3 568.3L376.6 568.9L376 569.4L375.3 570L374.5 570.6L373.8 571.2L373 571.8L372.2 572.5L371.4 573.1L370.6 573.8L369.7 574.4L368.8 575.1L367.9 575.8L367 576.4L366.1 577.1L365.1 577.8L364.2 578.4L363.2 579.1L362.2 579.8L361.2 580.4L360.2 581.1L359.1 581.7L358.1 582.3L357 582.9L356 583.5L354.9 584.1L353.8 584.6L352.8 585.2L351.7 585.7L350.6 586.2L349.5 586.7L348.4 587.1L347.3 587.5M381.1 577.1L380.6 578L380.1 578.9L379.6 579.7L379.1 580.5L378.5 581.3L377.9 582.1L377.3 582.9L376.6 583.6L376 584.2L375.3 584.9L374.5 585.5L373.8 586.1L373 586.6L372.2 587.1L371.4 587.6L370.6 588L369.7 588.4L368.8 588.7L367.9 589L367 589.3L366.1 589.5L365.1 589.7L364.2 589.9L363.2 590L362.2 590.1L361.2 590.1L360.2 590.2L359.1 590.1L358.1 590.1L357 590L356 589.8L354.9 589.6L353.8 589.4L352.8 589.2L351.7 588.9L350.6 588.6L349.5 588.3L348.4 587.9L347.3 587.5M381.1 562.1L380.6 562.2L380.1 562.4L379.6 562.7L379.1 563L378.5 563.2L377.9 563.6L377.3 563.9L376.6 564.3L376 564.7L375.3 565.1L374.5 565.5L373.8 566L373 566.5L372.2 567L371.4 567.5L370.6 568L369.7 568.6L368.8 569.2L367.9 569.7L367 570.3L366.1 570.9L365.1 571.5L364.2 572.1L363.2 572.7L362.2 573.3L361.2 573.9L360.2 574.6L359.1 575.2L358.1 575.8L357 576.4L356 577L354.9 577.6L353.8 578.1L352.8 578.7L351.7 579.3L350.6 579.8L349.5 580.3L348.4 580.8L347.3 581.3M381.1 576L380.6 576.8L380.1 577.5L379.6 578.3L379.1 579L378.5 579.6L377.9 580.3L377.3 580.8L376.6 581.4L376 581.9L375.3 582.4L374.5 582.9L373.8 583.3L373 583.7L372.2 584L371.4 584.3L370.6 584.6L369.7 584.8L368.8 585L367.9 585.2L367 585.3L366.1 585.4L365.1 585.5L364.2 585.5L363.2 585.4L362.2 585.4L361.2 585.3L360.2 585.2L359.1 585L358.1 584.8L357 584.6L356 584.3L354.9 584L353.8 583.7L352.8 583.4L351.7 583L350.6 582.6L349.5 582.2L348.4 581.8L347.3 581.3M381.1 559L380.6 559L380.1 559L379.6 559L379.1 559.1L378.5 559.2L377.9 559.3L377.3 559.5L376.6 559.6L376 559.9L375.3 560.1L374.5 560.4L373.8 560.7L373 561L372.2 561.3L371.4 561.7L370.6 562.1L369.7 562.5L368.8 562.9L367.9 563.4L367 563.9L366.1 564.4L365.1 564.9L364.2 565.4L363.2 565.9L362.2 566.5L361.2 567L360.2 567.6L359.1 568.1L358.1 568.7L357 569.3L356 569.8L354.9 570.4L353.8 571L352.8 571.5L351.7 572.1L350.6 572.7L349.5 573.2L348.4 573.7L347.3 574.3M381.1 574.3L380.6 575L380.1 575.6L379.6 576.1L379.1 576.7L378.5 577.2L377.9 577.6L377.3 578.1L376.6 578.5L376 578.8L375.3 579.1L374.5 579.4L373.8 579.7L373 579.9L372.2 580.1L371.4 580.2L370.6 580.3L369.7 580.4L368.8 580.4L367.9 580.4L367 580.4L366.1 580.3L365.1 580.2L364.2 580.1L363.2 579.9L362.2 579.7L361.2 579.5L360.2 579.2L359.1 578.9L358.1 578.6L357 578.3L356 577.9L354.9 577.5L353.8 577.1L352.8 576.7L351.7 576.2L350.6 575.8L349.5 575.3L348.4 574.8L347.3 574.3M381.1 556.2L380.6 555.9L380.1 555.7L379.6 555.5L379.1 555.4L378.5 555.3L377.9 555.2L377.3 555.2L376.6 555.1L376 555.2L375.3 555.2L374.5 555.3L373.8 555.4L373 555.6L372.2 555.7L371.4 556L370.6 556.2L369.7 556.5L368.8 556.7L367.9 557.1L367 557.4L366.1 557.8L365.1 558.1L364.2 558.6L363.2 559L362.2 559.4L361.2 559.9L360.2 560.4L359.1 560.8L358.1 561.3L357 561.9L356 562.4L354.9 562.9L353.8 563.5L352.8 564L351.7 564.6L350.6 565.1L349.5 565.7L348.4 566.2L347.3 566.7M381.1 572.2L380.6 572.6L380.1 573L379.6 573.4L379.1 573.8L378.5 574.1L377.9 574.4L377.3 574.6L376.6 574.8L376 575L375.3 575.1L374.5 575.2L373.8 575.3L373 575.3L372.2 575.3L371.4 575.3L370.6 575.2L369.7 575.1L368.8 575L367.9 574.8L367 574.6L366.1 574.4L365.1 574.2L364.2 573.9L363.2 573.6L362.2 573.3L361.2 572.9L360.2 572.5L359.1 572.1L358.1 571.7L357 571.3L356 570.8L354.9 570.4L353.8 569.9L352.8 569.4L351.7 568.9L350.6 568.4L349.5 567.8L348.4 567.3L347.3 566.7M381.1 553.6L380.6 553.2L380.1 552.8L379.6 552.4L379.1 552L378.5 551.7L377.9 551.4L377.3 551.2L376.6 551L376 550.8L375.3 550.7L374.5 550.6L373.8 550.5L373 550.5L372.2 550.5L371.4 550.5L370.6 550.6L369.7 550.7L368.8 550.8L367.9 551L367 551.2L366.1 551.4L365.1 551.6L364.2 551.9L363.2 552.2L362.2 552.5L361.2 552.9L360.2 553.3L359.1 553.7L358.1 554.1L357 554.5L356 555L354.9 555.4L353.8 555.9L352.8 556.4L351.7 556.9L350.6 557.4L349.5 558L348.4 558.5L347.3 559.1M381.1 569.6L380.6 569.9L380.1 570.1L379.6 570.3L379.1 570.4L378.5 570.5L377.9 570.6L377.3 570.6L376.6 570.7L376 570.6L375.3 570.6L374.5 570.5L373.8 570.4L373 570.2L372.2 570.1L371.4 569.8L370.6 569.6L369.7 569.3L368.8 569.1L367.9 568.7L367 568.4L366.1 568L365.1 567.7L364.2 567.2L363.2 566.8L362.2 566.4L361.2 565.9L360.2 565.4L359.1 565L358.1 564.5L357 563.9L356 563.4L354.9 562.9L353.8 562.3L352.8 561.8L351.7 561.2L350.6 560.7L349.5 560.1L348.4 559.6L347.3 559.1M381.1 551.5L380.6 550.8L380.1 550.2L379.6 549.7L379.1 549.1L378.5 548.6L377.9 548.2L377.3 547.7L376.6 547.3L376 547L375.3 546.7L374.5 546.4L373.8 546.1L373 545.9L372.2 545.7L371.4 545.6L370.6 545.5L369.7 545.4L368.8 545.4L367.9 545.4L367 545.4L366.1 545.5L365.1 545.6L364.2 545.7L363.2 545.9L362.2 546.1L361.2 546.3L360.2 546.6L359.1 546.9L358.1 547.2L357 547.5L356 547.9L354.9 548.3L353.8 548.7L352.8 549.1L351.7 549.6L350.6 550L349.5 550.5L348.4 551L347.3 551.5M381.1 566.8L380.6 566.8L380.1 566.8L379.6 566.8L379.1 566.7L378.5 566.6L377.9 566.5L377.3 566.3L376.6 566.2L376 565.9L375.3 565.7L374.5 565.4L373.8 565.1L373 564.8L372.2 564.5L371.4 564.1L370.6 563.7L369.7 563.3L368.8 562.9L367.9 562.4L367 561.9L366.1 561.4L365.1 560.9L364.2 560.4L363.2 559.9L362.2 559.3L361.2 558.8L360.2 558.2L359.1 557.7L358.1 557.1L357 556.5L356 556L354.9 555.4L353.8 554.8L352.8 554.3L351.7 553.7L350.6 553.1L349.5 552.6L348.4 552.1L347.3 551.5M381.1 549.8L380.6 549L380.1 548.3L379.6 547.5L379.1 546.8L378.5 546.2L377.9 545.5L377.3 545L376.6 544.4L376 543.9L375.3 543.4L374.5 542.9L373.8 542.5L373 542.1L372.2 541.8L371.4 541.5L370.6 541.2L369.7 541L368.8 540.8L367.9 540.6L367 540.5L366.1 540.4L365.1 540.3L364.2 540.3L363.2 540.4L362.2 540.4L361.2 540.5L360.2 540.6L359.1 540.8L358.1 541L357 541.2L356 541.5L354.9 541.8L353.8 542.1L352.8 542.4L351.7 542.8L350.6 543.2L349.5 543.6L348.4 544L347.3 544.5M381.1 563.7L380.6 563.6L380.1 563.4L379.6 563.1L379.1 562.8L378.5 562.6L377.9 562.2L377.3 561.9L376.6 561.5L376 561.1L375.3 560.7L374.5 560.3L373.8 559.8L373 559.3L372.2 558.8L371.4 558.3L370.6 557.8L369.7 557.2L368.8 556.6L367.9 556.1L367 555.5L366.1 554.9L365.1 554.3L364.2 553.7L363.2 553.1L362.2 552.5L361.2 551.9L360.2 551.2L359.1 550.6L358.1 550L357 549.4L356 548.8L354.9 548.2L353.8 547.7L352.8 547.1L351.7 546.5L350.6 546L349.5 545.5L348.4 545L347.3 544.5M381.1 548.7L380.6 547.8L380.1 546.9L379.6 546.1L379.1 545.3L378.5 544.5L377.9 543.7L377.3 542.9L376.6 542.2L376 541.6L375.3 540.9L374.5 540.3L373.8 539.7L373 539.2L372.2 538.7L371.4 538.2L370.6 537.8L369.7 537.4L368.8 537.1L367.9 536.8L367 536.5L366.1 536.3L365.1 536.1L364.2 535.9L363.2 535.8L362.2 535.7L361.2 535.7L360.2 535.6L359.1 535.7L358.1 535.7L357 535.8L356 536L354.9 536.2L353.8 536.4L352.8 536.6L351.7 536.9L350.6 537.2L349.5 537.5L348.4 537.9L347.3 538.3M381.1 560.7L380.6 560.3L380.1 559.9L379.6 559.4L379.1 559L378.5 558.5L377.9 558L377.3 557.5L376.6 556.9L376 556.4L375.3 555.8L374.5 555.2L373.8 554.6L373 554L372.2 553.3L371.4 552.7L370.6 552L369.7 551.4L368.8 550.7L367.9 550L367 549.4L366.1 548.7L365.1 548L364.2 547.4L363.2 546.7L362.2 546L361.2 545.4L360.2 544.7L359.1 544.1L358.1 543.5L357 542.9L356 542.3L354.9 541.7L353.8 541.2L352.8 540.6L351.7 540.1L350.6 539.6L349.5 539.1L348.4 538.7L347.3 538.3M381.1 548.2L380.6 547.3L380.1 546.3L379.6 545.4L379.1 544.4L378.5 543.5L377.9 542.7L377.3 541.8L376.6 541L376 540.2L375.3 539.4L374.5 538.7L373.8 538L373 537.3L372.2 536.7L371.4 536.1L370.6 535.5L369.7 535L368.8 534.5L367.9 534.1L367 533.7L366.1 533.3L365.1 533L364.2 532.7L363.2 532.4L362.2 532.2L361.2 532L360.2 531.9L359.1 531.7L358.1 531.7L357 531.7L356 531.7L354.9 531.7L353.8 531.8L352.8 531.9L351.7 532.1L350.6 532.3L349.5 532.6L348.4 532.8L347.3 533.1M381.1 557.7L380.6 557.1L380.1 556.5L379.6 555.9L379.1 555.3L378.5 554.7L377.9 554L377.3 553.3L376.6 552.6L376 551.9L375.3 551.2L374.5 550.5L373.8 549.8L373 549L372.2 548.3L371.4 547.5L370.6 546.8L369.7 546.1L368.8 545.3L367.9 544.6L367 543.9L366.1 543.1L365.1 542.4L364.2 541.7L363.2 541L362.2 540.4L361.2 539.7L360.2 539.1L359.1 538.4L358.1 537.8L357 537.2L356 536.7L354.9 536.1L353.8 535.6L352.8 535.1L351.7 534.7L350.6 534.2L349.5 533.8L348.4 533.5L347.3 533.1M374.5 538.2L373.8 537.4L373 536.6L372.2 535.9L371.4 535.1L370.6 534.5L369.7 533.8L368.8 533.2L367.9 532.7L367 532.1L366.1 531.6L365.1 531.2L364.2 530.7L363.2 530.3L362.2 530L361.2 529.7L360.2 529.4L359.1 529.2L358.1 529L357 528.8L356 528.7L354.9 528.7L353.8 528.6L352.8 528.6L351.7 528.7L350.6 528.8L349.5 528.9L348.4 529.1L347.3 529.3M381.1 555L380.6 554.2L380.1 553.5L379.6 552.7L379.1 551.9L378.5 551.2L377.9 550.4L377.3 549.6L376.6 548.7L376 547.9L375.3 547.1L374.5 546.3L373.8 545.5L373 544.7L372.2 543.9L371.4 543.1L370.6 542.3L369.7 541.5L368.8 540.7L367.9 539.9L367 539.2L366.1 538.4L365.1 537.7L364.2 537L363.2 536.3L362.2 535.7L361.2 535L360.2 534.4L359.1 533.8L358.1 533.2L357 532.7L356 532.2L354.9 531.7L353.8 531.3L352.8 530.8L351.7 530.5L350.6 530.1L349.5 529.8L348.4 529.5L347.3 529.3M362.2 529.2L361.2 528.8L360.2 528.4L359.1 528.1L358.1 527.8L357 527.5L356 527.3L354.9 527.1L353.8 526.9L352.8 526.8L351.7 526.8L350.6 526.7L349.5 526.8L348.4 526.8L347.3 526.9M381.1 552.6L380.6 551.7L380.1 550.8L379.6 550L379.1 549.1L378.5 548.2L377.9 547.3L377.3 546.4L376.6 545.5L376 544.6L375.3 543.7L374.5 542.9L373.8 542L373 541.1L372.2 540.3L371.4 539.4L370.6 538.6L369.7 537.8L368.8 537L367.9 536.3L367 535.5L366.1 534.8L365.1 534.1L364.2 533.4L363.2 532.8L362.2 532.1L361.2 531.5L360.2 531L359.1 530.5L358.1 530L357 529.5L356 529.1L354.9 528.7L353.8 528.3L352.8 528L351.7 527.7L350.6 527.4L349.5 527.2L348.4 527L347.3 526.9M381.1 550.6L380.6 549.7L380.1 548.7L379.6 547.7L379.1 546.8L378.5 545.8L377.9 544.9L377.3 543.9L376.6 543L376 542.1L375.3 541.2L374.5 540.3L373.8 539.4L373 538.5L372.2 537.7L371.4 536.9L370.6 536L369.7 535.3L368.8 534.5L367.9 533.8L367 533.1L366.1 532.4L365.1 531.7L364.2 531.1L363.2 530.5L362.2 530L361.2 529.5L360.2 529L359.1 528.5L358.1 528.1L357 527.7L356 527.4L354.9 527.1L353.8 526.8L352.8 526.6L351.7 526.4L350.6 526.3L349.5 526.2L348.4 526.1L347.3 526.1M381.1 549.2L380.6 548.2L380.1 547.2L379.6 546.2L379.1 545.2L378.5 544.2L377.9 543.3L377.3 542.3L376.6 541.4L376 540.5L375.3 539.6L374.5 538.7L373.8 537.8L373 537L372.2 536.2L371.4 535.4L370.6 534.6L369.7 533.9L368.8 533.2L367.9 532.5L367 531.9L366.1 531.3L365.1 530.7L364.2 530.2L363.2 529.7M381.1 548.4L380.6 547.4L380.1 546.4L379.6 545.4L379.1 544.4L378.5 543.5L377.9 542.5L377.3 541.6L376.6 540.7L376 539.8L375.3 539M381.1 577.4L380.6 578.4L380.1 579.4L379.6 580.4L379.1 581.4L378.5 582.3L377.9 583.3L377.3 584.2L376.6 585.1L376 586L375.3 586.8M381.1 576.6L380.6 577.6L380.1 578.6L379.6 579.6L379.1 580.6L378.5 581.6L377.9 582.5L377.3 583.5L376.6 584.4L376 585.3L375.3 586.2L374.5 587.1L373.8 588L373 588.8L372.2 589.6L371.4 590.4L370.6 591.2L369.7 591.9L368.8 592.6L367.9 593.3L367 593.9L366.1 594.5L365.1 595.1L364.2 595.6L363.2 596.1M312.1 572.8L312.1 571.9L312.1 571L312.1 570.1L312 569.2L311.9 568.3L311.8 567.5L311.6 566.6L311.4 565.7M315.3 580.6L315.3 579.7L315.4 578.8L315.4 577.9L315.4 577L315.3 576.1L315.2 575.1L315.1 574.2L314.9 573.2L314.7 572.3L314.5 571.4L314.3 570.5L314 569.6L313.7 568.7L313.4 567.8L313 567L312.6 566.2L312.2 565.4M320.8 588.4L320.8 587.5L320.8 586.6L320.7 585.7L320.6 584.7L320.5 583.8L320.4 582.8L320.2 581.8L320 580.8L319.8 579.8L319.6 578.8L319.3 577.8L319.1 576.8L318.8 575.8L318.5 574.9L318.1 573.9L317.8 572.9L317.4 572L317 571.1L316.5 570.2L316.1 569.3L315.6 568.5L315.1 567.7L314.5 566.9L314 566.2L313.4 565.5L312.8 564.8M330.7 595.4L330.1 594.4L329.6 593.5L329.1 592.5L328.7 591.5L328.2 590.5L327.8 589.5L327.4 588.4L327 587.4L326.6 586.3L326.2 585.2L325.9 584.1L325.5 583L325.1 582L324.6 580.9L324.2 579.8L323.8 578.7L323.4 577.7L322.9 576.6L322.4 575.6L321.9 574.6L321.4 573.6L320.9 572.7L320.4 571.8L319.8 570.9L319.3 570L318.7 569.2L318.1 568.4L317.4 567.7L316.8 567L316.1 566.3L315.4 565.7L314.7 565.1L314 564.6L313.2 564.1M347.3 599.3L343.5 598.3L341.2 597.2L339.6 596.1L338.3 595L337.2 593.8L336.2 592.7L335.4 591.5L334.6 590.3L333.8 589.1L333.1 587.9L332.5 586.7L331.8 585.5L331.2 584.4L330.6 583.2L330 582L329.4 580.8L328.8 579.7L328.2 578.6L327.6 577.5L327.1 576.4L326.5 575.3L325.8 574.3L325.2 573.3L324.6 572.4L323.9 571.5L323.3 570.6L322.6 569.7L321.9 568.9L321.2 568.2L320.5 567.5L319.8 566.8L319.1 566.2L318.3 565.6L317.5 565.1L316.7 564.6L315.9 564.2L315.1 563.9L314.3 563.6L313.4 563.3M347.3 599.3L342.4 598.6L338.5 597.9L335.1 597.1L332 596.2M347.3 596.4L345.4 595.1L343.9 593.8L342.6 592.4L341.4 591.1L340.4 589.8L339.4 588.5L338.5 587.2L337.6 585.9L336.8 584.6L336 583.3L335.3 582L334.5 580.8L333.8 579.6L333.1 578.4L332.4 577.2L331.7 576.1L331 575L330.3 573.9L329.6 572.9L328.8 571.9L328.1 571L327.4 570.1L326.7 569.2L325.9 568.4L325.1 567.6L324.4 566.9L323.6 566.2L322.8 565.6L322 565L321.2 564.5L320.3 564.1L319.5 563.7L318.6 563.3L317.8 563L316.9 562.8L316 562.6L315.2 562.5L314.3 562.5L313.4 562.5M347.3 596.4L345.2 596.1L343 595.7L340.8 595.3L338.6 594.8L336.5 594.2L334.3 593.7L332.2 593L330.1 592.4L328.1 591.6L326.2 590.9L324.3 590.1L322.5 589.3M347.3 590.7L346 589.3L344.9 587.8L343.8 586.4L342.8 585L341.9 583.6L341 582.2L340.1 580.9L339.3 579.6L338.4 578.3L337.6 577L336.8 575.8L336.1 574.6L335.3 573.5L334.5 572.4L333.7 571.3L332.9 570.3L332.2 569.3L331.4 568.4L330.6 567.5L329.8 566.7L328.9 565.9L328.1 565.2L327.3 564.5L326.4 563.9L325.6 563.4L324.7 562.9L323.9 562.4L323 562.1L322.1 561.7L321.2 561.5L320.3 561.3L319.4 561.1L318.5 561L317.6 561L316.7 561L315.8 561.1L314.9 561.2L314 561.4L313.2 561.7M347.3 590.7L345.9 590.8L344.5 590.9L343.1 590.8L341.6 590.7L340 590.6L338.4 590.4L336.8 590.1L335.2 589.8L333.5 589.4L331.9 589L330.2 588.5L328.6 588L327 587.4L325.4 586.8L323.9 586.1L322.4 585.4L321 584.7L319.6 583.9L318.3 583.1L317.1 582.3L315.9 581.5M347.3 582.8L346.3 581.3L345.3 579.9L344.4 578.5L343.5 577.1L342.6 575.7L341.8 574.4L340.9 573.1L340.1 571.9L339.3 570.7L338.4 569.6L337.6 568.5L336.8 567.5L335.9 566.5L335.1 565.6L334.3 564.7L333.4 563.9L332.5 563.1L331.7 562.4L330.8 561.8L329.9 561.2L329 560.6L328.1 560.2L327.2 559.7L326.2 559.4L325.3 559.1L324.4 558.9L323.4 558.7L322.5 558.6L321.5 558.5L320.6 558.5L319.6 558.6L318.7 558.7L317.8 558.9L316.9 559.1L316 559.4L315.2 559.7L314.3 560.1L313.5 560.5L312.8 561M347.3 582.8L346.3 583.3L345.2 583.8L344 584.1L342.9 584.5L341.7 584.7L340.5 584.9L339.2 585L337.9 585L336.6 585L335.3 585L333.9 584.8L332.6 584.6L331.2 584.4L329.8 584.1L328.4 583.7L327.1 583.3L325.7 582.9L324.4 582.4L323.1 581.8L321.9 581.2L320.6 580.6L319.5 579.9L318.3 579.3L317.3 578.5L316.3 577.8L315.3 577L314.4 576.2L313.6 575.4L312.9 574.5L312.2 573.7M347.3 573.3L346.4 571.9L345.5 570.5L344.7 569.2L343.8 568L342.9 566.8L342.1 565.7L341.2 564.6L340.4 563.5L339.5 562.6L338.6 561.6L337.7 560.8L336.8 560L335.9 559.2L335 558.6L334.1 557.9L333.2 557.4L332.2 556.9L331.2 556.5L330.3 556.1L329.3 555.8L328.3 555.5L327.3 555.3L326.3 555.2L325.3 555.1L324.3 555.1L323.3 555.2L322.3 555.3L321.3 555.4L320.3 555.7L319.4 555.9L318.4 556.2L317.5 556.6L316.6 557L315.8 557.5L315 558L314.2 558.5L313.5 559.1L312.8 559.8L312.2 560.4M347.3 573.3L346.4 574.2L345.5 575L344.5 575.7L343.5 576.4L342.5 577L341.5 577.6L340.5 578.1L339.4 578.5L338.3 578.9L337.2 579.1L336.1 579.4L335 579.5L333.8 579.6L332.6 579.7L331.4 579.6L330.2 579.6L329 579.4L327.8 579.2L326.6 579L325.4 578.7L324.2 578.3L323.1 577.9L321.9 577.5L320.8 577L319.8 576.4L318.7 575.9L317.8 575.2L316.8 574.6L315.9 573.9L315.1 573.2L314.3 572.5L313.6 571.7L313 570.9L312.4 570.1L311.9 569.3L311.5 568.4L311.1 567.6L310.8 566.7M347.3 562.9L346.4 561.7L345.6 560.6L344.7 559.5L343.8 558.5L342.9 557.6L342 556.7L341.1 555.9L340.2 555.1L339.2 554.4L338.2 553.8L337.3 553.2L336.3 552.7L335.3 552.3L334.2 551.9L333.2 551.6L332.1 551.3L331.1 551.2L330 551L328.9 551L327.8 551L326.7 551L325.7 551.1L324.6 551.3L323.5 551.5L322.5 551.8L321.4 552.1L320.4 552.5L319.4 552.9L318.4 553.4L317.5 553.9L316.6 554.5L315.8 555L315 555.7L314.2 556.3L313.6 557L312.9 557.8L312.4 558.5L311.9 559.3L311.4 560.1M347.3 562.9L346.4 564.1L345.6 565.2L344.7 566.3L343.8 567.3L342.9 568.2L342 569.1L341.1 569.9L340.2 570.7L339.2 571.4L338.2 572L337.3 572.6L336.3 573.1L335.3 573.5L334.2 573.9L333.2 574.2L332.1 574.5L331.1 574.6L330 574.8L328.9 574.8L327.8 574.8L326.7 574.8L325.7 574.7L324.6 574.5L323.5 574.3L322.5 574L321.4 573.7L320.4 573.3L319.4 572.9L318.4 572.4L317.5 571.9L316.6 571.3L315.8 570.8L315 570.1L314.2 569.5L313.6 568.8L312.9 568L312.4 567.3L311.9 566.5L311.4 565.7M347.3 552.5L346.4 551.6L345.5 550.8L344.5 550.1L343.5 549.4L342.5 548.8L341.5 548.2L340.5 547.7L339.4 547.3L338.3 546.9L337.2 546.7L336.1 546.4L335 546.3L333.8 546.2L332.6 546.1L331.4 546.2L330.2 546.2L329 546.4L327.8 546.6L326.6 546.8L325.4 547.1L324.2 547.5L323.1 547.9L321.9 548.3L320.8 548.8L319.8 549.4L318.7 549.9L317.8 550.6L316.8 551.2L315.9 551.9L315.1 552.6L314.3 553.3L313.6 554.1L313 554.9L312.4 555.7L311.9 556.5L311.5 557.4L311.1 558.2L310.8 559.1M347.3 552.5L346.4 553.9L345.5 555.3L344.7 556.6L343.8 557.8L342.9 559L342.1 560.1L341.2 561.2L340.4 562.3L339.5 563.2L338.6 564.2L337.7 565L336.8 565.8L335.9 566.6L335 567.2L334.1 567.9L333.2 568.4L332.2 568.9L331.2 569.3L330.3 569.7L329.3 570L328.3 570.3L327.3 570.5L326.3 570.6L325.3 570.7L324.3 570.7L323.3 570.6L322.3 570.5L321.3 570.4L320.3 570.1L319.4 569.9L318.4 569.6L317.5 569.2L316.6 568.8L315.8 568.3L315 567.8L314.2 567.3L313.5 566.7L312.8 566L312.2 565.4M347.3 543L346.3 542.5L345.2 542L344 541.7L342.9 541.3L341.7 541.1L340.5 540.9L339.2 540.8L337.9 540.8L336.6 540.8L335.3 540.8L333.9 541L332.6 541.2L331.2 541.4L329.8 541.7L328.4 542.1L327.1 542.5L325.7 542.9L324.4 543.4L323.1 544L321.9 544.6L320.6 545.2L319.5 545.9L318.3 546.5L317.3 547.3L316.3 548L315.3 548.8L314.4 549.6L313.6 550.4L312.9 551.3L312.2 552.1M347.3 543L346.3 544.5L345.3 545.9L344.4 547.3L343.5 548.7L342.6 550.1L341.8 551.4L340.9 552.7L340.1 553.9L339.3 555.1L338.4 556.2L337.6 557.3L336.8 558.3L335.9 559.3L335.1 560.2L334.3 561.1L333.4 561.9L332.5 562.7L331.7 563.4L330.8 564L329.9 564.6L329 565.2L328.1 565.6L327.2 566.1L326.2 566.4L325.3 566.7L324.4 566.9L323.4 567.1L322.5 567.2L321.5 567.3L320.6 567.3L319.6 567.2L318.7 567.1L317.8 566.9L316.9 566.7L316 566.4L315.2 566.1L314.3 565.7L313.5 565.3L312.8 564.8M347.3 535.1L345.9 535L344.5 534.9L343.1 535L341.6 535.1L340 535.2L338.4 535.4L336.8 535.7L335.2 536L333.5 536.4L331.9 536.8L330.2 537.3L328.6 537.8L327 538.4L325.4 539L323.9 539.7L322.4 540.4L321 541.1L319.6 541.9L318.3 542.7L317.1 543.5L315.9 544.3M347.3 535.1L346 536.5L344.9 538L343.8 539.4L342.8 540.8L341.9 542.2L341 543.6L340.1 544.9L339.3 546.2L338.4 547.5L337.6 548.8L336.8 550L336.1 551.2L335.3 552.3L334.5 553.4L333.7 554.5L332.9 555.5L332.2 556.5L331.4 557.4L330.6 558.3L329.8 559.1L328.9 559.9L328.1 560.6L327.3 561.3L326.4 561.9L325.6 562.4L324.7 562.9L323.9 563.4L323 563.7L322.1 564.1L321.2 564.3L320.3 564.5L319.4 564.7L318.5 564.8L317.6 564.8L316.7 564.8L315.8 564.7L314.9 564.6L314 564.4L313.2 564.1M347.3 529.4L345.2 529.7L343 530.1L340.8 530.5L338.6 531L336.5 531.6L334.3 532.1L332.2 532.8L330.1 533.4L328.1 534.2L326.2 534.9L324.3 535.7L322.5 536.5M347.3 529.4L345.4 530.7L343.9 532L342.6 533.4L341.4 534.7L340.4 536L339.4 537.3L338.5 538.6L337.6 539.9L336.8 541.2L336 542.5L335.3 543.8L334.5 545L333.8 546.2L333.1 547.4L332.4 548.6L331.7 549.7L331 550.8L330.3 551.9L329.6 552.9L328.8 553.9L328.1 554.8L327.4 555.7L326.7 556.6L325.9 557.4L325.1 558.2L324.4 558.9L323.6 559.6L322.8 560.2L322 560.8L321.2 561.3L320.3 561.7L319.5 562.1L318.6 562.5L317.8 562.8L316.9 563L316 563.2L315.2 563.3L314.3 563.3L313.4 563.3M347.3 526.5L342.4 527.2L338.5 527.9L335.1 528.7L332 529.6M347.3 526.5L343.5 527.5L341.2 528.6L339.6 529.7L338.3 530.8L337.2 532L336.2 533.1L335.4 534.3L334.6 535.5L333.8 536.7L333.1 537.9L332.5 539.1L331.8 540.3L331.2 541.4L330.6 542.6L330 543.8L329.4 545L328.8 546.1L328.2 547.2L327.6 548.3L327.1 549.4L326.5 550.5L325.8 551.5L325.2 552.5L324.6 553.4L323.9 554.3L323.3 555.2L322.6 556.1L321.9 556.9L321.2 557.6L320.5 558.3L319.8 559L319.1 559.6L318.3 560.2L317.5 560.7L316.7 561.2L315.9 561.6L315.1 561.9L314.3 562.2L313.4 562.5M330.7 530.4L330.1 531.4L329.6 532.3L329.1 533.3L328.7 534.3L328.2 535.3L327.8 536.3L327.4 537.4L327 538.4L326.6 539.5L326.2 540.6L325.9 541.7L325.5 542.8L325.1 543.8L324.6 544.9L324.2 546L323.8 547.1L323.4 548.1L322.9 549.2L322.4 550.2L321.9 551.2L321.4 552.2L320.9 553.1L320.4 554L319.8 554.9L319.3 555.8L318.7 556.6L318.1 557.4L317.4 558.1L316.8 558.8L316.1 559.5L315.4 560.1L314.7 560.7L314 561.2L313.2 561.7M320.8 537.4L320.8 538.3L320.8 539.2L320.7 540.1L320.6 541.1L320.5 542L320.4 543L320.2 544L320 545L319.8 546L319.6 547L319.3 548L319.1 549L318.8 550L318.5 550.9L318.1 551.9L317.8 552.9L317.4 553.8L317 554.7L316.5 555.6L316.1 556.5L315.6 557.3L315.1 558.1L314.5 558.9L314 559.6L313.4 560.3L312.8 561M315.3 545.2L315.3 546.1L315.4 547L315.4 547.9L315.4 548.8L315.3 549.7L315.2 550.7L315.1 551.6L314.9 552.6L314.7 553.5L314.5 554.4L314.3 555.3L314 556.2L313.7 557.1L313.4 558L313 558.8L312.6 559.6L312.2 560.4M312.1 553L312.1 553.9L312.1 554.8L312.1 555.7L312 556.6L311.9 557.5L311.8 558.3L311.6 559.2L311.4 560.1" fill="none" stroke="#000" stroke-width="1.5" stroke-linejoin="round"/><path d="M348.3 526.1V599.7" stroke="#000" stroke-width="1.3"/><ellipse cx="312.7" cy="562.9" rx="2.4" ry="4" fill="#000"/><circle cx="347.3" cy="562.9" r="36.8" fill="none" stroke="#000" stroke-width="1.3"/><g transform="translate(802.5 77) scale(-1 1)"><path d="M406.1 482.6H410.7V488.6H406.1" fill="#fff" stroke="#111" stroke-width="1.3"/><path d="M419.6 470.9L416 472.3C413.2 474.2 411.6 477 411.6 480.5V490.5C411.6 494 413.2 496.8 416 498.7L419.6 500.3Z" fill="#fff" stroke="#111" stroke-width="1.5"/><path d="M413 477.5C412.4 481 412.4 490 413 493.5" fill="none" stroke="#000" stroke-width="2.4"/><rect x="418.2" y="470.9" width="2" height="29.4" fill="#888" stroke="#111" stroke-width="0.9"/></g></svg></body></html>
